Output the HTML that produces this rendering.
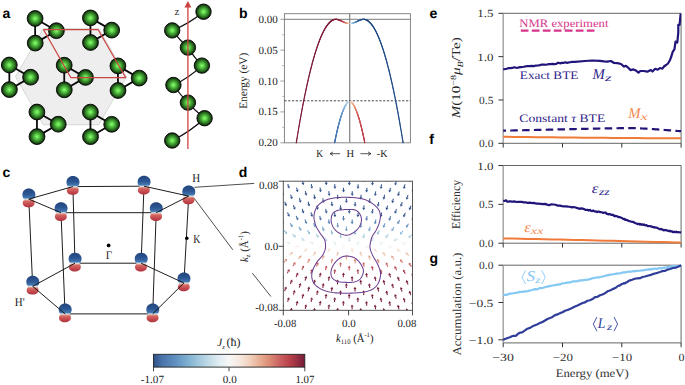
<!DOCTYPE html>
<html><head><meta charset="utf-8"><style>
html,body{margin:0;padding:0;background:#fff;width:685px;height:385px;overflow:hidden;}
svg{display:block;text-rendering:geometricPrecision;}
</style></head><body>
<svg width="685" height="385" viewBox="0 0 685 385">
<rect width="685" height="385" fill="#fff"/>
<defs>
<radialGradient id="gs" cx="0.5" cy="0.5" r="0.5" fx="0.5" fy="0.5">
 <stop offset="0" stop-color="#8cff78"/>
 <stop offset="0.18" stop-color="#6ce254"/>
 <stop offset="0.45" stop-color="#45a836"/>
 <stop offset="0.7" stop-color="#2b7021"/>
 <stop offset="0.88" stop-color="#173f10"/>
 <stop offset="1" stop-color="#0b1d07"/>
</radialGradient>
<linearGradient id="blob" gradientUnits="userSpaceOnUse" x1="0" y1="-10.5" x2="0" y2="8.3">
 <stop offset="0" stop-color="#22447c"/>
 <stop offset="0.3" stop-color="#2c5794"/>
 <stop offset="0.49" stop-color="#4677b0"/>
 <stop offset="0.54" stop-color="#9ec4de"/>
 <stop offset="0.565" stop-color="#dde8ee"/>
 <stop offset="0.595" stop-color="#e8b6a8"/>
 <stop offset="0.67" stop-color="#d46a64"/>
 <stop offset="0.85" stop-color="#c4474c"/>
 <stop offset="1" stop-color="#ac3440"/>
</linearGradient>
<linearGradient id="cbar" x1="0" y1="0" x2="1" y2="0"><stop offset="0" stop-color="#30518a"/><stop offset="0.056" stop-color="#4a74ab"/><stop offset="0.142" stop-color="#5f8fbf"/><stop offset="0.241" stop-color="#84b5d3"/><stop offset="0.307" stop-color="#a5cadf"/><stop offset="0.373" stop-color="#c5dde8"/><stop offset="0.44" stop-color="#e3eef3"/><stop offset="0.5" stop-color="#f7f7f7"/><stop offset="0.573" stop-color="#f7e8de"/><stop offset="0.638" stop-color="#f1d0bc"/><stop offset="0.704" stop-color="#e8ad92"/><stop offset="0.77" stop-color="#db8a74"/><stop offset="0.836" stop-color="#c86060"/><stop offset="0.902" stop-color="#b8404a"/><stop offset="0.968" stop-color="#8a2a40"/><stop offset="1.0" stop-color="#761b36"/></linearGradient>
</defs>
<text x="2.40" y="18.40" font-size="14" text-anchor="start" style="font-family:'Liberation Sans',sans-serif;font-weight:bold;font-style:normal" fill="#000">a</text>
<path d="M126.50,76.70 L98.75,124.76 L43.25,124.76 L15.50,76.70 L43.25,28.64 L98.75,28.64 Z" stroke="#cfcfcf" stroke-width="0.8" fill="#eeeeee" stroke-linejoin="round" stroke-linecap="butt" />
<path d="M35.10,18.50 L56.40,30.70 L35.20,43.10 Z" stroke="#0a0a0a" stroke-width="1.8" fill="none" stroke-linejoin="round" stroke-linecap="butt" />
<path d="M90.40,17.90 L111.70,30.10 L90.50,42.50 Z" stroke="#0a0a0a" stroke-width="1.8" fill="none" stroke-linejoin="round" stroke-linecap="butt" />
<path d="M9.30,65.00 L30.60,77.20 L9.40,89.60 Z" stroke="#0a0a0a" stroke-width="1.8" fill="none" stroke-linejoin="round" stroke-linecap="butt" />
<path d="M64.20,65.20 L85.50,77.40 L64.30,89.80 Z" stroke="#0a0a0a" stroke-width="1.8" fill="none" stroke-linejoin="round" stroke-linecap="butt" />
<path d="M117.90,65.90 L139.20,78.10 L118.00,90.50 Z" stroke="#0a0a0a" stroke-width="1.8" fill="none" stroke-linejoin="round" stroke-linecap="butt" />
<path d="M36.90,112.00 L58.20,124.20 L37.00,136.60 Z" stroke="#0a0a0a" stroke-width="1.8" fill="none" stroke-linejoin="round" stroke-linecap="butt" />
<path d="M90.40,112.10 L111.70,124.30 L90.50,136.70 Z" stroke="#0a0a0a" stroke-width="1.8" fill="none" stroke-linejoin="round" stroke-linecap="butt" />
<circle cx="35.10" cy="18.50" r="7.9" fill="url(#gs)" stroke="#050505" stroke-width="0.9"/>
<circle cx="56.40" cy="30.70" r="7.9" fill="url(#gs)" stroke="#050505" stroke-width="0.9"/>
<circle cx="35.20" cy="43.10" r="7.9" fill="url(#gs)" stroke="#050505" stroke-width="0.9"/>
<circle cx="90.40" cy="17.90" r="7.9" fill="url(#gs)" stroke="#050505" stroke-width="0.9"/>
<circle cx="111.70" cy="30.10" r="7.9" fill="url(#gs)" stroke="#050505" stroke-width="0.9"/>
<circle cx="90.50" cy="42.50" r="7.9" fill="url(#gs)" stroke="#050505" stroke-width="0.9"/>
<circle cx="9.30" cy="65.00" r="7.9" fill="url(#gs)" stroke="#050505" stroke-width="0.9"/>
<circle cx="30.60" cy="77.20" r="7.9" fill="url(#gs)" stroke="#050505" stroke-width="0.9"/>
<circle cx="9.40" cy="89.60" r="7.9" fill="url(#gs)" stroke="#050505" stroke-width="0.9"/>
<circle cx="64.20" cy="65.20" r="7.9" fill="url(#gs)" stroke="#050505" stroke-width="0.9"/>
<circle cx="85.50" cy="77.40" r="7.9" fill="url(#gs)" stroke="#050505" stroke-width="0.9"/>
<circle cx="64.30" cy="89.80" r="7.9" fill="url(#gs)" stroke="#050505" stroke-width="0.9"/>
<circle cx="117.90" cy="65.90" r="7.9" fill="url(#gs)" stroke="#050505" stroke-width="0.9"/>
<circle cx="139.20" cy="78.10" r="7.9" fill="url(#gs)" stroke="#050505" stroke-width="0.9"/>
<circle cx="118.00" cy="90.50" r="7.9" fill="url(#gs)" stroke="#050505" stroke-width="0.9"/>
<circle cx="36.90" cy="112.00" r="7.9" fill="url(#gs)" stroke="#050505" stroke-width="0.9"/>
<circle cx="58.20" cy="124.20" r="7.9" fill="url(#gs)" stroke="#050505" stroke-width="0.9"/>
<circle cx="37.00" cy="136.60" r="7.9" fill="url(#gs)" stroke="#050505" stroke-width="0.9"/>
<circle cx="90.40" cy="112.10" r="7.9" fill="url(#gs)" stroke="#050505" stroke-width="0.9"/>
<circle cx="111.70" cy="124.30" r="7.9" fill="url(#gs)" stroke="#050505" stroke-width="0.9"/>
<circle cx="90.50" cy="136.70" r="7.9" fill="url(#gs)" stroke="#050505" stroke-width="0.9"/>
<path d="M43.60,29.70 L98.20,29.70 L125.80,77.70 L70.90,77.70 Z" stroke="#cc4440" stroke-width="1.25" fill="none" stroke-linejoin="round" stroke-linecap="butt" />
<path d="M203.50,11.70 Q189.39,23.63 172.20,30.40" stroke="#111" stroke-width="1.3" fill="none"/>
<path d="M172.20,30.40 Q179.31,39.67 187.90,47.60" stroke="#111" stroke-width="1.3" fill="none"/>
<path d="M187.90,47.60 Q194.11,57.21 201.90,65.60" stroke="#111" stroke-width="1.3" fill="none"/>
<path d="M201.90,65.60 Q189.34,77.78 173.40,85.00" stroke="#111" stroke-width="1.3" fill="none"/>
<path d="M173.40,85.00 Q179.88,94.44 187.90,102.60" stroke="#111" stroke-width="1.3" fill="none"/>
<path d="M187.90,102.60 Q195.57,111.13 204.60,118.20" stroke="#111" stroke-width="1.3" fill="none"/>
<path d="M204.60,118.20 Q190.10,131.82 172.20,140.50" stroke="#111" stroke-width="1.3" fill="none"/>
<circle cx="203.50" cy="11.70" r="7.7" fill="url(#gs)" stroke="#050505" stroke-width="0.9"/>
<circle cx="172.20" cy="30.40" r="7.7" fill="url(#gs)" stroke="#050505" stroke-width="0.9"/>
<circle cx="187.90" cy="47.60" r="7.7" fill="url(#gs)" stroke="#050505" stroke-width="0.9"/>
<circle cx="201.90" cy="65.60" r="7.7" fill="url(#gs)" stroke="#050505" stroke-width="0.9"/>
<circle cx="173.40" cy="85.00" r="7.7" fill="url(#gs)" stroke="#050505" stroke-width="0.9"/>
<circle cx="187.90" cy="102.60" r="7.7" fill="url(#gs)" stroke="#050505" stroke-width="0.9"/>
<circle cx="204.60" cy="118.20" r="7.7" fill="url(#gs)" stroke="#050505" stroke-width="0.9"/>
<circle cx="172.20" cy="140.50" r="7.7" fill="url(#gs)" stroke="#050505" stroke-width="0.9"/>
<line x1="187.90" y1="149.00" x2="187.90" y2="6.00" stroke="#cc4440" stroke-width="1.3" />
<path d="M184.4,7.6 L187.9,1.0 L191.4,7.6 Z" fill="#cc4440"/>
<text x="174.60" y="14.60" font-size="11" text-anchor="start" style="font-family:'Liberation Serif',serif;font-weight:normal;font-style:normal" fill="#333">z</text>
<text x="239.00" y="18.30" font-size="14" text-anchor="start" style="font-family:'Liberation Sans',sans-serif;font-weight:bold;font-style:normal" fill="#000">b</text>
<rect x="284.4" y="13.7" width="126.0" height="129.10000000000002" fill="none" stroke="#7a7a7a" stroke-width="0.9"/>
<line x1="284.40" y1="19.30" x2="410.40" y2="19.30" stroke="#7a7a7a" stroke-width="1.0" />
<line x1="349.70" y1="13.70" x2="349.70" y2="142.80" stroke="#8a8a8a" stroke-width="1.3" />
<line x1="280.40" y1="19.30" x2="284.40" y2="19.30" stroke="#888" stroke-width="0.8" />
<text x="277.70" y="22.80" font-size="11" text-anchor="end" style="font-family:'Liberation Serif',serif;font-weight:normal;font-style:normal" fill="#222" textLength="19.30" lengthAdjust="spacingAndGlyphs">0.00</text>
<line x1="280.40" y1="50.17" x2="284.40" y2="50.17" stroke="#888" stroke-width="0.8" />
<text x="277.70" y="53.67" font-size="11" text-anchor="end" style="font-family:'Liberation Serif',serif;font-weight:normal;font-style:normal" fill="#222" textLength="19.30" lengthAdjust="spacingAndGlyphs">0.05</text>
<line x1="280.40" y1="81.05" x2="284.40" y2="81.05" stroke="#888" stroke-width="0.8" />
<text x="277.70" y="84.55" font-size="11" text-anchor="end" style="font-family:'Liberation Serif',serif;font-weight:normal;font-style:normal" fill="#222" textLength="19.30" lengthAdjust="spacingAndGlyphs">0.10</text>
<line x1="280.40" y1="111.92" x2="284.40" y2="111.92" stroke="#888" stroke-width="0.8" />
<text x="277.70" y="115.42" font-size="11" text-anchor="end" style="font-family:'Liberation Serif',serif;font-weight:normal;font-style:normal" fill="#222" textLength="19.30" lengthAdjust="spacingAndGlyphs">0.15</text>
<line x1="280.40" y1="142.80" x2="284.40" y2="142.80" stroke="#888" stroke-width="0.8" />
<text x="277.70" y="146.30" font-size="11" text-anchor="end" style="font-family:'Liberation Serif',serif;font-weight:normal;font-style:normal" fill="#222" textLength="19.30" lengthAdjust="spacingAndGlyphs">0.20</text>
<line x1="282.20" y1="34.74" x2="284.40" y2="34.74" stroke="#999" stroke-width="0.7" />
<line x1="282.20" y1="65.61" x2="284.40" y2="65.61" stroke="#999" stroke-width="0.7" />
<line x1="282.20" y1="96.49" x2="284.40" y2="96.49" stroke="#999" stroke-width="0.7" />
<line x1="282.20" y1="127.36" x2="284.40" y2="127.36" stroke="#999" stroke-width="0.7" />
<line x1="284.40" y1="100.81" x2="410.40" y2="100.81" stroke="#333" stroke-width="0.9" stroke-dasharray="2.2,1.6"/>
<text x="246.80" y="80.80" font-size="11.5" text-anchor="middle" style="font-family:'Liberation Serif',serif;font-weight:normal;font-style:normal" fill="#222" textLength="56.00" lengthAdjust="spacingAndGlyphs" transform="rotate(-90 246.80 80.80)">Energy (eV)</text>
<text x="316.30" y="156.90" font-size="10.2" text-anchor="start" style="font-family:'Liberation Serif',serif;font-weight:normal;font-style:normal" fill="#222" textLength="6.80" lengthAdjust="spacingAndGlyphs">K</text>
<text x="346.40" y="156.90" font-size="10.2" text-anchor="start" style="font-family:'Liberation Serif',serif;font-weight:normal;font-style:normal" fill="#222" textLength="7.60" lengthAdjust="spacingAndGlyphs">H</text>
<text x="376.80" y="156.90" font-size="10.2" text-anchor="start" style="font-family:'Liberation Serif',serif;font-weight:normal;font-style:normal" fill="#222" textLength="10.60" lengthAdjust="spacingAndGlyphs">-K</text>
<line x1="330.20" y1="153.70" x2="340.10" y2="153.70" stroke="#222" stroke-width="0.75" />
<line x1="360.40" y1="153.70" x2="370.80" y2="153.70" stroke="#222" stroke-width="0.75" />
<path d="M330.0,153.7 L333.0,151.9 M330.0,153.7 L333.0,155.5" stroke="#222" stroke-width="0.75" fill="none"/>
<path d="M371.0,153.7 L368.0,151.9 M371.0,153.7 L368.0,155.5" stroke="#222" stroke-width="0.75" fill="none"/>
<line x1="348.90" y1="23.47" x2="348.65" y2="23.45" stroke="#fbe6d8" stroke-width="1.15" stroke-linecap="round"/>
<line x1="348.65" y1="23.45" x2="348.40" y2="23.42" stroke="#fadecc" stroke-width="1.15" stroke-linecap="round"/>
<line x1="348.40" y1="23.42" x2="348.14" y2="23.39" stroke="#f8d5c0" stroke-width="1.15" stroke-linecap="round"/>
<line x1="348.14" y1="23.39" x2="347.89" y2="23.36" stroke="#f7cdb4" stroke-width="1.15" stroke-linecap="round"/>
<line x1="347.89" y1="23.36" x2="347.64" y2="23.31" stroke="#f6c4a9" stroke-width="1.15" stroke-linecap="round"/>
<line x1="347.64" y1="23.31" x2="347.39" y2="23.27" stroke="#f4bc9d" stroke-width="1.15" stroke-linecap="round"/>
<line x1="347.39" y1="23.27" x2="347.14" y2="23.21" stroke="#f3b391" stroke-width="1.15" stroke-linecap="round"/>
<line x1="347.14" y1="23.21" x2="346.88" y2="23.16" stroke="#f1ab87" stroke-width="1.15" stroke-linecap="round"/>
<line x1="346.88" y1="23.16" x2="346.63" y2="23.09" stroke="#efa482" stroke-width="1.15" stroke-linecap="round"/>
<line x1="346.63" y1="23.09" x2="346.38" y2="23.03" stroke="#ec9d7e" stroke-width="1.15" stroke-linecap="round"/>
<line x1="346.38" y1="23.03" x2="346.13" y2="22.96" stroke="#e99679" stroke-width="1.15" stroke-linecap="round"/>
<line x1="346.13" y1="22.96" x2="345.88" y2="22.88" stroke="#e78f74" stroke-width="1.15" stroke-linecap="round"/>
<line x1="345.88" y1="22.88" x2="345.62" y2="22.80" stroke="#e48770" stroke-width="1.15" stroke-linecap="round"/>
<line x1="345.62" y1="22.80" x2="345.37" y2="22.71" stroke="#e2806b" stroke-width="1.15" stroke-linecap="round"/>
<line x1="345.37" y1="22.71" x2="345.12" y2="22.62" stroke="#df7966" stroke-width="1.15" stroke-linecap="round"/>
<line x1="345.12" y1="22.62" x2="344.87" y2="22.53" stroke="#dc7262" stroke-width="1.15" stroke-linecap="round"/>
<line x1="344.87" y1="22.53" x2="344.62" y2="22.44" stroke="#da6b5d" stroke-width="1.15" stroke-linecap="round"/>
<line x1="344.62" y1="22.44" x2="344.36" y2="22.34" stroke="#d76559" stroke-width="1.15" stroke-linecap="round"/>
<line x1="344.36" y1="22.34" x2="344.11" y2="22.23" stroke="#d46158" stroke-width="1.15" stroke-linecap="round"/>
<line x1="344.11" y1="22.23" x2="343.86" y2="22.13" stroke="#d15d56" stroke-width="1.15" stroke-linecap="round"/>
<line x1="343.86" y1="22.13" x2="343.61" y2="22.02" stroke="#ce5954" stroke-width="1.15" stroke-linecap="round"/>
<line x1="343.61" y1="22.02" x2="343.35" y2="21.91" stroke="#cb5553" stroke-width="1.15" stroke-linecap="round"/>
<line x1="343.35" y1="21.91" x2="343.10" y2="21.80" stroke="#c85051" stroke-width="1.15" stroke-linecap="round"/>
<line x1="343.10" y1="21.80" x2="342.85" y2="21.69" stroke="#c54c4f" stroke-width="1.15" stroke-linecap="round"/>
<line x1="342.85" y1="21.69" x2="342.60" y2="21.57" stroke="#c2484e" stroke-width="1.15" stroke-linecap="round"/>
<line x1="342.60" y1="21.57" x2="342.35" y2="21.45" stroke="#bf444c" stroke-width="1.15" stroke-linecap="round"/>
<line x1="342.35" y1="21.45" x2="342.09" y2="21.34" stroke="#bd404a" stroke-width="1.15" stroke-linecap="round"/>
<line x1="342.09" y1="21.34" x2="341.84" y2="21.22" stroke="#ba3c49" stroke-width="1.15" stroke-linecap="round"/>
<line x1="341.84" y1="21.22" x2="341.59" y2="21.10" stroke="#b73847" stroke-width="1.15" stroke-linecap="round"/>
<line x1="341.59" y1="21.10" x2="341.34" y2="20.98" stroke="#b33546" stroke-width="1.15" stroke-linecap="round"/>
<line x1="341.34" y1="20.98" x2="341.09" y2="20.86" stroke="#b03345" stroke-width="1.15" stroke-linecap="round"/>
<line x1="341.09" y1="20.86" x2="340.83" y2="20.75" stroke="#ac3144" stroke-width="1.15" stroke-linecap="round"/>
<line x1="340.83" y1="20.75" x2="340.58" y2="20.63" stroke="#a92f43" stroke-width="1.15" stroke-linecap="round"/>
<line x1="340.58" y1="20.63" x2="340.33" y2="20.52" stroke="#a52d42" stroke-width="1.15" stroke-linecap="round"/>
<line x1="340.33" y1="20.52" x2="340.08" y2="20.41" stroke="#a12b41" stroke-width="1.15" stroke-linecap="round"/>
<line x1="340.08" y1="20.41" x2="339.83" y2="20.30" stroke="#9e2a40" stroke-width="1.15" stroke-linecap="round"/>
<line x1="339.83" y1="20.30" x2="339.57" y2="20.19" stroke="#9a283f" stroke-width="1.15" stroke-linecap="round"/>
<line x1="339.57" y1="20.19" x2="339.32" y2="20.09" stroke="#97263d" stroke-width="1.15" stroke-linecap="round"/>
<line x1="339.32" y1="20.09" x2="339.07" y2="19.99" stroke="#93243c" stroke-width="1.15" stroke-linecap="round"/>
<line x1="339.07" y1="19.99" x2="338.82" y2="19.90" stroke="#8f223b" stroke-width="1.15" stroke-linecap="round"/>
<line x1="338.82" y1="19.90" x2="338.57" y2="19.81" stroke="#8c203a" stroke-width="1.15" stroke-linecap="round"/>
<line x1="338.57" y1="19.81" x2="338.31" y2="19.73" stroke="#891f3a" stroke-width="1.15" stroke-linecap="round"/>
<line x1="338.31" y1="19.73" x2="338.06" y2="19.65" stroke="#881e39" stroke-width="1.15" stroke-linecap="round"/>
<line x1="338.06" y1="19.65" x2="337.81" y2="19.58" stroke="#871e39" stroke-width="1.15" stroke-linecap="round"/>
<line x1="337.81" y1="19.58" x2="337.56" y2="19.51" stroke="#861e39" stroke-width="1.15" stroke-linecap="round"/>
<line x1="337.56" y1="19.51" x2="337.31" y2="19.46" stroke="#851d38" stroke-width="1.15" stroke-linecap="round"/>
<line x1="337.31" y1="19.46" x2="337.05" y2="19.41" stroke="#841d38" stroke-width="1.15" stroke-linecap="round"/>
<line x1="337.05" y1="19.41" x2="336.80" y2="19.37" stroke="#831c38" stroke-width="1.15" stroke-linecap="round"/>
<line x1="336.80" y1="19.37" x2="336.55" y2="19.34" stroke="#821c37" stroke-width="1.15" stroke-linecap="round"/>
<line x1="336.55" y1="19.34" x2="336.30" y2="19.31" stroke="#811b37" stroke-width="1.15" stroke-linecap="round"/>
<line x1="336.30" y1="19.31" x2="336.05" y2="19.30" stroke="#801b37" stroke-width="1.15" stroke-linecap="round"/>
<line x1="336.05" y1="19.30" x2="335.79" y2="19.30" stroke="#7e1b36" stroke-width="1.15" stroke-linecap="round"/>
<line x1="335.79" y1="19.30" x2="335.54" y2="19.31" stroke="#7d1a36" stroke-width="1.15" stroke-linecap="round"/>
<line x1="335.54" y1="19.31" x2="335.29" y2="19.33" stroke="#7d1a36" stroke-width="1.15" stroke-linecap="round"/>
<line x1="335.29" y1="19.33" x2="335.04" y2="19.36" stroke="#7d1a36" stroke-width="1.15" stroke-linecap="round"/>
<line x1="335.04" y1="19.36" x2="334.78" y2="19.40" stroke="#7d1a36" stroke-width="1.15" stroke-linecap="round"/>
<line x1="334.78" y1="19.40" x2="334.53" y2="19.45" stroke="#7d1a36" stroke-width="1.15" stroke-linecap="round"/>
<line x1="334.53" y1="19.45" x2="334.28" y2="19.51" stroke="#7d1a36" stroke-width="1.15" stroke-linecap="round"/>
<line x1="334.28" y1="19.51" x2="334.03" y2="19.58" stroke="#7d1a36" stroke-width="1.15" stroke-linecap="round"/>
<line x1="334.03" y1="19.58" x2="333.78" y2="19.65" stroke="#7d1a36" stroke-width="1.15" stroke-linecap="round"/>
<line x1="333.78" y1="19.65" x2="333.52" y2="19.74" stroke="#7d1a36" stroke-width="1.15" stroke-linecap="round"/>
<line x1="333.52" y1="19.74" x2="333.27" y2="19.84" stroke="#7d1a36" stroke-width="1.15" stroke-linecap="round"/>
<line x1="333.27" y1="19.84" x2="333.02" y2="19.95" stroke="#7d1a36" stroke-width="1.15" stroke-linecap="round"/>
<line x1="333.02" y1="19.95" x2="332.77" y2="20.07" stroke="#7d1a36" stroke-width="1.15" stroke-linecap="round"/>
<line x1="332.77" y1="20.07" x2="332.52" y2="20.20" stroke="#7d1a36" stroke-width="1.15" stroke-linecap="round"/>
<line x1="332.52" y1="20.20" x2="332.26" y2="20.34" stroke="#7d1a36" stroke-width="1.15" stroke-linecap="round"/>
<line x1="332.26" y1="20.34" x2="332.01" y2="20.49" stroke="#7d1a36" stroke-width="1.15" stroke-linecap="round"/>
<line x1="332.01" y1="20.49" x2="331.76" y2="20.65" stroke="#7d1a36" stroke-width="1.15" stroke-linecap="round"/>
<line x1="331.76" y1="20.65" x2="331.51" y2="20.82" stroke="#7d1a36" stroke-width="1.15" stroke-linecap="round"/>
<line x1="331.51" y1="20.82" x2="331.26" y2="21.00" stroke="#7d1a36" stroke-width="1.15" stroke-linecap="round"/>
<line x1="331.26" y1="21.00" x2="331.00" y2="21.19" stroke="#7d1a36" stroke-width="1.15" stroke-linecap="round"/>
<line x1="331.00" y1="21.19" x2="330.75" y2="21.39" stroke="#7d1a36" stroke-width="1.15" stroke-linecap="round"/>
<line x1="330.75" y1="21.39" x2="330.50" y2="21.60" stroke="#7d1a36" stroke-width="1.15" stroke-linecap="round"/>
<line x1="330.50" y1="21.60" x2="330.25" y2="21.82" stroke="#7d1a36" stroke-width="1.15" stroke-linecap="round"/>
<line x1="330.25" y1="21.82" x2="330.00" y2="22.04" stroke="#7d1a36" stroke-width="1.15" stroke-linecap="round"/>
<line x1="330.00" y1="22.04" x2="329.74" y2="22.28" stroke="#7d1a36" stroke-width="1.15" stroke-linecap="round"/>
<line x1="329.74" y1="22.28" x2="329.49" y2="22.53" stroke="#7d1a36" stroke-width="1.15" stroke-linecap="round"/>
<line x1="329.49" y1="22.53" x2="329.24" y2="22.79" stroke="#7d1a36" stroke-width="1.15" stroke-linecap="round"/>
<line x1="329.24" y1="22.79" x2="328.99" y2="23.06" stroke="#7d1a36" stroke-width="1.15" stroke-linecap="round"/>
<line x1="328.99" y1="23.06" x2="328.74" y2="23.34" stroke="#7d1a36" stroke-width="1.15" stroke-linecap="round"/>
<line x1="328.74" y1="23.34" x2="328.48" y2="23.63" stroke="#7d1a36" stroke-width="1.15" stroke-linecap="round"/>
<line x1="328.48" y1="23.63" x2="328.23" y2="23.93" stroke="#7d1a36" stroke-width="1.15" stroke-linecap="round"/>
<line x1="328.23" y1="23.93" x2="327.98" y2="24.24" stroke="#7d1a36" stroke-width="1.15" stroke-linecap="round"/>
<line x1="327.98" y1="24.24" x2="327.73" y2="24.56" stroke="#7d1a36" stroke-width="1.15" stroke-linecap="round"/>
<line x1="327.73" y1="24.56" x2="327.48" y2="24.89" stroke="#7d1a36" stroke-width="1.15" stroke-linecap="round"/>
<line x1="327.48" y1="24.89" x2="327.22" y2="25.23" stroke="#7d1a36" stroke-width="1.15" stroke-linecap="round"/>
<line x1="327.22" y1="25.23" x2="326.97" y2="25.58" stroke="#7d1a36" stroke-width="1.15" stroke-linecap="round"/>
<line x1="326.97" y1="25.58" x2="326.72" y2="25.94" stroke="#7d1a36" stroke-width="1.15" stroke-linecap="round"/>
<line x1="326.72" y1="25.94" x2="326.47" y2="26.31" stroke="#7d1a36" stroke-width="1.15" stroke-linecap="round"/>
<line x1="326.47" y1="26.31" x2="326.22" y2="26.68" stroke="#7d1a36" stroke-width="1.15" stroke-linecap="round"/>
<line x1="326.22" y1="26.68" x2="325.96" y2="27.07" stroke="#7d1a36" stroke-width="1.15" stroke-linecap="round"/>
<line x1="325.96" y1="27.07" x2="325.71" y2="27.47" stroke="#7d1a36" stroke-width="1.15" stroke-linecap="round"/>
<line x1="325.71" y1="27.47" x2="325.46" y2="27.88" stroke="#7d1a36" stroke-width="1.15" stroke-linecap="round"/>
<line x1="325.46" y1="27.88" x2="325.21" y2="28.30" stroke="#7d1a36" stroke-width="1.15" stroke-linecap="round"/>
<line x1="325.21" y1="28.30" x2="324.95" y2="28.73" stroke="#7d1a36" stroke-width="1.15" stroke-linecap="round"/>
<line x1="324.95" y1="28.73" x2="324.70" y2="29.17" stroke="#7d1a36" stroke-width="1.15" stroke-linecap="round"/>
<line x1="324.70" y1="29.17" x2="324.45" y2="29.62" stroke="#7d1a36" stroke-width="1.15" stroke-linecap="round"/>
<line x1="324.45" y1="29.62" x2="324.20" y2="30.08" stroke="#7d1a36" stroke-width="1.15" stroke-linecap="round"/>
<line x1="324.20" y1="30.08" x2="323.95" y2="30.55" stroke="#7d1a36" stroke-width="1.15" stroke-linecap="round"/>
<line x1="323.95" y1="30.55" x2="323.69" y2="31.03" stroke="#7d1a36" stroke-width="1.15" stroke-linecap="round"/>
<line x1="323.69" y1="31.03" x2="323.44" y2="31.52" stroke="#7d1a36" stroke-width="1.15" stroke-linecap="round"/>
<line x1="323.44" y1="31.52" x2="323.19" y2="32.02" stroke="#7d1a36" stroke-width="1.15" stroke-linecap="round"/>
<line x1="323.19" y1="32.02" x2="322.94" y2="32.53" stroke="#7d1a36" stroke-width="1.15" stroke-linecap="round"/>
<line x1="322.94" y1="32.53" x2="322.69" y2="33.05" stroke="#7d1a36" stroke-width="1.15" stroke-linecap="round"/>
<line x1="322.69" y1="33.05" x2="322.43" y2="33.58" stroke="#7d1a36" stroke-width="1.15" stroke-linecap="round"/>
<line x1="322.43" y1="33.58" x2="322.18" y2="34.12" stroke="#7d1a36" stroke-width="1.15" stroke-linecap="round"/>
<line x1="322.18" y1="34.12" x2="321.93" y2="34.66" stroke="#7d1a36" stroke-width="1.15" stroke-linecap="round"/>
<line x1="321.93" y1="34.66" x2="321.68" y2="35.22" stroke="#7d1a36" stroke-width="1.15" stroke-linecap="round"/>
<line x1="321.68" y1="35.22" x2="321.43" y2="35.79" stroke="#7d1a36" stroke-width="1.15" stroke-linecap="round"/>
<line x1="321.43" y1="35.79" x2="321.17" y2="36.37" stroke="#7d1a36" stroke-width="1.15" stroke-linecap="round"/>
<line x1="321.17" y1="36.37" x2="320.92" y2="36.96" stroke="#7d1a36" stroke-width="1.15" stroke-linecap="round"/>
<line x1="320.92" y1="36.96" x2="320.67" y2="37.56" stroke="#7d1a36" stroke-width="1.15" stroke-linecap="round"/>
<line x1="320.67" y1="37.56" x2="320.42" y2="38.17" stroke="#7d1a36" stroke-width="1.15" stroke-linecap="round"/>
<line x1="320.42" y1="38.17" x2="320.17" y2="38.79" stroke="#7d1a36" stroke-width="1.15" stroke-linecap="round"/>
<line x1="320.17" y1="38.79" x2="319.91" y2="39.42" stroke="#7d1a36" stroke-width="1.15" stroke-linecap="round"/>
<line x1="319.91" y1="39.42" x2="319.66" y2="40.06" stroke="#7d1a36" stroke-width="1.15" stroke-linecap="round"/>
<line x1="319.66" y1="40.06" x2="319.41" y2="40.71" stroke="#7d1a36" stroke-width="1.15" stroke-linecap="round"/>
<line x1="319.41" y1="40.71" x2="319.16" y2="41.37" stroke="#7d1a36" stroke-width="1.15" stroke-linecap="round"/>
<line x1="319.16" y1="41.37" x2="318.91" y2="42.04" stroke="#7d1a36" stroke-width="1.15" stroke-linecap="round"/>
<line x1="318.91" y1="42.04" x2="318.65" y2="42.72" stroke="#7d1a36" stroke-width="1.15" stroke-linecap="round"/>
<line x1="318.65" y1="42.72" x2="318.40" y2="43.41" stroke="#7d1a36" stroke-width="1.15" stroke-linecap="round"/>
<line x1="318.40" y1="43.41" x2="318.15" y2="44.11" stroke="#7d1a36" stroke-width="1.15" stroke-linecap="round"/>
<line x1="318.15" y1="44.11" x2="317.90" y2="44.82" stroke="#7d1a36" stroke-width="1.15" stroke-linecap="round"/>
<line x1="317.90" y1="44.82" x2="317.65" y2="45.54" stroke="#7d1a36" stroke-width="1.15" stroke-linecap="round"/>
<line x1="317.65" y1="45.54" x2="317.39" y2="46.27" stroke="#7d1a36" stroke-width="1.15" stroke-linecap="round"/>
<line x1="317.39" y1="46.27" x2="317.14" y2="47.01" stroke="#7d1a36" stroke-width="1.15" stroke-linecap="round"/>
<line x1="317.14" y1="47.01" x2="316.89" y2="47.75" stroke="#7d1a36" stroke-width="1.15" stroke-linecap="round"/>
<line x1="316.89" y1="47.75" x2="316.64" y2="48.51" stroke="#7d1a36" stroke-width="1.15" stroke-linecap="round"/>
<line x1="316.64" y1="48.51" x2="316.38" y2="49.28" stroke="#7d1a36" stroke-width="1.15" stroke-linecap="round"/>
<line x1="316.38" y1="49.28" x2="316.13" y2="50.06" stroke="#7d1a36" stroke-width="1.15" stroke-linecap="round"/>
<line x1="316.13" y1="50.06" x2="315.88" y2="50.85" stroke="#7d1a36" stroke-width="1.15" stroke-linecap="round"/>
<line x1="315.88" y1="50.85" x2="315.63" y2="51.65" stroke="#7d1a36" stroke-width="1.15" stroke-linecap="round"/>
<line x1="315.63" y1="51.65" x2="315.38" y2="52.46" stroke="#7d1a36" stroke-width="1.15" stroke-linecap="round"/>
<line x1="315.38" y1="52.46" x2="315.12" y2="53.28" stroke="#7d1a36" stroke-width="1.15" stroke-linecap="round"/>
<line x1="315.12" y1="53.28" x2="314.87" y2="54.11" stroke="#7d1a36" stroke-width="1.15" stroke-linecap="round"/>
<line x1="314.87" y1="54.11" x2="314.62" y2="54.95" stroke="#7d1a36" stroke-width="1.15" stroke-linecap="round"/>
<line x1="314.62" y1="54.95" x2="314.37" y2="55.80" stroke="#7d1a36" stroke-width="1.15" stroke-linecap="round"/>
<line x1="314.37" y1="55.80" x2="314.12" y2="56.66" stroke="#7d1a36" stroke-width="1.15" stroke-linecap="round"/>
<line x1="314.12" y1="56.66" x2="313.86" y2="57.53" stroke="#7d1a36" stroke-width="1.15" stroke-linecap="round"/>
<line x1="313.86" y1="57.53" x2="313.61" y2="58.41" stroke="#7d1a36" stroke-width="1.15" stroke-linecap="round"/>
<line x1="313.61" y1="58.41" x2="313.36" y2="59.30" stroke="#7d1a36" stroke-width="1.15" stroke-linecap="round"/>
<line x1="313.36" y1="59.30" x2="313.11" y2="60.20" stroke="#7d1a36" stroke-width="1.15" stroke-linecap="round"/>
<line x1="313.11" y1="60.20" x2="312.86" y2="61.11" stroke="#7d1a36" stroke-width="1.15" stroke-linecap="round"/>
<line x1="312.86" y1="61.11" x2="312.60" y2="62.03" stroke="#7d1a36" stroke-width="1.15" stroke-linecap="round"/>
<line x1="312.60" y1="62.03" x2="312.35" y2="62.96" stroke="#7d1a36" stroke-width="1.15" stroke-linecap="round"/>
<line x1="312.35" y1="62.96" x2="312.10" y2="63.90" stroke="#7d1a36" stroke-width="1.15" stroke-linecap="round"/>
<line x1="312.10" y1="63.90" x2="311.85" y2="64.85" stroke="#7d1a36" stroke-width="1.15" stroke-linecap="round"/>
<line x1="311.85" y1="64.85" x2="311.60" y2="65.81" stroke="#7d1a36" stroke-width="1.15" stroke-linecap="round"/>
<line x1="311.60" y1="65.81" x2="311.34" y2="66.78" stroke="#7d1a36" stroke-width="1.15" stroke-linecap="round"/>
<line x1="311.34" y1="66.78" x2="311.09" y2="67.75" stroke="#7d1a36" stroke-width="1.15" stroke-linecap="round"/>
<line x1="311.09" y1="67.75" x2="310.84" y2="68.74" stroke="#7d1a36" stroke-width="1.15" stroke-linecap="round"/>
<line x1="310.84" y1="68.74" x2="310.59" y2="69.74" stroke="#7d1a36" stroke-width="1.15" stroke-linecap="round"/>
<line x1="310.59" y1="69.74" x2="310.34" y2="70.75" stroke="#7d1a36" stroke-width="1.15" stroke-linecap="round"/>
<line x1="310.34" y1="70.75" x2="310.08" y2="71.77" stroke="#7d1a36" stroke-width="1.15" stroke-linecap="round"/>
<line x1="310.08" y1="71.77" x2="309.83" y2="72.80" stroke="#7d1a36" stroke-width="1.15" stroke-linecap="round"/>
<line x1="309.83" y1="72.80" x2="309.58" y2="73.84" stroke="#7d1a36" stroke-width="1.15" stroke-linecap="round"/>
<line x1="309.58" y1="73.84" x2="309.33" y2="74.89" stroke="#7d1a36" stroke-width="1.15" stroke-linecap="round"/>
<line x1="309.33" y1="74.89" x2="309.08" y2="75.95" stroke="#7d1a36" stroke-width="1.15" stroke-linecap="round"/>
<line x1="309.08" y1="75.95" x2="308.82" y2="77.02" stroke="#7d1a36" stroke-width="1.15" stroke-linecap="round"/>
<line x1="308.82" y1="77.02" x2="308.57" y2="78.10" stroke="#7d1a36" stroke-width="1.15" stroke-linecap="round"/>
<line x1="308.57" y1="78.10" x2="308.32" y2="79.19" stroke="#7d1a36" stroke-width="1.15" stroke-linecap="round"/>
<line x1="308.32" y1="79.19" x2="308.07" y2="80.29" stroke="#7d1a36" stroke-width="1.15" stroke-linecap="round"/>
<line x1="308.07" y1="80.29" x2="307.82" y2="81.40" stroke="#7d1a36" stroke-width="1.15" stroke-linecap="round"/>
<line x1="307.82" y1="81.40" x2="307.56" y2="82.52" stroke="#7d1a36" stroke-width="1.15" stroke-linecap="round"/>
<line x1="307.56" y1="82.52" x2="307.31" y2="83.65" stroke="#7d1a36" stroke-width="1.15" stroke-linecap="round"/>
<line x1="307.31" y1="83.65" x2="307.06" y2="84.79" stroke="#7d1a36" stroke-width="1.15" stroke-linecap="round"/>
<line x1="307.06" y1="84.79" x2="306.81" y2="85.94" stroke="#7d1a36" stroke-width="1.15" stroke-linecap="round"/>
<line x1="306.81" y1="85.94" x2="306.55" y2="87.10" stroke="#7d1a36" stroke-width="1.15" stroke-linecap="round"/>
<line x1="306.55" y1="87.10" x2="306.30" y2="88.27" stroke="#7d1a36" stroke-width="1.15" stroke-linecap="round"/>
<line x1="306.30" y1="88.27" x2="306.05" y2="89.45" stroke="#7d1a36" stroke-width="1.15" stroke-linecap="round"/>
<line x1="306.05" y1="89.45" x2="305.80" y2="90.64" stroke="#7d1a36" stroke-width="1.15" stroke-linecap="round"/>
<line x1="305.80" y1="90.64" x2="305.55" y2="91.84" stroke="#7d1a36" stroke-width="1.15" stroke-linecap="round"/>
<line x1="305.55" y1="91.84" x2="305.29" y2="93.05" stroke="#7d1a36" stroke-width="1.15" stroke-linecap="round"/>
<line x1="305.29" y1="93.05" x2="305.04" y2="94.27" stroke="#7d1a36" stroke-width="1.15" stroke-linecap="round"/>
<line x1="305.04" y1="94.27" x2="304.79" y2="95.50" stroke="#7d1a36" stroke-width="1.15" stroke-linecap="round"/>
<line x1="304.79" y1="95.50" x2="304.54" y2="96.74" stroke="#7d1a36" stroke-width="1.15" stroke-linecap="round"/>
<line x1="304.54" y1="96.74" x2="304.29" y2="97.99" stroke="#7d1a36" stroke-width="1.15" stroke-linecap="round"/>
<line x1="304.29" y1="97.99" x2="304.03" y2="99.25" stroke="#7d1a36" stroke-width="1.15" stroke-linecap="round"/>
<line x1="304.03" y1="99.25" x2="303.78" y2="100.52" stroke="#7d1a36" stroke-width="1.15" stroke-linecap="round"/>
<line x1="303.78" y1="100.52" x2="303.53" y2="101.80" stroke="#7d1a36" stroke-width="1.15" stroke-linecap="round"/>
<line x1="303.53" y1="101.80" x2="303.28" y2="103.08" stroke="#7d1a36" stroke-width="1.15" stroke-linecap="round"/>
<line x1="303.28" y1="103.08" x2="303.03" y2="104.38" stroke="#7d1a36" stroke-width="1.15" stroke-linecap="round"/>
<line x1="303.03" y1="104.38" x2="302.77" y2="105.69" stroke="#7d1a36" stroke-width="1.15" stroke-linecap="round"/>
<line x1="302.77" y1="105.69" x2="302.52" y2="107.01" stroke="#7d1a36" stroke-width="1.15" stroke-linecap="round"/>
<line x1="302.52" y1="107.01" x2="302.27" y2="108.34" stroke="#7d1a36" stroke-width="1.15" stroke-linecap="round"/>
<line x1="302.27" y1="108.34" x2="302.02" y2="109.68" stroke="#7d1a36" stroke-width="1.15" stroke-linecap="round"/>
<line x1="302.02" y1="109.68" x2="301.77" y2="111.03" stroke="#7d1a36" stroke-width="1.15" stroke-linecap="round"/>
<line x1="301.77" y1="111.03" x2="301.51" y2="112.39" stroke="#7d1a36" stroke-width="1.15" stroke-linecap="round"/>
<line x1="301.51" y1="112.39" x2="301.26" y2="113.76" stroke="#7d1a36" stroke-width="1.15" stroke-linecap="round"/>
<line x1="301.26" y1="113.76" x2="301.01" y2="115.14" stroke="#7d1a36" stroke-width="1.15" stroke-linecap="round"/>
<line x1="301.01" y1="115.14" x2="300.76" y2="116.53" stroke="#7d1a36" stroke-width="1.15" stroke-linecap="round"/>
<line x1="300.76" y1="116.53" x2="300.51" y2="117.93" stroke="#7d1a36" stroke-width="1.15" stroke-linecap="round"/>
<line x1="300.51" y1="117.93" x2="300.25" y2="119.34" stroke="#7d1a36" stroke-width="1.15" stroke-linecap="round"/>
<line x1="300.25" y1="119.34" x2="300.00" y2="120.76" stroke="#7d1a36" stroke-width="1.15" stroke-linecap="round"/>
<line x1="300.00" y1="120.76" x2="299.75" y2="122.19" stroke="#7d1a36" stroke-width="1.15" stroke-linecap="round"/>
<line x1="299.75" y1="122.19" x2="299.50" y2="123.63" stroke="#7d1a36" stroke-width="1.15" stroke-linecap="round"/>
<line x1="299.50" y1="123.63" x2="299.25" y2="125.08" stroke="#7d1a36" stroke-width="1.15" stroke-linecap="round"/>
<line x1="299.25" y1="125.08" x2="298.99" y2="126.54" stroke="#7d1a36" stroke-width="1.15" stroke-linecap="round"/>
<line x1="298.99" y1="126.54" x2="298.74" y2="128.01" stroke="#7d1a36" stroke-width="1.15" stroke-linecap="round"/>
<line x1="298.74" y1="128.01" x2="298.49" y2="129.49" stroke="#7d1a36" stroke-width="1.15" stroke-linecap="round"/>
<line x1="298.49" y1="129.49" x2="298.24" y2="130.98" stroke="#7d1a36" stroke-width="1.15" stroke-linecap="round"/>
<line x1="298.24" y1="130.98" x2="297.98" y2="132.48" stroke="#7d1a36" stroke-width="1.15" stroke-linecap="round"/>
<line x1="297.98" y1="132.48" x2="297.73" y2="133.99" stroke="#7d1a36" stroke-width="1.15" stroke-linecap="round"/>
<line x1="297.73" y1="133.99" x2="297.48" y2="135.51" stroke="#7d1a36" stroke-width="1.15" stroke-linecap="round"/>
<line x1="297.48" y1="135.51" x2="297.23" y2="137.04" stroke="#7d1a36" stroke-width="1.15" stroke-linecap="round"/>
<line x1="297.23" y1="137.04" x2="296.98" y2="138.58" stroke="#7d1a36" stroke-width="1.15" stroke-linecap="round"/>
<line x1="296.98" y1="138.58" x2="296.72" y2="140.13" stroke="#7d1a36" stroke-width="1.15" stroke-linecap="round"/>
<line x1="296.72" y1="140.13" x2="296.47" y2="141.69" stroke="#7d1a36" stroke-width="1.15" stroke-linecap="round"/>
<line x1="296.47" y1="141.69" x2="296.29" y2="142.80" stroke="#7d1a36" stroke-width="1.15" stroke-linecap="round"/>
<line x1="350.50" y1="23.47" x2="350.75" y2="23.45" stroke="#dceef6" stroke-width="1.15" stroke-linecap="round"/>
<line x1="350.75" y1="23.45" x2="351.00" y2="23.42" stroke="#d4e9f3" stroke-width="1.15" stroke-linecap="round"/>
<line x1="351.00" y1="23.42" x2="351.26" y2="23.39" stroke="#cce4f0" stroke-width="1.15" stroke-linecap="round"/>
<line x1="351.26" y1="23.39" x2="351.51" y2="23.36" stroke="#c4dfee" stroke-width="1.15" stroke-linecap="round"/>
<line x1="351.51" y1="23.36" x2="351.76" y2="23.31" stroke="#bcdaeb" stroke-width="1.15" stroke-linecap="round"/>
<line x1="351.76" y1="23.31" x2="352.01" y2="23.27" stroke="#b4d6e8" stroke-width="1.15" stroke-linecap="round"/>
<line x1="352.01" y1="23.27" x2="352.26" y2="23.21" stroke="#acd1e5" stroke-width="1.15" stroke-linecap="round"/>
<line x1="352.26" y1="23.21" x2="352.52" y2="23.16" stroke="#a4cce2" stroke-width="1.15" stroke-linecap="round"/>
<line x1="352.52" y1="23.16" x2="352.77" y2="23.09" stroke="#9dc6e0" stroke-width="1.15" stroke-linecap="round"/>
<line x1="352.77" y1="23.09" x2="353.02" y2="23.03" stroke="#96c0dd" stroke-width="1.15" stroke-linecap="round"/>
<line x1="353.02" y1="23.03" x2="353.27" y2="22.96" stroke="#8fbbda" stroke-width="1.15" stroke-linecap="round"/>
<line x1="353.27" y1="22.96" x2="353.52" y2="22.88" stroke="#88b5d7" stroke-width="1.15" stroke-linecap="round"/>
<line x1="353.52" y1="22.88" x2="353.78" y2="22.80" stroke="#80afd5" stroke-width="1.15" stroke-linecap="round"/>
<line x1="353.78" y1="22.80" x2="354.03" y2="22.71" stroke="#79aad2" stroke-width="1.15" stroke-linecap="round"/>
<line x1="354.03" y1="22.71" x2="354.28" y2="22.62" stroke="#72a4cf" stroke-width="1.15" stroke-linecap="round"/>
<line x1="354.28" y1="22.62" x2="354.53" y2="22.53" stroke="#6b9ecd" stroke-width="1.15" stroke-linecap="round"/>
<line x1="354.53" y1="22.53" x2="354.78" y2="22.44" stroke="#6499ca" stroke-width="1.15" stroke-linecap="round"/>
<line x1="354.78" y1="22.44" x2="355.04" y2="22.34" stroke="#5e94c7" stroke-width="1.15" stroke-linecap="round"/>
<line x1="355.04" y1="22.34" x2="355.29" y2="22.23" stroke="#5a90c3" stroke-width="1.15" stroke-linecap="round"/>
<line x1="355.29" y1="22.23" x2="355.54" y2="22.13" stroke="#578cc0" stroke-width="1.15" stroke-linecap="round"/>
<line x1="355.54" y1="22.13" x2="355.79" y2="22.02" stroke="#5388bd" stroke-width="1.15" stroke-linecap="round"/>
<line x1="355.79" y1="22.02" x2="356.05" y2="21.91" stroke="#5084b9" stroke-width="1.15" stroke-linecap="round"/>
<line x1="356.05" y1="21.91" x2="356.30" y2="21.80" stroke="#4c80b6" stroke-width="1.15" stroke-linecap="round"/>
<line x1="356.30" y1="21.80" x2="356.55" y2="21.69" stroke="#497db2" stroke-width="1.15" stroke-linecap="round"/>
<line x1="356.55" y1="21.69" x2="356.80" y2="21.57" stroke="#4579af" stroke-width="1.15" stroke-linecap="round"/>
<line x1="356.80" y1="21.57" x2="357.05" y2="21.45" stroke="#4275ab" stroke-width="1.15" stroke-linecap="round"/>
<line x1="357.05" y1="21.45" x2="357.31" y2="21.34" stroke="#3e71a8" stroke-width="1.15" stroke-linecap="round"/>
<line x1="357.31" y1="21.34" x2="357.56" y2="21.22" stroke="#3b6da4" stroke-width="1.15" stroke-linecap="round"/>
<line x1="357.56" y1="21.22" x2="357.81" y2="21.10" stroke="#3769a1" stroke-width="1.15" stroke-linecap="round"/>
<line x1="357.81" y1="21.10" x2="358.06" y2="20.98" stroke="#34669e" stroke-width="1.15" stroke-linecap="round"/>
<line x1="358.06" y1="20.98" x2="358.31" y2="20.86" stroke="#33649c" stroke-width="1.15" stroke-linecap="round"/>
<line x1="358.31" y1="20.86" x2="358.57" y2="20.75" stroke="#31629b" stroke-width="1.15" stroke-linecap="round"/>
<line x1="358.57" y1="20.75" x2="358.82" y2="20.63" stroke="#306099" stroke-width="1.15" stroke-linecap="round"/>
<line x1="358.82" y1="20.63" x2="359.07" y2="20.52" stroke="#2e5e97" stroke-width="1.15" stroke-linecap="round"/>
<line x1="359.07" y1="20.52" x2="359.32" y2="20.41" stroke="#2d5c95" stroke-width="1.15" stroke-linecap="round"/>
<line x1="359.32" y1="20.41" x2="359.57" y2="20.30" stroke="#2b5b94" stroke-width="1.15" stroke-linecap="round"/>
<line x1="359.57" y1="20.30" x2="359.83" y2="20.19" stroke="#2a5992" stroke-width="1.15" stroke-linecap="round"/>
<line x1="359.83" y1="20.19" x2="360.08" y2="20.09" stroke="#285790" stroke-width="1.15" stroke-linecap="round"/>
<line x1="360.08" y1="20.09" x2="360.33" y2="19.99" stroke="#27558e" stroke-width="1.15" stroke-linecap="round"/>
<line x1="360.33" y1="19.99" x2="360.58" y2="19.90" stroke="#25538d" stroke-width="1.15" stroke-linecap="round"/>
<line x1="360.58" y1="19.90" x2="360.83" y2="19.81" stroke="#24518b" stroke-width="1.15" stroke-linecap="round"/>
<line x1="360.83" y1="19.81" x2="361.09" y2="19.73" stroke="#23508a" stroke-width="1.15" stroke-linecap="round"/>
<line x1="361.09" y1="19.73" x2="361.34" y2="19.65" stroke="#224f89" stroke-width="1.15" stroke-linecap="round"/>
<line x1="361.34" y1="19.65" x2="361.59" y2="19.58" stroke="#224f89" stroke-width="1.15" stroke-linecap="round"/>
<line x1="361.59" y1="19.58" x2="361.84" y2="19.51" stroke="#224e89" stroke-width="1.15" stroke-linecap="round"/>
<line x1="361.84" y1="19.51" x2="362.09" y2="19.46" stroke="#214e88" stroke-width="1.15" stroke-linecap="round"/>
<line x1="362.09" y1="19.46" x2="362.35" y2="19.41" stroke="#214d88" stroke-width="1.15" stroke-linecap="round"/>
<line x1="362.35" y1="19.41" x2="362.60" y2="19.37" stroke="#214d88" stroke-width="1.15" stroke-linecap="round"/>
<line x1="362.60" y1="19.37" x2="362.85" y2="19.34" stroke="#204c87" stroke-width="1.15" stroke-linecap="round"/>
<line x1="362.85" y1="19.34" x2="363.10" y2="19.31" stroke="#204c87" stroke-width="1.15" stroke-linecap="round"/>
<line x1="363.10" y1="19.31" x2="363.35" y2="19.30" stroke="#204b87" stroke-width="1.15" stroke-linecap="round"/>
<line x1="363.35" y1="19.30" x2="363.61" y2="19.30" stroke="#1f4b86" stroke-width="1.15" stroke-linecap="round"/>
<line x1="363.61" y1="19.30" x2="363.86" y2="19.31" stroke="#1f4a86" stroke-width="1.15" stroke-linecap="round"/>
<line x1="363.86" y1="19.31" x2="364.11" y2="19.33" stroke="#1f4a86" stroke-width="1.15" stroke-linecap="round"/>
<line x1="364.11" y1="19.33" x2="364.36" y2="19.36" stroke="#1f4a86" stroke-width="1.15" stroke-linecap="round"/>
<line x1="364.36" y1="19.36" x2="364.62" y2="19.40" stroke="#1f4a86" stroke-width="1.15" stroke-linecap="round"/>
<line x1="364.62" y1="19.40" x2="364.87" y2="19.45" stroke="#1f4a86" stroke-width="1.15" stroke-linecap="round"/>
<line x1="364.87" y1="19.45" x2="365.12" y2="19.51" stroke="#1f4a86" stroke-width="1.15" stroke-linecap="round"/>
<line x1="365.12" y1="19.51" x2="365.37" y2="19.58" stroke="#1f4a86" stroke-width="1.15" stroke-linecap="round"/>
<line x1="365.37" y1="19.58" x2="365.62" y2="19.65" stroke="#1f4a86" stroke-width="1.15" stroke-linecap="round"/>
<line x1="365.62" y1="19.65" x2="365.88" y2="19.74" stroke="#1f4a86" stroke-width="1.15" stroke-linecap="round"/>
<line x1="365.88" y1="19.74" x2="366.13" y2="19.84" stroke="#1f4a86" stroke-width="1.15" stroke-linecap="round"/>
<line x1="366.13" y1="19.84" x2="366.38" y2="19.95" stroke="#1f4a86" stroke-width="1.15" stroke-linecap="round"/>
<line x1="366.38" y1="19.95" x2="366.63" y2="20.07" stroke="#1f4a86" stroke-width="1.15" stroke-linecap="round"/>
<line x1="366.63" y1="20.07" x2="366.88" y2="20.20" stroke="#1f4a86" stroke-width="1.15" stroke-linecap="round"/>
<line x1="366.88" y1="20.20" x2="367.14" y2="20.34" stroke="#1f4a86" stroke-width="1.15" stroke-linecap="round"/>
<line x1="367.14" y1="20.34" x2="367.39" y2="20.49" stroke="#1f4a86" stroke-width="1.15" stroke-linecap="round"/>
<line x1="367.39" y1="20.49" x2="367.64" y2="20.65" stroke="#1f4a86" stroke-width="1.15" stroke-linecap="round"/>
<line x1="367.64" y1="20.65" x2="367.89" y2="20.82" stroke="#1f4a86" stroke-width="1.15" stroke-linecap="round"/>
<line x1="367.89" y1="20.82" x2="368.14" y2="21.00" stroke="#1f4a86" stroke-width="1.15" stroke-linecap="round"/>
<line x1="368.14" y1="21.00" x2="368.40" y2="21.19" stroke="#1f4a86" stroke-width="1.15" stroke-linecap="round"/>
<line x1="368.40" y1="21.19" x2="368.65" y2="21.39" stroke="#1f4a86" stroke-width="1.15" stroke-linecap="round"/>
<line x1="368.65" y1="21.39" x2="368.90" y2="21.60" stroke="#1f4a86" stroke-width="1.15" stroke-linecap="round"/>
<line x1="368.90" y1="21.60" x2="369.15" y2="21.82" stroke="#1f4a86" stroke-width="1.15" stroke-linecap="round"/>
<line x1="369.15" y1="21.82" x2="369.40" y2="22.04" stroke="#1f4a86" stroke-width="1.15" stroke-linecap="round"/>
<line x1="369.40" y1="22.04" x2="369.66" y2="22.28" stroke="#1f4a86" stroke-width="1.15" stroke-linecap="round"/>
<line x1="369.66" y1="22.28" x2="369.91" y2="22.53" stroke="#1f4a86" stroke-width="1.15" stroke-linecap="round"/>
<line x1="369.91" y1="22.53" x2="370.16" y2="22.79" stroke="#1f4a86" stroke-width="1.15" stroke-linecap="round"/>
<line x1="370.16" y1="22.79" x2="370.41" y2="23.06" stroke="#1f4a86" stroke-width="1.15" stroke-linecap="round"/>
<line x1="370.41" y1="23.06" x2="370.66" y2="23.34" stroke="#1f4a86" stroke-width="1.15" stroke-linecap="round"/>
<line x1="370.66" y1="23.34" x2="370.92" y2="23.63" stroke="#1f4a86" stroke-width="1.15" stroke-linecap="round"/>
<line x1="370.92" y1="23.63" x2="371.17" y2="23.93" stroke="#1f4a86" stroke-width="1.15" stroke-linecap="round"/>
<line x1="371.17" y1="23.93" x2="371.42" y2="24.24" stroke="#1f4a86" stroke-width="1.15" stroke-linecap="round"/>
<line x1="371.42" y1="24.24" x2="371.67" y2="24.56" stroke="#1f4a86" stroke-width="1.15" stroke-linecap="round"/>
<line x1="371.67" y1="24.56" x2="371.92" y2="24.89" stroke="#1f4a86" stroke-width="1.15" stroke-linecap="round"/>
<line x1="371.92" y1="24.89" x2="372.18" y2="25.23" stroke="#1f4a86" stroke-width="1.15" stroke-linecap="round"/>
<line x1="372.18" y1="25.23" x2="372.43" y2="25.58" stroke="#1f4a86" stroke-width="1.15" stroke-linecap="round"/>
<line x1="372.43" y1="25.58" x2="372.68" y2="25.94" stroke="#1f4a86" stroke-width="1.15" stroke-linecap="round"/>
<line x1="372.68" y1="25.94" x2="372.93" y2="26.31" stroke="#1f4a86" stroke-width="1.15" stroke-linecap="round"/>
<line x1="372.93" y1="26.31" x2="373.18" y2="26.68" stroke="#1f4a86" stroke-width="1.15" stroke-linecap="round"/>
<line x1="373.18" y1="26.68" x2="373.44" y2="27.07" stroke="#1f4a86" stroke-width="1.15" stroke-linecap="round"/>
<line x1="373.44" y1="27.07" x2="373.69" y2="27.47" stroke="#1f4a86" stroke-width="1.15" stroke-linecap="round"/>
<line x1="373.69" y1="27.47" x2="373.94" y2="27.88" stroke="#1f4a86" stroke-width="1.15" stroke-linecap="round"/>
<line x1="373.94" y1="27.88" x2="374.19" y2="28.30" stroke="#1f4a86" stroke-width="1.15" stroke-linecap="round"/>
<line x1="374.19" y1="28.30" x2="374.45" y2="28.73" stroke="#1f4a86" stroke-width="1.15" stroke-linecap="round"/>
<line x1="374.45" y1="28.73" x2="374.70" y2="29.17" stroke="#1f4a86" stroke-width="1.15" stroke-linecap="round"/>
<line x1="374.70" y1="29.17" x2="374.95" y2="29.62" stroke="#1f4a86" stroke-width="1.15" stroke-linecap="round"/>
<line x1="374.95" y1="29.62" x2="375.20" y2="30.08" stroke="#1f4a86" stroke-width="1.15" stroke-linecap="round"/>
<line x1="375.20" y1="30.08" x2="375.45" y2="30.55" stroke="#1f4a86" stroke-width="1.15" stroke-linecap="round"/>
<line x1="375.45" y1="30.55" x2="375.71" y2="31.03" stroke="#1f4a86" stroke-width="1.15" stroke-linecap="round"/>
<line x1="375.71" y1="31.03" x2="375.96" y2="31.52" stroke="#1f4a86" stroke-width="1.15" stroke-linecap="round"/>
<line x1="375.96" y1="31.52" x2="376.21" y2="32.02" stroke="#1f4a86" stroke-width="1.15" stroke-linecap="round"/>
<line x1="376.21" y1="32.02" x2="376.46" y2="32.53" stroke="#1f4a86" stroke-width="1.15" stroke-linecap="round"/>
<line x1="376.46" y1="32.53" x2="376.71" y2="33.05" stroke="#1f4a86" stroke-width="1.15" stroke-linecap="round"/>
<line x1="376.71" y1="33.05" x2="376.97" y2="33.58" stroke="#1f4a86" stroke-width="1.15" stroke-linecap="round"/>
<line x1="376.97" y1="33.58" x2="377.22" y2="34.12" stroke="#1f4a86" stroke-width="1.15" stroke-linecap="round"/>
<line x1="377.22" y1="34.12" x2="377.47" y2="34.66" stroke="#1f4a86" stroke-width="1.15" stroke-linecap="round"/>
<line x1="377.47" y1="34.66" x2="377.72" y2="35.22" stroke="#1f4a86" stroke-width="1.15" stroke-linecap="round"/>
<line x1="377.72" y1="35.22" x2="377.97" y2="35.79" stroke="#1f4a86" stroke-width="1.15" stroke-linecap="round"/>
<line x1="377.97" y1="35.79" x2="378.23" y2="36.37" stroke="#1f4a86" stroke-width="1.15" stroke-linecap="round"/>
<line x1="378.23" y1="36.37" x2="378.48" y2="36.96" stroke="#1f4a86" stroke-width="1.15" stroke-linecap="round"/>
<line x1="378.48" y1="36.96" x2="378.73" y2="37.56" stroke="#1f4a86" stroke-width="1.15" stroke-linecap="round"/>
<line x1="378.73" y1="37.56" x2="378.98" y2="38.17" stroke="#1f4a86" stroke-width="1.15" stroke-linecap="round"/>
<line x1="378.98" y1="38.17" x2="379.23" y2="38.79" stroke="#1f4a86" stroke-width="1.15" stroke-linecap="round"/>
<line x1="379.23" y1="38.79" x2="379.49" y2="39.42" stroke="#1f4a86" stroke-width="1.15" stroke-linecap="round"/>
<line x1="379.49" y1="39.42" x2="379.74" y2="40.06" stroke="#1f4a86" stroke-width="1.15" stroke-linecap="round"/>
<line x1="379.74" y1="40.06" x2="379.99" y2="40.71" stroke="#1f4a86" stroke-width="1.15" stroke-linecap="round"/>
<line x1="379.99" y1="40.71" x2="380.24" y2="41.37" stroke="#1f4a86" stroke-width="1.15" stroke-linecap="round"/>
<line x1="380.24" y1="41.37" x2="380.49" y2="42.04" stroke="#1f4a86" stroke-width="1.15" stroke-linecap="round"/>
<line x1="380.49" y1="42.04" x2="380.75" y2="42.72" stroke="#1f4a86" stroke-width="1.15" stroke-linecap="round"/>
<line x1="380.75" y1="42.72" x2="381.00" y2="43.41" stroke="#1f4a86" stroke-width="1.15" stroke-linecap="round"/>
<line x1="381.00" y1="43.41" x2="381.25" y2="44.11" stroke="#1f4a86" stroke-width="1.15" stroke-linecap="round"/>
<line x1="381.25" y1="44.11" x2="381.50" y2="44.82" stroke="#1f4a86" stroke-width="1.15" stroke-linecap="round"/>
<line x1="381.50" y1="44.82" x2="381.75" y2="45.54" stroke="#1f4a86" stroke-width="1.15" stroke-linecap="round"/>
<line x1="381.75" y1="45.54" x2="382.01" y2="46.27" stroke="#1f4a86" stroke-width="1.15" stroke-linecap="round"/>
<line x1="382.01" y1="46.27" x2="382.26" y2="47.01" stroke="#1f4a86" stroke-width="1.15" stroke-linecap="round"/>
<line x1="382.26" y1="47.01" x2="382.51" y2="47.75" stroke="#1f4a86" stroke-width="1.15" stroke-linecap="round"/>
<line x1="382.51" y1="47.75" x2="382.76" y2="48.51" stroke="#1f4a86" stroke-width="1.15" stroke-linecap="round"/>
<line x1="382.76" y1="48.51" x2="383.02" y2="49.28" stroke="#1f4a86" stroke-width="1.15" stroke-linecap="round"/>
<line x1="383.02" y1="49.28" x2="383.27" y2="50.06" stroke="#1f4a86" stroke-width="1.15" stroke-linecap="round"/>
<line x1="383.27" y1="50.06" x2="383.52" y2="50.85" stroke="#1f4a86" stroke-width="1.15" stroke-linecap="round"/>
<line x1="383.52" y1="50.85" x2="383.77" y2="51.65" stroke="#1f4a86" stroke-width="1.15" stroke-linecap="round"/>
<line x1="383.77" y1="51.65" x2="384.02" y2="52.46" stroke="#1f4a86" stroke-width="1.15" stroke-linecap="round"/>
<line x1="384.02" y1="52.46" x2="384.28" y2="53.28" stroke="#1f4a86" stroke-width="1.15" stroke-linecap="round"/>
<line x1="384.28" y1="53.28" x2="384.53" y2="54.11" stroke="#1f4a86" stroke-width="1.15" stroke-linecap="round"/>
<line x1="384.53" y1="54.11" x2="384.78" y2="54.95" stroke="#1f4a86" stroke-width="1.15" stroke-linecap="round"/>
<line x1="384.78" y1="54.95" x2="385.03" y2="55.80" stroke="#1f4a86" stroke-width="1.15" stroke-linecap="round"/>
<line x1="385.03" y1="55.80" x2="385.28" y2="56.66" stroke="#1f4a86" stroke-width="1.15" stroke-linecap="round"/>
<line x1="385.28" y1="56.66" x2="385.54" y2="57.53" stroke="#1f4a86" stroke-width="1.15" stroke-linecap="round"/>
<line x1="385.54" y1="57.53" x2="385.79" y2="58.41" stroke="#1f4a86" stroke-width="1.15" stroke-linecap="round"/>
<line x1="385.79" y1="58.41" x2="386.04" y2="59.30" stroke="#1f4a86" stroke-width="1.15" stroke-linecap="round"/>
<line x1="386.04" y1="59.30" x2="386.29" y2="60.20" stroke="#1f4a86" stroke-width="1.15" stroke-linecap="round"/>
<line x1="386.29" y1="60.20" x2="386.54" y2="61.11" stroke="#1f4a86" stroke-width="1.15" stroke-linecap="round"/>
<line x1="386.54" y1="61.11" x2="386.80" y2="62.03" stroke="#1f4a86" stroke-width="1.15" stroke-linecap="round"/>
<line x1="386.80" y1="62.03" x2="387.05" y2="62.96" stroke="#1f4a86" stroke-width="1.15" stroke-linecap="round"/>
<line x1="387.05" y1="62.96" x2="387.30" y2="63.90" stroke="#1f4a86" stroke-width="1.15" stroke-linecap="round"/>
<line x1="387.30" y1="63.90" x2="387.55" y2="64.85" stroke="#1f4a86" stroke-width="1.15" stroke-linecap="round"/>
<line x1="387.55" y1="64.85" x2="387.80" y2="65.81" stroke="#1f4a86" stroke-width="1.15" stroke-linecap="round"/>
<line x1="387.80" y1="65.81" x2="388.06" y2="66.78" stroke="#1f4a86" stroke-width="1.15" stroke-linecap="round"/>
<line x1="388.06" y1="66.78" x2="388.31" y2="67.75" stroke="#1f4a86" stroke-width="1.15" stroke-linecap="round"/>
<line x1="388.31" y1="67.75" x2="388.56" y2="68.74" stroke="#1f4a86" stroke-width="1.15" stroke-linecap="round"/>
<line x1="388.56" y1="68.74" x2="388.81" y2="69.74" stroke="#1f4a86" stroke-width="1.15" stroke-linecap="round"/>
<line x1="388.81" y1="69.74" x2="389.06" y2="70.75" stroke="#1f4a86" stroke-width="1.15" stroke-linecap="round"/>
<line x1="389.06" y1="70.75" x2="389.32" y2="71.77" stroke="#1f4a86" stroke-width="1.15" stroke-linecap="round"/>
<line x1="389.32" y1="71.77" x2="389.57" y2="72.80" stroke="#1f4a86" stroke-width="1.15" stroke-linecap="round"/>
<line x1="389.57" y1="72.80" x2="389.82" y2="73.84" stroke="#1f4a86" stroke-width="1.15" stroke-linecap="round"/>
<line x1="389.82" y1="73.84" x2="390.07" y2="74.89" stroke="#1f4a86" stroke-width="1.15" stroke-linecap="round"/>
<line x1="390.07" y1="74.89" x2="390.32" y2="75.95" stroke="#1f4a86" stroke-width="1.15" stroke-linecap="round"/>
<line x1="390.32" y1="75.95" x2="390.58" y2="77.02" stroke="#1f4a86" stroke-width="1.15" stroke-linecap="round"/>
<line x1="390.58" y1="77.02" x2="390.83" y2="78.10" stroke="#1f4a86" stroke-width="1.15" stroke-linecap="round"/>
<line x1="390.83" y1="78.10" x2="391.08" y2="79.19" stroke="#1f4a86" stroke-width="1.15" stroke-linecap="round"/>
<line x1="391.08" y1="79.19" x2="391.33" y2="80.29" stroke="#1f4a86" stroke-width="1.15" stroke-linecap="round"/>
<line x1="391.33" y1="80.29" x2="391.58" y2="81.40" stroke="#1f4a86" stroke-width="1.15" stroke-linecap="round"/>
<line x1="391.58" y1="81.40" x2="391.84" y2="82.52" stroke="#1f4a86" stroke-width="1.15" stroke-linecap="round"/>
<line x1="391.84" y1="82.52" x2="392.09" y2="83.65" stroke="#1f4a86" stroke-width="1.15" stroke-linecap="round"/>
<line x1="392.09" y1="83.65" x2="392.34" y2="84.79" stroke="#1f4a86" stroke-width="1.15" stroke-linecap="round"/>
<line x1="392.34" y1="84.79" x2="392.59" y2="85.94" stroke="#1f4a86" stroke-width="1.15" stroke-linecap="round"/>
<line x1="392.59" y1="85.94" x2="392.85" y2="87.10" stroke="#1f4a86" stroke-width="1.15" stroke-linecap="round"/>
<line x1="392.85" y1="87.10" x2="393.10" y2="88.27" stroke="#1f4a86" stroke-width="1.15" stroke-linecap="round"/>
<line x1="393.10" y1="88.27" x2="393.35" y2="89.45" stroke="#1f4a86" stroke-width="1.15" stroke-linecap="round"/>
<line x1="393.35" y1="89.45" x2="393.60" y2="90.64" stroke="#1f4a86" stroke-width="1.15" stroke-linecap="round"/>
<line x1="393.60" y1="90.64" x2="393.85" y2="91.84" stroke="#1f4a86" stroke-width="1.15" stroke-linecap="round"/>
<line x1="393.85" y1="91.84" x2="394.11" y2="93.05" stroke="#1f4a86" stroke-width="1.15" stroke-linecap="round"/>
<line x1="394.11" y1="93.05" x2="394.36" y2="94.27" stroke="#1f4a86" stroke-width="1.15" stroke-linecap="round"/>
<line x1="394.36" y1="94.27" x2="394.61" y2="95.50" stroke="#1f4a86" stroke-width="1.15" stroke-linecap="round"/>
<line x1="394.61" y1="95.50" x2="394.86" y2="96.74" stroke="#1f4a86" stroke-width="1.15" stroke-linecap="round"/>
<line x1="394.86" y1="96.74" x2="395.11" y2="97.99" stroke="#1f4a86" stroke-width="1.15" stroke-linecap="round"/>
<line x1="395.11" y1="97.99" x2="395.37" y2="99.25" stroke="#1f4a86" stroke-width="1.15" stroke-linecap="round"/>
<line x1="395.37" y1="99.25" x2="395.62" y2="100.52" stroke="#1f4a86" stroke-width="1.15" stroke-linecap="round"/>
<line x1="395.62" y1="100.52" x2="395.87" y2="101.80" stroke="#1f4a86" stroke-width="1.15" stroke-linecap="round"/>
<line x1="395.87" y1="101.80" x2="396.12" y2="103.08" stroke="#1f4a86" stroke-width="1.15" stroke-linecap="round"/>
<line x1="396.12" y1="103.08" x2="396.37" y2="104.38" stroke="#1f4a86" stroke-width="1.15" stroke-linecap="round"/>
<line x1="396.37" y1="104.38" x2="396.63" y2="105.69" stroke="#1f4a86" stroke-width="1.15" stroke-linecap="round"/>
<line x1="396.63" y1="105.69" x2="396.88" y2="107.01" stroke="#1f4a86" stroke-width="1.15" stroke-linecap="round"/>
<line x1="396.88" y1="107.01" x2="397.13" y2="108.34" stroke="#1f4a86" stroke-width="1.15" stroke-linecap="round"/>
<line x1="397.13" y1="108.34" x2="397.38" y2="109.68" stroke="#1f4a86" stroke-width="1.15" stroke-linecap="round"/>
<line x1="397.38" y1="109.68" x2="397.63" y2="111.03" stroke="#1f4a86" stroke-width="1.15" stroke-linecap="round"/>
<line x1="397.63" y1="111.03" x2="397.89" y2="112.39" stroke="#1f4a86" stroke-width="1.15" stroke-linecap="round"/>
<line x1="397.89" y1="112.39" x2="398.14" y2="113.76" stroke="#1f4a86" stroke-width="1.15" stroke-linecap="round"/>
<line x1="398.14" y1="113.76" x2="398.39" y2="115.14" stroke="#1f4a86" stroke-width="1.15" stroke-linecap="round"/>
<line x1="398.39" y1="115.14" x2="398.64" y2="116.53" stroke="#1f4a86" stroke-width="1.15" stroke-linecap="round"/>
<line x1="398.64" y1="116.53" x2="398.89" y2="117.93" stroke="#1f4a86" stroke-width="1.15" stroke-linecap="round"/>
<line x1="398.89" y1="117.93" x2="399.15" y2="119.34" stroke="#1f4a86" stroke-width="1.15" stroke-linecap="round"/>
<line x1="399.15" y1="119.34" x2="399.40" y2="120.76" stroke="#1f4a86" stroke-width="1.15" stroke-linecap="round"/>
<line x1="399.40" y1="120.76" x2="399.65" y2="122.19" stroke="#1f4a86" stroke-width="1.15" stroke-linecap="round"/>
<line x1="399.65" y1="122.19" x2="399.90" y2="123.63" stroke="#1f4a86" stroke-width="1.15" stroke-linecap="round"/>
<line x1="399.90" y1="123.63" x2="400.15" y2="125.08" stroke="#1f4a86" stroke-width="1.15" stroke-linecap="round"/>
<line x1="400.15" y1="125.08" x2="400.41" y2="126.54" stroke="#1f4a86" stroke-width="1.15" stroke-linecap="round"/>
<line x1="400.41" y1="126.54" x2="400.66" y2="128.01" stroke="#1f4a86" stroke-width="1.15" stroke-linecap="round"/>
<line x1="400.66" y1="128.01" x2="400.91" y2="129.49" stroke="#1f4a86" stroke-width="1.15" stroke-linecap="round"/>
<line x1="400.91" y1="129.49" x2="401.16" y2="130.98" stroke="#1f4a86" stroke-width="1.15" stroke-linecap="round"/>
<line x1="401.16" y1="130.98" x2="401.42" y2="132.48" stroke="#1f4a86" stroke-width="1.15" stroke-linecap="round"/>
<line x1="401.42" y1="132.48" x2="401.67" y2="133.99" stroke="#1f4a86" stroke-width="1.15" stroke-linecap="round"/>
<line x1="401.67" y1="133.99" x2="401.92" y2="135.51" stroke="#1f4a86" stroke-width="1.15" stroke-linecap="round"/>
<line x1="401.92" y1="135.51" x2="402.17" y2="137.04" stroke="#1f4a86" stroke-width="1.15" stroke-linecap="round"/>
<line x1="402.17" y1="137.04" x2="402.42" y2="138.58" stroke="#1f4a86" stroke-width="1.15" stroke-linecap="round"/>
<line x1="402.42" y1="138.58" x2="402.68" y2="140.13" stroke="#1f4a86" stroke-width="1.15" stroke-linecap="round"/>
<line x1="402.68" y1="140.13" x2="402.93" y2="141.69" stroke="#1f4a86" stroke-width="1.15" stroke-linecap="round"/>
<line x1="402.93" y1="141.69" x2="403.11" y2="142.80" stroke="#1f4a86" stroke-width="1.15" stroke-linecap="round"/>
<line x1="348.70" y1="101.44" x2="348.63" y2="101.49" stroke="#d4e8f4" stroke-width="1.15" stroke-linecap="round"/>
<line x1="348.63" y1="101.49" x2="348.56" y2="101.55" stroke="#d3e7f4" stroke-width="1.15" stroke-linecap="round"/>
<line x1="348.56" y1="101.55" x2="348.49" y2="101.61" stroke="#d1e6f3" stroke-width="1.15" stroke-linecap="round"/>
<line x1="348.49" y1="101.61" x2="348.43" y2="101.66" stroke="#d0e6f3" stroke-width="1.15" stroke-linecap="round"/>
<line x1="348.43" y1="101.66" x2="348.36" y2="101.72" stroke="#cfe5f2" stroke-width="1.15" stroke-linecap="round"/>
<line x1="348.36" y1="101.72" x2="348.29" y2="101.79" stroke="#cee4f2" stroke-width="1.15" stroke-linecap="round"/>
<line x1="348.29" y1="101.79" x2="348.22" y2="101.85" stroke="#cce3f2" stroke-width="1.15" stroke-linecap="round"/>
<line x1="348.22" y1="101.85" x2="348.15" y2="101.91" stroke="#cbe3f1" stroke-width="1.15" stroke-linecap="round"/>
<line x1="348.15" y1="101.91" x2="348.08" y2="101.98" stroke="#cae2f1" stroke-width="1.15" stroke-linecap="round"/>
<line x1="348.08" y1="101.98" x2="348.02" y2="102.05" stroke="#c8e1f0" stroke-width="1.15" stroke-linecap="round"/>
<line x1="348.02" y1="102.05" x2="347.95" y2="102.11" stroke="#c7e0f0" stroke-width="1.15" stroke-linecap="round"/>
<line x1="347.95" y1="102.11" x2="347.88" y2="102.18" stroke="#c6dfef" stroke-width="1.15" stroke-linecap="round"/>
<line x1="347.88" y1="102.18" x2="347.81" y2="102.26" stroke="#c5dfef" stroke-width="1.15" stroke-linecap="round"/>
<line x1="347.81" y1="102.26" x2="347.74" y2="102.33" stroke="#c3deef" stroke-width="1.15" stroke-linecap="round"/>
<line x1="347.74" y1="102.33" x2="347.67" y2="102.40" stroke="#c2ddee" stroke-width="1.15" stroke-linecap="round"/>
<line x1="347.67" y1="102.40" x2="347.60" y2="102.48" stroke="#c1dcee" stroke-width="1.15" stroke-linecap="round"/>
<line x1="347.60" y1="102.48" x2="347.54" y2="102.56" stroke="#c0dced" stroke-width="1.15" stroke-linecap="round"/>
<line x1="347.54" y1="102.56" x2="347.47" y2="102.63" stroke="#bedbed" stroke-width="1.15" stroke-linecap="round"/>
<line x1="347.47" y1="102.63" x2="347.40" y2="102.71" stroke="#bddaed" stroke-width="1.15" stroke-linecap="round"/>
<line x1="347.40" y1="102.71" x2="347.33" y2="102.80" stroke="#bcd9ec" stroke-width="1.15" stroke-linecap="round"/>
<line x1="347.33" y1="102.80" x2="347.26" y2="102.88" stroke="#bad8ec" stroke-width="1.15" stroke-linecap="round"/>
<line x1="347.26" y1="102.88" x2="347.19" y2="102.96" stroke="#b9d8eb" stroke-width="1.15" stroke-linecap="round"/>
<line x1="347.19" y1="102.96" x2="347.12" y2="103.05" stroke="#b8d7eb" stroke-width="1.15" stroke-linecap="round"/>
<line x1="347.12" y1="103.05" x2="347.06" y2="103.14" stroke="#b7d6eb" stroke-width="1.15" stroke-linecap="round"/>
<line x1="347.06" y1="103.14" x2="346.99" y2="103.22" stroke="#b5d5ea" stroke-width="1.15" stroke-linecap="round"/>
<line x1="346.99" y1="103.22" x2="346.92" y2="103.31" stroke="#b4d5ea" stroke-width="1.15" stroke-linecap="round"/>
<line x1="346.92" y1="103.31" x2="346.85" y2="103.41" stroke="#b3d4e9" stroke-width="1.15" stroke-linecap="round"/>
<line x1="346.85" y1="103.41" x2="346.78" y2="103.50" stroke="#b1d3e9" stroke-width="1.15" stroke-linecap="round"/>
<line x1="346.78" y1="103.50" x2="346.71" y2="103.59" stroke="#b0d2e8" stroke-width="1.15" stroke-linecap="round"/>
<line x1="346.71" y1="103.59" x2="346.65" y2="103.69" stroke="#afd1e8" stroke-width="1.15" stroke-linecap="round"/>
<line x1="346.65" y1="103.69" x2="346.58" y2="103.79" stroke="#aed1e8" stroke-width="1.15" stroke-linecap="round"/>
<line x1="346.58" y1="103.79" x2="346.51" y2="103.88" stroke="#acd0e7" stroke-width="1.15" stroke-linecap="round"/>
<line x1="346.51" y1="103.88" x2="346.44" y2="103.98" stroke="#abcfe7" stroke-width="1.15" stroke-linecap="round"/>
<line x1="346.44" y1="103.98" x2="346.37" y2="104.09" stroke="#aacee6" stroke-width="1.15" stroke-linecap="round"/>
<line x1="346.37" y1="104.09" x2="346.30" y2="104.19" stroke="#a9cee6" stroke-width="1.15" stroke-linecap="round"/>
<line x1="346.30" y1="104.19" x2="346.23" y2="104.29" stroke="#a7cde6" stroke-width="1.15" stroke-linecap="round"/>
<line x1="346.23" y1="104.29" x2="346.17" y2="104.40" stroke="#a6cce5" stroke-width="1.15" stroke-linecap="round"/>
<line x1="346.17" y1="104.40" x2="346.10" y2="104.51" stroke="#a5cbe5" stroke-width="1.15" stroke-linecap="round"/>
<line x1="346.10" y1="104.51" x2="346.03" y2="104.62" stroke="#a3cbe4" stroke-width="1.15" stroke-linecap="round"/>
<line x1="346.03" y1="104.62" x2="345.96" y2="104.73" stroke="#a2cae4" stroke-width="1.15" stroke-linecap="round"/>
<line x1="345.96" y1="104.73" x2="345.89" y2="104.84" stroke="#a1c9e4" stroke-width="1.15" stroke-linecap="round"/>
<line x1="345.89" y1="104.84" x2="345.82" y2="104.95" stroke="#a0c8e3" stroke-width="1.15" stroke-linecap="round"/>
<line x1="345.82" y1="104.95" x2="345.75" y2="105.06" stroke="#9ec7e3" stroke-width="1.15" stroke-linecap="round"/>
<line x1="345.75" y1="105.06" x2="345.69" y2="105.18" stroke="#9dc7e2" stroke-width="1.15" stroke-linecap="round"/>
<line x1="345.69" y1="105.18" x2="345.62" y2="105.30" stroke="#9cc6e2" stroke-width="1.15" stroke-linecap="round"/>
<line x1="345.62" y1="105.30" x2="345.55" y2="105.42" stroke="#9bc5e2" stroke-width="1.15" stroke-linecap="round"/>
<line x1="345.55" y1="105.42" x2="345.48" y2="105.54" stroke="#9ac4e1" stroke-width="1.15" stroke-linecap="round"/>
<line x1="345.48" y1="105.54" x2="345.41" y2="105.66" stroke="#99c3e1" stroke-width="1.15" stroke-linecap="round"/>
<line x1="345.41" y1="105.66" x2="345.34" y2="105.78" stroke="#98c3e0" stroke-width="1.15" stroke-linecap="round"/>
<line x1="345.34" y1="105.78" x2="345.28" y2="105.91" stroke="#97c2e0" stroke-width="1.15" stroke-linecap="round"/>
<line x1="345.28" y1="105.91" x2="345.21" y2="106.03" stroke="#96c1e0" stroke-width="1.15" stroke-linecap="round"/>
<line x1="345.21" y1="106.03" x2="345.14" y2="106.16" stroke="#96c0df" stroke-width="1.15" stroke-linecap="round"/>
<line x1="345.14" y1="106.16" x2="345.07" y2="106.29" stroke="#95bfdf" stroke-width="1.15" stroke-linecap="round"/>
<line x1="345.07" y1="106.29" x2="345.00" y2="106.42" stroke="#94bfde" stroke-width="1.15" stroke-linecap="round"/>
<line x1="345.00" y1="106.42" x2="344.93" y2="106.55" stroke="#93bede" stroke-width="1.15" stroke-linecap="round"/>
<line x1="344.93" y1="106.55" x2="344.86" y2="106.68" stroke="#92bdde" stroke-width="1.15" stroke-linecap="round"/>
<line x1="344.86" y1="106.68" x2="344.80" y2="106.82" stroke="#91bcdd" stroke-width="1.15" stroke-linecap="round"/>
<line x1="344.80" y1="106.82" x2="344.73" y2="106.95" stroke="#90bcdd" stroke-width="1.15" stroke-linecap="round"/>
<line x1="344.73" y1="106.95" x2="344.66" y2="107.09" stroke="#8fbbdd" stroke-width="1.15" stroke-linecap="round"/>
<line x1="344.66" y1="107.09" x2="344.59" y2="107.23" stroke="#8ebadc" stroke-width="1.15" stroke-linecap="round"/>
<line x1="344.59" y1="107.23" x2="344.52" y2="107.37" stroke="#8eb9dc" stroke-width="1.15" stroke-linecap="round"/>
<line x1="344.52" y1="107.37" x2="344.45" y2="107.51" stroke="#8db8db" stroke-width="1.15" stroke-linecap="round"/>
<line x1="344.45" y1="107.51" x2="344.38" y2="107.65" stroke="#8cb8db" stroke-width="1.15" stroke-linecap="round"/>
<line x1="344.38" y1="107.65" x2="344.32" y2="107.80" stroke="#8bb7db" stroke-width="1.15" stroke-linecap="round"/>
<line x1="344.32" y1="107.80" x2="344.25" y2="107.94" stroke="#8ab6da" stroke-width="1.15" stroke-linecap="round"/>
<line x1="344.25" y1="107.94" x2="344.18" y2="108.09" stroke="#89b5da" stroke-width="1.15" stroke-linecap="round"/>
<line x1="344.18" y1="108.09" x2="344.11" y2="108.24" stroke="#88b4d9" stroke-width="1.15" stroke-linecap="round"/>
<line x1="344.11" y1="108.24" x2="344.04" y2="108.39" stroke="#87b4d9" stroke-width="1.15" stroke-linecap="round"/>
<line x1="344.04" y1="108.39" x2="343.97" y2="108.54" stroke="#86b3d9" stroke-width="1.15" stroke-linecap="round"/>
<line x1="343.97" y1="108.54" x2="343.91" y2="108.70" stroke="#86b2d8" stroke-width="1.15" stroke-linecap="round"/>
<line x1="343.91" y1="108.70" x2="343.84" y2="108.85" stroke="#85b1d8" stroke-width="1.15" stroke-linecap="round"/>
<line x1="343.84" y1="108.85" x2="343.77" y2="109.01" stroke="#84b0d8" stroke-width="1.15" stroke-linecap="round"/>
<line x1="343.77" y1="109.01" x2="343.70" y2="109.16" stroke="#83b0d7" stroke-width="1.15" stroke-linecap="round"/>
<line x1="343.70" y1="109.16" x2="343.63" y2="109.32" stroke="#82afd7" stroke-width="1.15" stroke-linecap="round"/>
<line x1="343.63" y1="109.32" x2="343.56" y2="109.48" stroke="#81aed6" stroke-width="1.15" stroke-linecap="round"/>
<line x1="343.56" y1="109.48" x2="343.49" y2="109.64" stroke="#80add6" stroke-width="1.15" stroke-linecap="round"/>
<line x1="343.49" y1="109.64" x2="343.43" y2="109.81" stroke="#7facd6" stroke-width="1.15" stroke-linecap="round"/>
<line x1="343.43" y1="109.81" x2="343.36" y2="109.97" stroke="#7eacd5" stroke-width="1.15" stroke-linecap="round"/>
<line x1="343.36" y1="109.97" x2="343.29" y2="110.14" stroke="#7eabd5" stroke-width="1.15" stroke-linecap="round"/>
<line x1="343.29" y1="110.14" x2="343.22" y2="110.31" stroke="#7daad4" stroke-width="1.15" stroke-linecap="round"/>
<line x1="343.22" y1="110.31" x2="343.15" y2="110.47" stroke="#7ca9d4" stroke-width="1.15" stroke-linecap="round"/>
<line x1="343.15" y1="110.47" x2="343.08" y2="110.64" stroke="#7ba8d4" stroke-width="1.15" stroke-linecap="round"/>
<line x1="343.08" y1="110.64" x2="343.02" y2="110.82" stroke="#7aa8d3" stroke-width="1.15" stroke-linecap="round"/>
<line x1="343.02" y1="110.82" x2="342.95" y2="110.99" stroke="#79a7d3" stroke-width="1.15" stroke-linecap="round"/>
<line x1="342.95" y1="110.99" x2="342.88" y2="111.16" stroke="#78a6d3" stroke-width="1.15" stroke-linecap="round"/>
<line x1="342.88" y1="111.16" x2="342.81" y2="111.34" stroke="#77a5d2" stroke-width="1.15" stroke-linecap="round"/>
<line x1="342.81" y1="111.34" x2="342.74" y2="111.52" stroke="#76a4d2" stroke-width="1.15" stroke-linecap="round"/>
<line x1="342.74" y1="111.52" x2="342.67" y2="111.70" stroke="#76a4d1" stroke-width="1.15" stroke-linecap="round"/>
<line x1="342.67" y1="111.70" x2="342.60" y2="111.88" stroke="#75a3d1" stroke-width="1.15" stroke-linecap="round"/>
<line x1="342.60" y1="111.88" x2="342.54" y2="112.06" stroke="#74a2d1" stroke-width="1.15" stroke-linecap="round"/>
<line x1="342.54" y1="112.06" x2="342.47" y2="112.24" stroke="#73a1d0" stroke-width="1.15" stroke-linecap="round"/>
<line x1="342.47" y1="112.24" x2="342.40" y2="112.43" stroke="#72a0d0" stroke-width="1.15" stroke-linecap="round"/>
<line x1="342.40" y1="112.43" x2="342.33" y2="112.61" stroke="#71a0d0" stroke-width="1.15" stroke-linecap="round"/>
<line x1="342.33" y1="112.61" x2="342.26" y2="112.80" stroke="#709fcf" stroke-width="1.15" stroke-linecap="round"/>
<line x1="342.26" y1="112.80" x2="342.19" y2="112.99" stroke="#6f9ecf" stroke-width="1.15" stroke-linecap="round"/>
<line x1="342.19" y1="112.99" x2="342.12" y2="113.18" stroke="#6e9dce" stroke-width="1.15" stroke-linecap="round"/>
<line x1="342.12" y1="113.18" x2="342.06" y2="113.37" stroke="#6e9dce" stroke-width="1.15" stroke-linecap="round"/>
<line x1="342.06" y1="113.37" x2="341.99" y2="113.56" stroke="#6d9cce" stroke-width="1.15" stroke-linecap="round"/>
<line x1="341.99" y1="113.56" x2="341.92" y2="113.76" stroke="#6c9bcd" stroke-width="1.15" stroke-linecap="round"/>
<line x1="341.92" y1="113.76" x2="341.85" y2="113.95" stroke="#6b9acd" stroke-width="1.15" stroke-linecap="round"/>
<line x1="341.85" y1="113.95" x2="341.78" y2="114.15" stroke="#6a99cc" stroke-width="1.15" stroke-linecap="round"/>
<line x1="341.78" y1="114.15" x2="341.71" y2="114.35" stroke="#6999cc" stroke-width="1.15" stroke-linecap="round"/>
<line x1="341.71" y1="114.35" x2="341.65" y2="114.55" stroke="#6898cc" stroke-width="1.15" stroke-linecap="round"/>
<line x1="341.65" y1="114.55" x2="341.58" y2="114.75" stroke="#6797cb" stroke-width="1.15" stroke-linecap="round"/>
<line x1="341.58" y1="114.75" x2="341.51" y2="114.96" stroke="#6696cb" stroke-width="1.15" stroke-linecap="round"/>
<line x1="341.51" y1="114.96" x2="341.44" y2="115.16" stroke="#6695cb" stroke-width="1.15" stroke-linecap="round"/>
<line x1="341.44" y1="115.16" x2="341.37" y2="115.37" stroke="#6595ca" stroke-width="1.15" stroke-linecap="round"/>
<line x1="341.37" y1="115.37" x2="341.30" y2="115.57" stroke="#6494ca" stroke-width="1.15" stroke-linecap="round"/>
<line x1="341.30" y1="115.57" x2="341.23" y2="115.78" stroke="#6393c9" stroke-width="1.15" stroke-linecap="round"/>
<line x1="341.23" y1="115.78" x2="341.17" y2="115.99" stroke="#6292c9" stroke-width="1.15" stroke-linecap="round"/>
<line x1="341.17" y1="115.99" x2="341.10" y2="116.21" stroke="#6191c9" stroke-width="1.15" stroke-linecap="round"/>
<line x1="341.10" y1="116.21" x2="341.03" y2="116.42" stroke="#6091c8" stroke-width="1.15" stroke-linecap="round"/>
<line x1="341.03" y1="116.42" x2="340.96" y2="116.63" stroke="#5f90c8" stroke-width="1.15" stroke-linecap="round"/>
<line x1="340.96" y1="116.63" x2="340.89" y2="116.85" stroke="#5e8fc7" stroke-width="1.15" stroke-linecap="round"/>
<line x1="340.89" y1="116.85" x2="340.82" y2="117.07" stroke="#5d8ec7" stroke-width="1.15" stroke-linecap="round"/>
<line x1="340.82" y1="117.07" x2="340.75" y2="117.29" stroke="#5d8dc7" stroke-width="1.15" stroke-linecap="round"/>
<line x1="340.75" y1="117.29" x2="340.69" y2="117.51" stroke="#5c8dc6" stroke-width="1.15" stroke-linecap="round"/>
<line x1="340.69" y1="117.51" x2="340.62" y2="117.73" stroke="#5b8cc6" stroke-width="1.15" stroke-linecap="round"/>
<line x1="340.62" y1="117.73" x2="340.55" y2="117.95" stroke="#5b8cc6" stroke-width="1.15" stroke-linecap="round"/>
<line x1="340.55" y1="117.95" x2="340.48" y2="118.18" stroke="#5a8bc5" stroke-width="1.15" stroke-linecap="round"/>
<line x1="340.48" y1="118.18" x2="340.41" y2="118.40" stroke="#5a8bc5" stroke-width="1.15" stroke-linecap="round"/>
<line x1="340.41" y1="118.40" x2="340.34" y2="118.63" stroke="#5a8bc5" stroke-width="1.15" stroke-linecap="round"/>
<line x1="340.34" y1="118.63" x2="340.28" y2="118.86" stroke="#598ac5" stroke-width="1.15" stroke-linecap="round"/>
<line x1="340.28" y1="118.86" x2="340.21" y2="119.09" stroke="#598ac4" stroke-width="1.15" stroke-linecap="round"/>
<line x1="340.21" y1="119.09" x2="340.14" y2="119.32" stroke="#5989c4" stroke-width="1.15" stroke-linecap="round"/>
<line x1="340.14" y1="119.32" x2="340.07" y2="119.56" stroke="#5889c4" stroke-width="1.15" stroke-linecap="round"/>
<line x1="340.07" y1="119.56" x2="340.00" y2="119.79" stroke="#5889c4" stroke-width="1.15" stroke-linecap="round"/>
<line x1="340.00" y1="119.79" x2="339.93" y2="120.03" stroke="#5888c3" stroke-width="1.15" stroke-linecap="round"/>
<line x1="339.93" y1="120.03" x2="339.86" y2="120.26" stroke="#5788c3" stroke-width="1.15" stroke-linecap="round"/>
<line x1="339.86" y1="120.26" x2="339.80" y2="120.50" stroke="#5788c3" stroke-width="1.15" stroke-linecap="round"/>
<line x1="339.80" y1="120.50" x2="339.73" y2="120.74" stroke="#5787c3" stroke-width="1.15" stroke-linecap="round"/>
<line x1="339.73" y1="120.74" x2="339.66" y2="120.99" stroke="#5687c2" stroke-width="1.15" stroke-linecap="round"/>
<line x1="339.66" y1="120.99" x2="339.59" y2="121.23" stroke="#5687c2" stroke-width="1.15" stroke-linecap="round"/>
<line x1="339.59" y1="121.23" x2="339.52" y2="121.47" stroke="#5686c2" stroke-width="1.15" stroke-linecap="round"/>
<line x1="339.52" y1="121.47" x2="339.45" y2="121.72" stroke="#5686c2" stroke-width="1.15" stroke-linecap="round"/>
<line x1="339.45" y1="121.72" x2="339.38" y2="121.97" stroke="#5586c1" stroke-width="1.15" stroke-linecap="round"/>
<line x1="339.38" y1="121.97" x2="339.32" y2="122.22" stroke="#5585c1" stroke-width="1.15" stroke-linecap="round"/>
<line x1="339.32" y1="122.22" x2="339.25" y2="122.47" stroke="#5585c1" stroke-width="1.15" stroke-linecap="round"/>
<line x1="339.25" y1="122.47" x2="339.18" y2="122.72" stroke="#5484c1" stroke-width="1.15" stroke-linecap="round"/>
<line x1="339.18" y1="122.72" x2="339.11" y2="122.97" stroke="#5484c0" stroke-width="1.15" stroke-linecap="round"/>
<line x1="339.11" y1="122.97" x2="339.04" y2="123.23" stroke="#5484c0" stroke-width="1.15" stroke-linecap="round"/>
<line x1="339.04" y1="123.23" x2="338.97" y2="123.48" stroke="#5383c0" stroke-width="1.15" stroke-linecap="round"/>
<line x1="338.97" y1="123.48" x2="338.91" y2="123.74" stroke="#5383c0" stroke-width="1.15" stroke-linecap="round"/>
<line x1="338.91" y1="123.74" x2="338.84" y2="124.00" stroke="#5383bf" stroke-width="1.15" stroke-linecap="round"/>
<line x1="338.84" y1="124.00" x2="338.77" y2="124.26" stroke="#5282bf" stroke-width="1.15" stroke-linecap="round"/>
<line x1="338.77" y1="124.26" x2="338.70" y2="124.52" stroke="#5282bf" stroke-width="1.15" stroke-linecap="round"/>
<line x1="338.70" y1="124.52" x2="338.63" y2="124.79" stroke="#5282bf" stroke-width="1.15" stroke-linecap="round"/>
<line x1="338.63" y1="124.79" x2="338.56" y2="125.05" stroke="#5181be" stroke-width="1.15" stroke-linecap="round"/>
<line x1="338.56" y1="125.05" x2="338.49" y2="125.32" stroke="#5181be" stroke-width="1.15" stroke-linecap="round"/>
<line x1="338.49" y1="125.32" x2="338.43" y2="125.58" stroke="#5181be" stroke-width="1.15" stroke-linecap="round"/>
<line x1="338.43" y1="125.58" x2="338.36" y2="125.85" stroke="#5080be" stroke-width="1.15" stroke-linecap="round"/>
<line x1="338.36" y1="125.85" x2="338.29" y2="126.12" stroke="#5080bd" stroke-width="1.15" stroke-linecap="round"/>
<line x1="338.29" y1="126.12" x2="338.22" y2="126.40" stroke="#5080bd" stroke-width="1.15" stroke-linecap="round"/>
<line x1="338.22" y1="126.40" x2="338.15" y2="126.67" stroke="#4f7fbd" stroke-width="1.15" stroke-linecap="round"/>
<line x1="338.15" y1="126.67" x2="338.08" y2="126.95" stroke="#4f7fbd" stroke-width="1.15" stroke-linecap="round"/>
<line x1="338.08" y1="126.95" x2="338.02" y2="127.22" stroke="#4f7ebc" stroke-width="1.15" stroke-linecap="round"/>
<line x1="338.02" y1="127.22" x2="337.95" y2="127.50" stroke="#4e7ebc" stroke-width="1.15" stroke-linecap="round"/>
<line x1="337.95" y1="127.50" x2="337.88" y2="127.78" stroke="#4e7ebc" stroke-width="1.15" stroke-linecap="round"/>
<line x1="337.88" y1="127.78" x2="337.81" y2="128.06" stroke="#4e7dbc" stroke-width="1.15" stroke-linecap="round"/>
<line x1="337.81" y1="128.06" x2="337.74" y2="128.34" stroke="#4e7dbb" stroke-width="1.15" stroke-linecap="round"/>
<line x1="337.74" y1="128.34" x2="337.67" y2="128.62" stroke="#4d7dbb" stroke-width="1.15" stroke-linecap="round"/>
<line x1="337.67" y1="128.62" x2="337.60" y2="128.91" stroke="#4d7cbb" stroke-width="1.15" stroke-linecap="round"/>
<line x1="337.60" y1="128.91" x2="337.54" y2="129.20" stroke="#4d7cbb" stroke-width="1.15" stroke-linecap="round"/>
<line x1="337.54" y1="129.20" x2="337.47" y2="129.48" stroke="#4c7cba" stroke-width="1.15" stroke-linecap="round"/>
<line x1="337.47" y1="129.48" x2="337.40" y2="129.77" stroke="#4c7bba" stroke-width="1.15" stroke-linecap="round"/>
<line x1="337.40" y1="129.77" x2="337.33" y2="130.06" stroke="#4c7bba" stroke-width="1.15" stroke-linecap="round"/>
<line x1="337.33" y1="130.06" x2="337.26" y2="130.36" stroke="#4b7bba" stroke-width="1.15" stroke-linecap="round"/>
<line x1="337.26" y1="130.36" x2="337.19" y2="130.65" stroke="#4b7ab9" stroke-width="1.15" stroke-linecap="round"/>
<line x1="337.19" y1="130.65" x2="337.12" y2="130.94" stroke="#4b7ab9" stroke-width="1.15" stroke-linecap="round"/>
<line x1="337.12" y1="130.94" x2="337.06" y2="131.24" stroke="#4a7ab9" stroke-width="1.15" stroke-linecap="round"/>
<line x1="337.06" y1="131.24" x2="336.99" y2="131.54" stroke="#4a79b9" stroke-width="1.15" stroke-linecap="round"/>
<line x1="336.99" y1="131.54" x2="336.92" y2="131.84" stroke="#4a79b8" stroke-width="1.15" stroke-linecap="round"/>
<line x1="336.92" y1="131.84" x2="336.85" y2="132.14" stroke="#4978b8" stroke-width="1.15" stroke-linecap="round"/>
<line x1="336.85" y1="132.14" x2="336.78" y2="132.44" stroke="#4978b8" stroke-width="1.15" stroke-linecap="round"/>
<line x1="336.78" y1="132.44" x2="336.71" y2="132.74" stroke="#4978b8" stroke-width="1.15" stroke-linecap="round"/>
<line x1="336.71" y1="132.74" x2="336.65" y2="133.05" stroke="#4877b7" stroke-width="1.15" stroke-linecap="round"/>
<line x1="336.65" y1="133.05" x2="336.58" y2="133.35" stroke="#4877b7" stroke-width="1.15" stroke-linecap="round"/>
<line x1="336.58" y1="133.35" x2="336.51" y2="133.66" stroke="#4877b7" stroke-width="1.15" stroke-linecap="round"/>
<line x1="336.51" y1="133.66" x2="336.44" y2="133.97" stroke="#4776b7" stroke-width="1.15" stroke-linecap="round"/>
<line x1="336.44" y1="133.97" x2="336.37" y2="134.28" stroke="#4776b6" stroke-width="1.15" stroke-linecap="round"/>
<line x1="336.37" y1="134.28" x2="336.30" y2="134.59" stroke="#4776b6" stroke-width="1.15" stroke-linecap="round"/>
<line x1="336.30" y1="134.59" x2="336.23" y2="134.91" stroke="#4675b6" stroke-width="1.15" stroke-linecap="round"/>
<line x1="336.23" y1="134.91" x2="336.17" y2="135.22" stroke="#4675b6" stroke-width="1.15" stroke-linecap="round"/>
<line x1="336.17" y1="135.22" x2="336.10" y2="135.54" stroke="#4675b5" stroke-width="1.15" stroke-linecap="round"/>
<line x1="336.10" y1="135.54" x2="336.03" y2="135.86" stroke="#4674b5" stroke-width="1.15" stroke-linecap="round"/>
<line x1="336.03" y1="135.86" x2="335.96" y2="136.18" stroke="#4574b5" stroke-width="1.15" stroke-linecap="round"/>
<line x1="335.96" y1="136.18" x2="335.89" y2="136.50" stroke="#4574b5" stroke-width="1.15" stroke-linecap="round"/>
<line x1="335.89" y1="136.50" x2="335.82" y2="136.82" stroke="#4573b4" stroke-width="1.15" stroke-linecap="round"/>
<line x1="335.82" y1="136.82" x2="335.75" y2="137.14" stroke="#4473b4" stroke-width="1.15" stroke-linecap="round"/>
<line x1="335.75" y1="137.14" x2="335.69" y2="137.47" stroke="#4472b4" stroke-width="1.15" stroke-linecap="round"/>
<line x1="335.69" y1="137.47" x2="335.62" y2="137.79" stroke="#4472b4" stroke-width="1.15" stroke-linecap="round"/>
<line x1="335.62" y1="137.79" x2="335.55" y2="138.12" stroke="#4372b3" stroke-width="1.15" stroke-linecap="round"/>
<line x1="335.55" y1="138.12" x2="335.48" y2="138.45" stroke="#4371b3" stroke-width="1.15" stroke-linecap="round"/>
<line x1="335.48" y1="138.45" x2="335.41" y2="138.78" stroke="#4371b3" stroke-width="1.15" stroke-linecap="round"/>
<line x1="335.41" y1="138.78" x2="335.34" y2="139.11" stroke="#4271b3" stroke-width="1.15" stroke-linecap="round"/>
<line x1="335.34" y1="139.11" x2="335.28" y2="139.45" stroke="#4270b2" stroke-width="1.15" stroke-linecap="round"/>
<line x1="335.28" y1="139.45" x2="335.21" y2="139.78" stroke="#4270b2" stroke-width="1.15" stroke-linecap="round"/>
<line x1="335.21" y1="139.78" x2="335.14" y2="140.12" stroke="#4170b2" stroke-width="1.15" stroke-linecap="round"/>
<line x1="335.14" y1="140.12" x2="335.07" y2="140.46" stroke="#416fb2" stroke-width="1.15" stroke-linecap="round"/>
<line x1="335.07" y1="140.46" x2="335.00" y2="140.80" stroke="#416fb1" stroke-width="1.15" stroke-linecap="round"/>
<line x1="335.00" y1="140.80" x2="334.93" y2="141.14" stroke="#406fb1" stroke-width="1.15" stroke-linecap="round"/>
<line x1="334.93" y1="141.14" x2="334.86" y2="141.48" stroke="#406eb1" stroke-width="1.15" stroke-linecap="round"/>
<line x1="334.86" y1="141.48" x2="334.80" y2="141.82" stroke="#406eb1" stroke-width="1.15" stroke-linecap="round"/>
<line x1="334.80" y1="141.82" x2="334.73" y2="142.17" stroke="#3f6db0" stroke-width="1.15" stroke-linecap="round"/>
<line x1="334.73" y1="142.17" x2="334.66" y2="142.52" stroke="#3f6db0" stroke-width="1.15" stroke-linecap="round"/>
<line x1="334.66" y1="142.52" x2="334.60" y2="142.80" stroke="#3f6db0" stroke-width="1.15" stroke-linecap="round"/>
<line x1="350.70" y1="101.44" x2="350.77" y2="101.49" stroke="#f8d8c0" stroke-width="1.15" stroke-linecap="round"/>
<line x1="350.77" y1="101.49" x2="350.84" y2="101.55" stroke="#f8d7bf" stroke-width="1.15" stroke-linecap="round"/>
<line x1="350.84" y1="101.55" x2="350.91" y2="101.61" stroke="#f8d6bd" stroke-width="1.15" stroke-linecap="round"/>
<line x1="350.91" y1="101.61" x2="350.97" y2="101.66" stroke="#f7d4bc" stroke-width="1.15" stroke-linecap="round"/>
<line x1="350.97" y1="101.66" x2="351.04" y2="101.72" stroke="#f7d3ba" stroke-width="1.15" stroke-linecap="round"/>
<line x1="351.04" y1="101.72" x2="351.11" y2="101.79" stroke="#f7d2b9" stroke-width="1.15" stroke-linecap="round"/>
<line x1="351.11" y1="101.79" x2="351.18" y2="101.85" stroke="#f7d1b8" stroke-width="1.15" stroke-linecap="round"/>
<line x1="351.18" y1="101.85" x2="351.25" y2="101.91" stroke="#f6cfb6" stroke-width="1.15" stroke-linecap="round"/>
<line x1="351.25" y1="101.91" x2="351.32" y2="101.98" stroke="#f6ceb5" stroke-width="1.15" stroke-linecap="round"/>
<line x1="351.32" y1="101.98" x2="351.38" y2="102.05" stroke="#f6cdb3" stroke-width="1.15" stroke-linecap="round"/>
<line x1="351.38" y1="102.05" x2="351.45" y2="102.11" stroke="#f6ccb2" stroke-width="1.15" stroke-linecap="round"/>
<line x1="351.45" y1="102.11" x2="351.52" y2="102.18" stroke="#f5cab0" stroke-width="1.15" stroke-linecap="round"/>
<line x1="351.52" y1="102.18" x2="351.59" y2="102.26" stroke="#f5c9af" stroke-width="1.15" stroke-linecap="round"/>
<line x1="351.59" y1="102.26" x2="351.66" y2="102.33" stroke="#f5c8ae" stroke-width="1.15" stroke-linecap="round"/>
<line x1="351.66" y1="102.33" x2="351.73" y2="102.40" stroke="#f5c7ac" stroke-width="1.15" stroke-linecap="round"/>
<line x1="351.73" y1="102.40" x2="351.80" y2="102.48" stroke="#f5c6ab" stroke-width="1.15" stroke-linecap="round"/>
<line x1="351.80" y1="102.48" x2="351.86" y2="102.56" stroke="#f4c4a9" stroke-width="1.15" stroke-linecap="round"/>
<line x1="351.86" y1="102.56" x2="351.93" y2="102.63" stroke="#f4c3a8" stroke-width="1.15" stroke-linecap="round"/>
<line x1="351.93" y1="102.63" x2="352.00" y2="102.71" stroke="#f4c2a7" stroke-width="1.15" stroke-linecap="round"/>
<line x1="352.00" y1="102.71" x2="352.07" y2="102.80" stroke="#f4c1a5" stroke-width="1.15" stroke-linecap="round"/>
<line x1="352.07" y1="102.80" x2="352.14" y2="102.88" stroke="#f3bfa4" stroke-width="1.15" stroke-linecap="round"/>
<line x1="352.14" y1="102.88" x2="352.21" y2="102.96" stroke="#f3bea2" stroke-width="1.15" stroke-linecap="round"/>
<line x1="352.21" y1="102.96" x2="352.28" y2="103.05" stroke="#f3bda1" stroke-width="1.15" stroke-linecap="round"/>
<line x1="352.28" y1="103.05" x2="352.34" y2="103.14" stroke="#f3bc9f" stroke-width="1.15" stroke-linecap="round"/>
<line x1="352.34" y1="103.14" x2="352.41" y2="103.22" stroke="#f3ba9e" stroke-width="1.15" stroke-linecap="round"/>
<line x1="352.41" y1="103.22" x2="352.48" y2="103.31" stroke="#f2b99d" stroke-width="1.15" stroke-linecap="round"/>
<line x1="352.48" y1="103.31" x2="352.55" y2="103.41" stroke="#f2b89b" stroke-width="1.15" stroke-linecap="round"/>
<line x1="352.55" y1="103.41" x2="352.62" y2="103.50" stroke="#f2b79a" stroke-width="1.15" stroke-linecap="round"/>
<line x1="352.62" y1="103.50" x2="352.69" y2="103.59" stroke="#f2b598" stroke-width="1.15" stroke-linecap="round"/>
<line x1="352.69" y1="103.59" x2="352.75" y2="103.69" stroke="#f1b497" stroke-width="1.15" stroke-linecap="round"/>
<line x1="352.75" y1="103.69" x2="352.82" y2="103.79" stroke="#f1b396" stroke-width="1.15" stroke-linecap="round"/>
<line x1="352.82" y1="103.79" x2="352.89" y2="103.88" stroke="#f1b294" stroke-width="1.15" stroke-linecap="round"/>
<line x1="352.89" y1="103.88" x2="352.96" y2="103.98" stroke="#f1b193" stroke-width="1.15" stroke-linecap="round"/>
<line x1="352.96" y1="103.98" x2="353.03" y2="104.09" stroke="#f0af91" stroke-width="1.15" stroke-linecap="round"/>
<line x1="353.03" y1="104.09" x2="353.10" y2="104.19" stroke="#f0ae90" stroke-width="1.15" stroke-linecap="round"/>
<line x1="353.10" y1="104.19" x2="353.17" y2="104.29" stroke="#f0ad8e" stroke-width="1.15" stroke-linecap="round"/>
<line x1="353.17" y1="104.29" x2="353.23" y2="104.40" stroke="#f0ac8d" stroke-width="1.15" stroke-linecap="round"/>
<line x1="353.23" y1="104.40" x2="353.30" y2="104.51" stroke="#f0aa8c" stroke-width="1.15" stroke-linecap="round"/>
<line x1="353.30" y1="104.51" x2="353.37" y2="104.62" stroke="#efa98a" stroke-width="1.15" stroke-linecap="round"/>
<line x1="353.37" y1="104.62" x2="353.44" y2="104.73" stroke="#efa889" stroke-width="1.15" stroke-linecap="round"/>
<line x1="353.44" y1="104.73" x2="353.51" y2="104.84" stroke="#efa787" stroke-width="1.15" stroke-linecap="round"/>
<line x1="353.51" y1="104.84" x2="353.58" y2="104.95" stroke="#efa586" stroke-width="1.15" stroke-linecap="round"/>
<line x1="353.58" y1="104.95" x2="353.65" y2="105.06" stroke="#eea485" stroke-width="1.15" stroke-linecap="round"/>
<line x1="353.65" y1="105.06" x2="353.71" y2="105.18" stroke="#eea383" stroke-width="1.15" stroke-linecap="round"/>
<line x1="353.71" y1="105.18" x2="353.78" y2="105.30" stroke="#eea282" stroke-width="1.15" stroke-linecap="round"/>
<line x1="353.78" y1="105.30" x2="353.85" y2="105.42" stroke="#eea181" stroke-width="1.15" stroke-linecap="round"/>
<line x1="353.85" y1="105.42" x2="353.92" y2="105.54" stroke="#eda081" stroke-width="1.15" stroke-linecap="round"/>
<line x1="353.92" y1="105.54" x2="353.99" y2="105.66" stroke="#ed9f80" stroke-width="1.15" stroke-linecap="round"/>
<line x1="353.99" y1="105.66" x2="354.06" y2="105.78" stroke="#ec9e80" stroke-width="1.15" stroke-linecap="round"/>
<line x1="354.06" y1="105.78" x2="354.12" y2="105.91" stroke="#ec9d7f" stroke-width="1.15" stroke-linecap="round"/>
<line x1="354.12" y1="105.91" x2="354.19" y2="106.03" stroke="#eb9c7f" stroke-width="1.15" stroke-linecap="round"/>
<line x1="354.19" y1="106.03" x2="354.26" y2="106.16" stroke="#eb9b7e" stroke-width="1.15" stroke-linecap="round"/>
<line x1="354.26" y1="106.16" x2="354.33" y2="106.29" stroke="#eb9a7e" stroke-width="1.15" stroke-linecap="round"/>
<line x1="354.33" y1="106.29" x2="354.40" y2="106.42" stroke="#ea997d" stroke-width="1.15" stroke-linecap="round"/>
<line x1="354.40" y1="106.42" x2="354.47" y2="106.55" stroke="#ea987c" stroke-width="1.15" stroke-linecap="round"/>
<line x1="354.47" y1="106.55" x2="354.54" y2="106.68" stroke="#e9967c" stroke-width="1.15" stroke-linecap="round"/>
<line x1="354.54" y1="106.68" x2="354.60" y2="106.82" stroke="#e9957b" stroke-width="1.15" stroke-linecap="round"/>
<line x1="354.60" y1="106.82" x2="354.67" y2="106.95" stroke="#e9947b" stroke-width="1.15" stroke-linecap="round"/>
<line x1="354.67" y1="106.95" x2="354.74" y2="107.09" stroke="#e8937a" stroke-width="1.15" stroke-linecap="round"/>
<line x1="354.74" y1="107.09" x2="354.81" y2="107.23" stroke="#e8927a" stroke-width="1.15" stroke-linecap="round"/>
<line x1="354.81" y1="107.23" x2="354.88" y2="107.37" stroke="#e79179" stroke-width="1.15" stroke-linecap="round"/>
<line x1="354.88" y1="107.37" x2="354.95" y2="107.51" stroke="#e79079" stroke-width="1.15" stroke-linecap="round"/>
<line x1="354.95" y1="107.51" x2="355.02" y2="107.65" stroke="#e78f78" stroke-width="1.15" stroke-linecap="round"/>
<line x1="355.02" y1="107.65" x2="355.08" y2="107.80" stroke="#e68e77" stroke-width="1.15" stroke-linecap="round"/>
<line x1="355.08" y1="107.80" x2="355.15" y2="107.94" stroke="#e68d77" stroke-width="1.15" stroke-linecap="round"/>
<line x1="355.15" y1="107.94" x2="355.22" y2="108.09" stroke="#e58c76" stroke-width="1.15" stroke-linecap="round"/>
<line x1="355.22" y1="108.09" x2="355.29" y2="108.24" stroke="#e58b76" stroke-width="1.15" stroke-linecap="round"/>
<line x1="355.29" y1="108.24" x2="355.36" y2="108.39" stroke="#e48a75" stroke-width="1.15" stroke-linecap="round"/>
<line x1="355.36" y1="108.39" x2="355.43" y2="108.54" stroke="#e48975" stroke-width="1.15" stroke-linecap="round"/>
<line x1="355.43" y1="108.54" x2="355.49" y2="108.70" stroke="#e48874" stroke-width="1.15" stroke-linecap="round"/>
<line x1="355.49" y1="108.70" x2="355.56" y2="108.85" stroke="#e38774" stroke-width="1.15" stroke-linecap="round"/>
<line x1="355.56" y1="108.85" x2="355.63" y2="109.01" stroke="#e38673" stroke-width="1.15" stroke-linecap="round"/>
<line x1="355.63" y1="109.01" x2="355.70" y2="109.16" stroke="#e28573" stroke-width="1.15" stroke-linecap="round"/>
<line x1="355.70" y1="109.16" x2="355.77" y2="109.32" stroke="#e28472" stroke-width="1.15" stroke-linecap="round"/>
<line x1="355.77" y1="109.32" x2="355.84" y2="109.48" stroke="#e28371" stroke-width="1.15" stroke-linecap="round"/>
<line x1="355.84" y1="109.48" x2="355.91" y2="109.64" stroke="#e18271" stroke-width="1.15" stroke-linecap="round"/>
<line x1="355.91" y1="109.64" x2="355.97" y2="109.81" stroke="#e18170" stroke-width="1.15" stroke-linecap="round"/>
<line x1="355.97" y1="109.81" x2="356.04" y2="109.97" stroke="#e08070" stroke-width="1.15" stroke-linecap="round"/>
<line x1="356.04" y1="109.97" x2="356.11" y2="110.14" stroke="#e07f6f" stroke-width="1.15" stroke-linecap="round"/>
<line x1="356.11" y1="110.14" x2="356.18" y2="110.31" stroke="#e07e6f" stroke-width="1.15" stroke-linecap="round"/>
<line x1="356.18" y1="110.31" x2="356.25" y2="110.47" stroke="#df7d6e" stroke-width="1.15" stroke-linecap="round"/>
<line x1="356.25" y1="110.47" x2="356.32" y2="110.64" stroke="#df7c6e" stroke-width="1.15" stroke-linecap="round"/>
<line x1="356.32" y1="110.64" x2="356.38" y2="110.82" stroke="#de7b6d" stroke-width="1.15" stroke-linecap="round"/>
<line x1="356.38" y1="110.82" x2="356.45" y2="110.99" stroke="#de7a6d" stroke-width="1.15" stroke-linecap="round"/>
<line x1="356.45" y1="110.99" x2="356.52" y2="111.16" stroke="#dd796c" stroke-width="1.15" stroke-linecap="round"/>
<line x1="356.52" y1="111.16" x2="356.59" y2="111.34" stroke="#dd786b" stroke-width="1.15" stroke-linecap="round"/>
<line x1="356.59" y1="111.34" x2="356.66" y2="111.52" stroke="#dd776b" stroke-width="1.15" stroke-linecap="round"/>
<line x1="356.66" y1="111.52" x2="356.73" y2="111.70" stroke="#dc766a" stroke-width="1.15" stroke-linecap="round"/>
<line x1="356.73" y1="111.70" x2="356.80" y2="111.88" stroke="#dc756a" stroke-width="1.15" stroke-linecap="round"/>
<line x1="356.80" y1="111.88" x2="356.86" y2="112.06" stroke="#db7469" stroke-width="1.15" stroke-linecap="round"/>
<line x1="356.86" y1="112.06" x2="356.93" y2="112.24" stroke="#db7369" stroke-width="1.15" stroke-linecap="round"/>
<line x1="356.93" y1="112.24" x2="357.00" y2="112.43" stroke="#db7268" stroke-width="1.15" stroke-linecap="round"/>
<line x1="357.00" y1="112.43" x2="357.07" y2="112.61" stroke="#da7068" stroke-width="1.15" stroke-linecap="round"/>
<line x1="357.07" y1="112.61" x2="357.14" y2="112.80" stroke="#da6f67" stroke-width="1.15" stroke-linecap="round"/>
<line x1="357.14" y1="112.80" x2="357.21" y2="112.99" stroke="#d96e66" stroke-width="1.15" stroke-linecap="round"/>
<line x1="357.21" y1="112.99" x2="357.28" y2="113.18" stroke="#d96d66" stroke-width="1.15" stroke-linecap="round"/>
<line x1="357.28" y1="113.18" x2="357.34" y2="113.37" stroke="#d96c65" stroke-width="1.15" stroke-linecap="round"/>
<line x1="357.34" y1="113.37" x2="357.41" y2="113.56" stroke="#d86b65" stroke-width="1.15" stroke-linecap="round"/>
<line x1="357.41" y1="113.56" x2="357.48" y2="113.76" stroke="#d86a64" stroke-width="1.15" stroke-linecap="round"/>
<line x1="357.48" y1="113.76" x2="357.55" y2="113.95" stroke="#d76964" stroke-width="1.15" stroke-linecap="round"/>
<line x1="357.55" y1="113.95" x2="357.62" y2="114.15" stroke="#d76863" stroke-width="1.15" stroke-linecap="round"/>
<line x1="357.62" y1="114.15" x2="357.69" y2="114.35" stroke="#d66763" stroke-width="1.15" stroke-linecap="round"/>
<line x1="357.69" y1="114.35" x2="357.75" y2="114.55" stroke="#d66662" stroke-width="1.15" stroke-linecap="round"/>
<line x1="357.75" y1="114.55" x2="357.82" y2="114.75" stroke="#d66562" stroke-width="1.15" stroke-linecap="round"/>
<line x1="357.82" y1="114.75" x2="357.89" y2="114.96" stroke="#d56461" stroke-width="1.15" stroke-linecap="round"/>
<line x1="357.89" y1="114.96" x2="357.96" y2="115.16" stroke="#d56360" stroke-width="1.15" stroke-linecap="round"/>
<line x1="357.96" y1="115.16" x2="358.03" y2="115.37" stroke="#d46260" stroke-width="1.15" stroke-linecap="round"/>
<line x1="358.03" y1="115.37" x2="358.10" y2="115.57" stroke="#d4615f" stroke-width="1.15" stroke-linecap="round"/>
<line x1="358.10" y1="115.57" x2="358.17" y2="115.78" stroke="#d4605f" stroke-width="1.15" stroke-linecap="round"/>
<line x1="358.17" y1="115.78" x2="358.23" y2="115.99" stroke="#d35f5e" stroke-width="1.15" stroke-linecap="round"/>
<line x1="358.23" y1="115.99" x2="358.30" y2="116.21" stroke="#d35e5e" stroke-width="1.15" stroke-linecap="round"/>
<line x1="358.30" y1="116.21" x2="358.37" y2="116.42" stroke="#d25d5d" stroke-width="1.15" stroke-linecap="round"/>
<line x1="358.37" y1="116.42" x2="358.44" y2="116.63" stroke="#d25c5d" stroke-width="1.15" stroke-linecap="round"/>
<line x1="358.44" y1="116.63" x2="358.51" y2="116.85" stroke="#d25b5c" stroke-width="1.15" stroke-linecap="round"/>
<line x1="358.51" y1="116.85" x2="358.58" y2="117.07" stroke="#d15a5c" stroke-width="1.15" stroke-linecap="round"/>
<line x1="358.58" y1="117.07" x2="358.65" y2="117.29" stroke="#d1595b" stroke-width="1.15" stroke-linecap="round"/>
<line x1="358.65" y1="117.29" x2="358.71" y2="117.51" stroke="#d0585a" stroke-width="1.15" stroke-linecap="round"/>
<line x1="358.71" y1="117.51" x2="358.78" y2="117.73" stroke="#d0575a" stroke-width="1.15" stroke-linecap="round"/>
<line x1="358.78" y1="117.73" x2="358.85" y2="117.95" stroke="#d0575a" stroke-width="1.15" stroke-linecap="round"/>
<line x1="358.85" y1="117.95" x2="358.92" y2="118.18" stroke="#cf565a" stroke-width="1.15" stroke-linecap="round"/>
<line x1="358.92" y1="118.18" x2="358.99" y2="118.40" stroke="#cf5659" stroke-width="1.15" stroke-linecap="round"/>
<line x1="358.99" y1="118.40" x2="359.06" y2="118.63" stroke="#cf5659" stroke-width="1.15" stroke-linecap="round"/>
<line x1="359.06" y1="118.63" x2="359.12" y2="118.86" stroke="#cf5559" stroke-width="1.15" stroke-linecap="round"/>
<line x1="359.12" y1="118.86" x2="359.19" y2="119.09" stroke="#ce5559" stroke-width="1.15" stroke-linecap="round"/>
<line x1="359.19" y1="119.09" x2="359.26" y2="119.32" stroke="#ce5559" stroke-width="1.15" stroke-linecap="round"/>
<line x1="359.26" y1="119.32" x2="359.33" y2="119.56" stroke="#ce5459" stroke-width="1.15" stroke-linecap="round"/>
<line x1="359.33" y1="119.56" x2="359.40" y2="119.79" stroke="#ce5458" stroke-width="1.15" stroke-linecap="round"/>
<line x1="359.40" y1="119.79" x2="359.47" y2="120.03" stroke="#cd5458" stroke-width="1.15" stroke-linecap="round"/>
<line x1="359.47" y1="120.03" x2="359.54" y2="120.26" stroke="#cd5358" stroke-width="1.15" stroke-linecap="round"/>
<line x1="359.54" y1="120.26" x2="359.60" y2="120.50" stroke="#cd5358" stroke-width="1.15" stroke-linecap="round"/>
<line x1="359.60" y1="120.50" x2="359.67" y2="120.74" stroke="#cd5358" stroke-width="1.15" stroke-linecap="round"/>
<line x1="359.67" y1="120.74" x2="359.74" y2="120.99" stroke="#cc5257" stroke-width="1.15" stroke-linecap="round"/>
<line x1="359.74" y1="120.99" x2="359.81" y2="121.23" stroke="#cc5257" stroke-width="1.15" stroke-linecap="round"/>
<line x1="359.81" y1="121.23" x2="359.88" y2="121.47" stroke="#cc5257" stroke-width="1.15" stroke-linecap="round"/>
<line x1="359.88" y1="121.47" x2="359.95" y2="121.72" stroke="#cb5157" stroke-width="1.15" stroke-linecap="round"/>
<line x1="359.95" y1="121.72" x2="360.02" y2="121.97" stroke="#cb5157" stroke-width="1.15" stroke-linecap="round"/>
<line x1="360.02" y1="121.97" x2="360.08" y2="122.22" stroke="#cb5156" stroke-width="1.15" stroke-linecap="round"/>
<line x1="360.08" y1="122.22" x2="360.15" y2="122.47" stroke="#cb5056" stroke-width="1.15" stroke-linecap="round"/>
<line x1="360.15" y1="122.47" x2="360.22" y2="122.72" stroke="#ca5056" stroke-width="1.15" stroke-linecap="round"/>
<line x1="360.22" y1="122.72" x2="360.29" y2="122.97" stroke="#ca5056" stroke-width="1.15" stroke-linecap="round"/>
<line x1="360.29" y1="122.97" x2="360.36" y2="123.23" stroke="#ca4f56" stroke-width="1.15" stroke-linecap="round"/>
<line x1="360.36" y1="123.23" x2="360.43" y2="123.48" stroke="#ca4f56" stroke-width="1.15" stroke-linecap="round"/>
<line x1="360.43" y1="123.48" x2="360.49" y2="123.74" stroke="#c94f55" stroke-width="1.15" stroke-linecap="round"/>
<line x1="360.49" y1="123.74" x2="360.56" y2="124.00" stroke="#c94e55" stroke-width="1.15" stroke-linecap="round"/>
<line x1="360.56" y1="124.00" x2="360.63" y2="124.26" stroke="#c94e55" stroke-width="1.15" stroke-linecap="round"/>
<line x1="360.63" y1="124.26" x2="360.70" y2="124.52" stroke="#c94e55" stroke-width="1.15" stroke-linecap="round"/>
<line x1="360.70" y1="124.52" x2="360.77" y2="124.79" stroke="#c84d55" stroke-width="1.15" stroke-linecap="round"/>
<line x1="360.77" y1="124.79" x2="360.84" y2="125.05" stroke="#c84d54" stroke-width="1.15" stroke-linecap="round"/>
<line x1="360.84" y1="125.05" x2="360.91" y2="125.32" stroke="#c84d54" stroke-width="1.15" stroke-linecap="round"/>
<line x1="360.91" y1="125.32" x2="360.97" y2="125.58" stroke="#c84c54" stroke-width="1.15" stroke-linecap="round"/>
<line x1="360.97" y1="125.58" x2="361.04" y2="125.85" stroke="#c74c54" stroke-width="1.15" stroke-linecap="round"/>
<line x1="361.04" y1="125.85" x2="361.11" y2="126.12" stroke="#c74c54" stroke-width="1.15" stroke-linecap="round"/>
<line x1="361.11" y1="126.12" x2="361.18" y2="126.40" stroke="#c74b54" stroke-width="1.15" stroke-linecap="round"/>
<line x1="361.18" y1="126.40" x2="361.25" y2="126.67" stroke="#c64b53" stroke-width="1.15" stroke-linecap="round"/>
<line x1="361.25" y1="126.67" x2="361.32" y2="126.95" stroke="#c64b53" stroke-width="1.15" stroke-linecap="round"/>
<line x1="361.32" y1="126.95" x2="361.38" y2="127.22" stroke="#c64a53" stroke-width="1.15" stroke-linecap="round"/>
<line x1="361.38" y1="127.22" x2="361.45" y2="127.50" stroke="#c64a53" stroke-width="1.15" stroke-linecap="round"/>
<line x1="361.45" y1="127.50" x2="361.52" y2="127.78" stroke="#c54a53" stroke-width="1.15" stroke-linecap="round"/>
<line x1="361.52" y1="127.78" x2="361.59" y2="128.06" stroke="#c54952" stroke-width="1.15" stroke-linecap="round"/>
<line x1="361.59" y1="128.06" x2="361.66" y2="128.34" stroke="#c54952" stroke-width="1.15" stroke-linecap="round"/>
<line x1="361.66" y1="128.34" x2="361.73" y2="128.62" stroke="#c54952" stroke-width="1.15" stroke-linecap="round"/>
<line x1="361.73" y1="128.62" x2="361.80" y2="128.91" stroke="#c44852" stroke-width="1.15" stroke-linecap="round"/>
<line x1="361.80" y1="128.91" x2="361.86" y2="129.20" stroke="#c44852" stroke-width="1.15" stroke-linecap="round"/>
<line x1="361.86" y1="129.20" x2="361.93" y2="129.48" stroke="#c44852" stroke-width="1.15" stroke-linecap="round"/>
<line x1="361.93" y1="129.48" x2="362.00" y2="129.77" stroke="#c44751" stroke-width="1.15" stroke-linecap="round"/>
<line x1="362.00" y1="129.77" x2="362.07" y2="130.06" stroke="#c34751" stroke-width="1.15" stroke-linecap="round"/>
<line x1="362.07" y1="130.06" x2="362.14" y2="130.36" stroke="#c34751" stroke-width="1.15" stroke-linecap="round"/>
<line x1="362.14" y1="130.36" x2="362.21" y2="130.65" stroke="#c34651" stroke-width="1.15" stroke-linecap="round"/>
<line x1="362.21" y1="130.65" x2="362.28" y2="130.94" stroke="#c34651" stroke-width="1.15" stroke-linecap="round"/>
<line x1="362.28" y1="130.94" x2="362.34" y2="131.24" stroke="#c24650" stroke-width="1.15" stroke-linecap="round"/>
<line x1="362.34" y1="131.24" x2="362.41" y2="131.54" stroke="#c24550" stroke-width="1.15" stroke-linecap="round"/>
<line x1="362.41" y1="131.54" x2="362.48" y2="131.84" stroke="#c24550" stroke-width="1.15" stroke-linecap="round"/>
<line x1="362.48" y1="131.84" x2="362.55" y2="132.14" stroke="#c24550" stroke-width="1.15" stroke-linecap="round"/>
<line x1="362.55" y1="132.14" x2="362.62" y2="132.44" stroke="#c14450" stroke-width="1.15" stroke-linecap="round"/>
<line x1="362.62" y1="132.44" x2="362.69" y2="132.74" stroke="#c14450" stroke-width="1.15" stroke-linecap="round"/>
<line x1="362.69" y1="132.74" x2="362.75" y2="133.05" stroke="#c1444f" stroke-width="1.15" stroke-linecap="round"/>
<line x1="362.75" y1="133.05" x2="362.82" y2="133.35" stroke="#c0434f" stroke-width="1.15" stroke-linecap="round"/>
<line x1="362.82" y1="133.35" x2="362.89" y2="133.66" stroke="#c0434f" stroke-width="1.15" stroke-linecap="round"/>
<line x1="362.89" y1="133.66" x2="362.96" y2="133.97" stroke="#c0434f" stroke-width="1.15" stroke-linecap="round"/>
<line x1="362.96" y1="133.97" x2="363.03" y2="134.28" stroke="#c0424f" stroke-width="1.15" stroke-linecap="round"/>
<line x1="363.03" y1="134.28" x2="363.10" y2="134.59" stroke="#bf424e" stroke-width="1.15" stroke-linecap="round"/>
<line x1="363.10" y1="134.59" x2="363.17" y2="134.91" stroke="#bf424e" stroke-width="1.15" stroke-linecap="round"/>
<line x1="363.17" y1="134.91" x2="363.23" y2="135.22" stroke="#bf414e" stroke-width="1.15" stroke-linecap="round"/>
<line x1="363.23" y1="135.22" x2="363.30" y2="135.54" stroke="#bf414e" stroke-width="1.15" stroke-linecap="round"/>
<line x1="363.30" y1="135.54" x2="363.37" y2="135.86" stroke="#be414e" stroke-width="1.15" stroke-linecap="round"/>
<line x1="363.37" y1="135.86" x2="363.44" y2="136.18" stroke="#be404e" stroke-width="1.15" stroke-linecap="round"/>
<line x1="363.44" y1="136.18" x2="363.51" y2="136.50" stroke="#be404d" stroke-width="1.15" stroke-linecap="round"/>
<line x1="363.51" y1="136.50" x2="363.58" y2="136.82" stroke="#be404d" stroke-width="1.15" stroke-linecap="round"/>
<line x1="363.58" y1="136.82" x2="363.65" y2="137.14" stroke="#bd3f4d" stroke-width="1.15" stroke-linecap="round"/>
<line x1="363.65" y1="137.14" x2="363.71" y2="137.47" stroke="#bd3f4d" stroke-width="1.15" stroke-linecap="round"/>
<line x1="363.71" y1="137.47" x2="363.78" y2="137.79" stroke="#bd3f4d" stroke-width="1.15" stroke-linecap="round"/>
<line x1="363.78" y1="137.79" x2="363.85" y2="138.12" stroke="#bd3e4c" stroke-width="1.15" stroke-linecap="round"/>
<line x1="363.85" y1="138.12" x2="363.92" y2="138.45" stroke="#bc3e4c" stroke-width="1.15" stroke-linecap="round"/>
<line x1="363.92" y1="138.45" x2="363.99" y2="138.78" stroke="#bc3e4c" stroke-width="1.15" stroke-linecap="round"/>
<line x1="363.99" y1="138.78" x2="364.06" y2="139.11" stroke="#bc3d4c" stroke-width="1.15" stroke-linecap="round"/>
<line x1="364.06" y1="139.11" x2="364.12" y2="139.45" stroke="#bb3d4c" stroke-width="1.15" stroke-linecap="round"/>
<line x1="364.12" y1="139.45" x2="364.19" y2="139.78" stroke="#bb3d4c" stroke-width="1.15" stroke-linecap="round"/>
<line x1="364.19" y1="139.78" x2="364.26" y2="140.12" stroke="#bb3c4b" stroke-width="1.15" stroke-linecap="round"/>
<line x1="364.26" y1="140.12" x2="364.33" y2="140.46" stroke="#bb3c4b" stroke-width="1.15" stroke-linecap="round"/>
<line x1="364.33" y1="140.46" x2="364.40" y2="140.80" stroke="#ba3c4b" stroke-width="1.15" stroke-linecap="round"/>
<line x1="364.40" y1="140.80" x2="364.47" y2="141.14" stroke="#ba3b4b" stroke-width="1.15" stroke-linecap="round"/>
<line x1="364.47" y1="141.14" x2="364.54" y2="141.48" stroke="#ba3b4b" stroke-width="1.15" stroke-linecap="round"/>
<line x1="364.54" y1="141.48" x2="364.60" y2="141.82" stroke="#ba3b4a" stroke-width="1.15" stroke-linecap="round"/>
<line x1="364.60" y1="141.82" x2="364.67" y2="142.17" stroke="#b93a4a" stroke-width="1.15" stroke-linecap="round"/>
<line x1="364.67" y1="142.17" x2="364.74" y2="142.52" stroke="#b93a4a" stroke-width="1.15" stroke-linecap="round"/>
<line x1="364.74" y1="142.52" x2="364.80" y2="142.80" stroke="#b93a4a" stroke-width="1.15" stroke-linecap="round"/>
<text x="2.40" y="177.20" font-size="14" text-anchor="start" style="font-family:'Liberation Sans',sans-serif;font-weight:bold;font-style:normal" fill="#000">c</text>
<line x1="194.50" y1="187.30" x2="254.20" y2="183.40" stroke="#222" stroke-width="0.8" />
<line x1="193.60" y1="197.50" x2="232.80" y2="249.80" stroke="#222" stroke-width="0.8" />
<line x1="252.30" y1="273.10" x2="270.90" y2="296.50" stroke="#222" stroke-width="0.8" />
<line x1="28.80" y1="199.10" x2="32.70" y2="286.30" stroke="#111" stroke-width="0.95" />
<line x1="72.90" y1="186.60" x2="144.00" y2="186.20" stroke="#111" stroke-width="0.95" />
<line x1="75.00" y1="263.20" x2="141.10" y2="263.20" stroke="#111" stroke-width="0.95" />
<line x1="72.90" y1="186.60" x2="75.00" y2="263.20" stroke="#111" stroke-width="0.95" />
<line x1="144.00" y1="186.20" x2="141.10" y2="263.20" stroke="#111" stroke-width="0.95" />
<line x1="188.70" y1="196.10" x2="183.90" y2="283.00" stroke="#111" stroke-width="0.95" />
<line x1="156.20" y1="212.70" x2="61.00" y2="212.70" stroke="#111" stroke-width="0.95" />
<line x1="152.70" y1="313.90" x2="65.10" y2="313.90" stroke="#111" stroke-width="0.95" />
<line x1="156.20" y1="212.70" x2="152.70" y2="313.90" stroke="#111" stroke-width="0.95" />
<line x1="61.00" y1="212.70" x2="65.10" y2="313.90" stroke="#111" stroke-width="0.95" />
<g transform="translate(28.80,199.10) scale(1.0)"><path d="M-6.4,-4.2 C-6.4,-8.2 -3.6,-10.5 0,-10.5 C3.6,-10.5 6.6,-8.2 6.6,-4.4 C6.6,-1.6 5.2,-0.4 4.6,0.4 C5.6,1.5 5.8,2.7 5.8,4.0 C5.8,6.6 3.3,8.3 -0.3,8.3 C-3.7,8.3 -6.1,6.6 -6.1,4.0 C-6.1,2.7 -5.4,1.4 -4.5,0.4 C-5.4,-0.6 -6.4,-1.8 -6.4,-4.2 Z" fill="url(#blob)"/></g>
<g transform="translate(72.90,186.60) scale(1.0)"><path d="M-6.4,-4.2 C-6.4,-8.2 -3.6,-10.5 0,-10.5 C3.6,-10.5 6.6,-8.2 6.6,-4.4 C6.6,-1.6 5.2,-0.4 4.6,0.4 C5.6,1.5 5.8,2.7 5.8,4.0 C5.8,6.6 3.3,8.3 -0.3,8.3 C-3.7,8.3 -6.1,6.6 -6.1,4.0 C-6.1,2.7 -5.4,1.4 -4.5,0.4 C-5.4,-0.6 -6.4,-1.8 -6.4,-4.2 Z" fill="url(#blob)"/></g>
<g transform="translate(144.00,186.20) scale(1.0)"><path d="M-6.4,-4.2 C-6.4,-8.2 -3.6,-10.5 0,-10.5 C3.6,-10.5 6.6,-8.2 6.6,-4.4 C6.6,-1.6 5.2,-0.4 4.6,0.4 C5.6,1.5 5.8,2.7 5.8,4.0 C5.8,6.6 3.3,8.3 -0.3,8.3 C-3.7,8.3 -6.1,6.6 -6.1,4.0 C-6.1,2.7 -5.4,1.4 -4.5,0.4 C-5.4,-0.6 -6.4,-1.8 -6.4,-4.2 Z" fill="url(#blob)"/></g>
<g transform="translate(188.70,196.10) scale(1.0)"><path d="M-6.4,-4.2 C-6.4,-8.2 -3.6,-10.5 0,-10.5 C3.6,-10.5 6.6,-8.2 6.6,-4.4 C6.6,-1.6 5.2,-0.4 4.6,0.4 C5.6,1.5 5.8,2.7 5.8,4.0 C5.8,6.6 3.3,8.3 -0.3,8.3 C-3.7,8.3 -6.1,6.6 -6.1,4.0 C-6.1,2.7 -5.4,1.4 -4.5,0.4 C-5.4,-0.6 -6.4,-1.8 -6.4,-4.2 Z" fill="url(#blob)"/></g>
<g transform="translate(156.20,212.70) scale(1.0)"><path d="M-6.4,-4.2 C-6.4,-8.2 -3.6,-10.5 0,-10.5 C3.6,-10.5 6.6,-8.2 6.6,-4.4 C6.6,-1.6 5.2,-0.4 4.6,0.4 C5.6,1.5 5.8,2.7 5.8,4.0 C5.8,6.6 3.3,8.3 -0.3,8.3 C-3.7,8.3 -6.1,6.6 -6.1,4.0 C-6.1,2.7 -5.4,1.4 -4.5,0.4 C-5.4,-0.6 -6.4,-1.8 -6.4,-4.2 Z" fill="url(#blob)"/></g>
<g transform="translate(61.00,212.70) scale(1.0)"><path d="M-6.4,-4.2 C-6.4,-8.2 -3.6,-10.5 0,-10.5 C3.6,-10.5 6.6,-8.2 6.6,-4.4 C6.6,-1.6 5.2,-0.4 4.6,0.4 C5.6,1.5 5.8,2.7 5.8,4.0 C5.8,6.6 3.3,8.3 -0.3,8.3 C-3.7,8.3 -6.1,6.6 -6.1,4.0 C-6.1,2.7 -5.4,1.4 -4.5,0.4 C-5.4,-0.6 -6.4,-1.8 -6.4,-4.2 Z" fill="url(#blob)"/></g>
<g transform="translate(32.70,286.30) scale(1.0)"><path d="M-6.4,-4.2 C-6.4,-8.2 -3.6,-10.5 0,-10.5 C3.6,-10.5 6.6,-8.2 6.6,-4.4 C6.6,-1.6 5.2,-0.4 4.6,0.4 C5.6,1.5 5.8,2.7 5.8,4.0 C5.8,6.6 3.3,8.3 -0.3,8.3 C-3.7,8.3 -6.1,6.6 -6.1,4.0 C-6.1,2.7 -5.4,1.4 -4.5,0.4 C-5.4,-0.6 -6.4,-1.8 -6.4,-4.2 Z" fill="url(#blob)"/></g>
<g transform="translate(75.00,263.20) scale(1.0)"><path d="M-6.4,-4.2 C-6.4,-8.2 -3.6,-10.5 0,-10.5 C3.6,-10.5 6.6,-8.2 6.6,-4.4 C6.6,-1.6 5.2,-0.4 4.6,0.4 C5.6,1.5 5.8,2.7 5.8,4.0 C5.8,6.6 3.3,8.3 -0.3,8.3 C-3.7,8.3 -6.1,6.6 -6.1,4.0 C-6.1,2.7 -5.4,1.4 -4.5,0.4 C-5.4,-0.6 -6.4,-1.8 -6.4,-4.2 Z" fill="url(#blob)"/></g>
<g transform="translate(141.10,263.20) scale(1.0)"><path d="M-6.4,-4.2 C-6.4,-8.2 -3.6,-10.5 0,-10.5 C3.6,-10.5 6.6,-8.2 6.6,-4.4 C6.6,-1.6 5.2,-0.4 4.6,0.4 C5.6,1.5 5.8,2.7 5.8,4.0 C5.8,6.6 3.3,8.3 -0.3,8.3 C-3.7,8.3 -6.1,6.6 -6.1,4.0 C-6.1,2.7 -5.4,1.4 -4.5,0.4 C-5.4,-0.6 -6.4,-1.8 -6.4,-4.2 Z" fill="url(#blob)"/></g>
<g transform="translate(183.90,283.00) scale(1.0)"><path d="M-6.4,-4.2 C-6.4,-8.2 -3.6,-10.5 0,-10.5 C3.6,-10.5 6.6,-8.2 6.6,-4.4 C6.6,-1.6 5.2,-0.4 4.6,0.4 C5.6,1.5 5.8,2.7 5.8,4.0 C5.8,6.6 3.3,8.3 -0.3,8.3 C-3.7,8.3 -6.1,6.6 -6.1,4.0 C-6.1,2.7 -5.4,1.4 -4.5,0.4 C-5.4,-0.6 -6.4,-1.8 -6.4,-4.2 Z" fill="url(#blob)"/></g>
<g transform="translate(152.70,313.90) scale(1.0)"><path d="M-6.4,-4.2 C-6.4,-8.2 -3.6,-10.5 0,-10.5 C3.6,-10.5 6.6,-8.2 6.6,-4.4 C6.6,-1.6 5.2,-0.4 4.6,0.4 C5.6,1.5 5.8,2.7 5.8,4.0 C5.8,6.6 3.3,8.3 -0.3,8.3 C-3.7,8.3 -6.1,6.6 -6.1,4.0 C-6.1,2.7 -5.4,1.4 -4.5,0.4 C-5.4,-0.6 -6.4,-1.8 -6.4,-4.2 Z" fill="url(#blob)"/></g>
<g transform="translate(65.10,313.90) scale(1.0)"><path d="M-6.4,-4.2 C-6.4,-8.2 -3.6,-10.5 0,-10.5 C3.6,-10.5 6.6,-8.2 6.6,-4.4 C6.6,-1.6 5.2,-0.4 4.6,0.4 C5.6,1.5 5.8,2.7 5.8,4.0 C5.8,6.6 3.3,8.3 -0.3,8.3 C-3.7,8.3 -6.1,6.6 -6.1,4.0 C-6.1,2.7 -5.4,1.4 -4.5,0.4 C-5.4,-0.6 -6.4,-1.8 -6.4,-4.2 Z" fill="url(#blob)"/></g>
<line x1="28.80" y1="199.10" x2="72.90" y2="186.60" stroke="#111" stroke-width="0.95" />
<line x1="32.70" y1="286.30" x2="75.00" y2="263.20" stroke="#111" stroke-width="0.95" />
<line x1="144.00" y1="186.20" x2="188.70" y2="196.10" stroke="#111" stroke-width="0.95" />
<line x1="141.10" y1="263.20" x2="183.90" y2="283.00" stroke="#111" stroke-width="0.95" />
<line x1="188.70" y1="196.10" x2="156.20" y2="212.70" stroke="#111" stroke-width="0.95" />
<line x1="183.90" y1="283.00" x2="152.70" y2="313.90" stroke="#111" stroke-width="0.95" />
<line x1="61.00" y1="212.70" x2="28.80" y2="199.10" stroke="#111" stroke-width="0.95" />
<line x1="65.10" y1="313.90" x2="32.70" y2="286.30" stroke="#111" stroke-width="0.95" />
<circle cx="108.6" cy="245.4" r="1.9" fill="#000"/>
<circle cx="186.8" cy="238.2" r="1.8" fill="#000"/>
<text x="105.80" y="258.70" font-size="11.5" text-anchor="start" style="font-family:'Liberation Serif',serif;font-weight:normal;font-style:normal" fill="#222" textLength="6.40" lengthAdjust="spacingAndGlyphs">&#915;</text>
<text x="192.20" y="181.60" font-size="11.8" text-anchor="start" style="font-family:'Liberation Serif',serif;font-weight:normal;font-style:normal" fill="#222" textLength="7.90" lengthAdjust="spacingAndGlyphs">H</text>
<text x="193.20" y="242.80" font-size="11.8" text-anchor="start" style="font-family:'Liberation Serif',serif;font-weight:normal;font-style:normal" fill="#222" textLength="7.20" lengthAdjust="spacingAndGlyphs">K</text>
<text x="14.80" y="306.00" font-size="11.8" text-anchor="start" style="font-family:'Liberation Serif',serif;font-weight:normal;font-style:normal" fill="#222" textLength="9.90" lengthAdjust="spacingAndGlyphs">H'</text>
<text x="238.80" y="176.60" font-size="14" text-anchor="start" style="font-family:'Liberation Sans',sans-serif;font-weight:bold;font-style:normal" fill="#000">d</text>
<clipPath id="dclip"><rect x="283.3" y="181.2" width="129.2" height="129.10000000000002"/></clipPath>
<g clip-path="url(#dclip)">
<line x1="281.82" y1="308.78" x2="282.54" y2="306.50" stroke="#761b36" stroke-width="1.05"/><path d="M283.27,304.21 L283.97,306.95 L281.11,306.04 Z" fill="#761b36"/>
<line x1="281.52" y1="280.36" x2="282.58" y2="278.21" stroke="#761b36" stroke-width="1.05"/><path d="M283.64,276.05 L283.93,278.87 L281.23,277.55 Z" fill="#761b36"/>
<line x1="284.60" y1="291.07" x2="285.46" y2="288.83" stroke="#761b36" stroke-width="1.05"/><path d="M286.33,286.59 L286.86,289.37 L284.06,288.29 Z" fill="#761b36"/>
<line x1="287.63" y1="301.74" x2="288.35" y2="299.45" stroke="#761b36" stroke-width="1.05"/><path d="M289.07,297.16 L289.78,299.90 L286.92,299.00 Z" fill="#761b36"/>
<line x1="290.62" y1="312.39" x2="291.23" y2="310.07" stroke="#761b36" stroke-width="1.05"/><path d="M291.84,307.75 L292.68,310.45 L289.78,309.69 Z" fill="#761b36"/>
<line x1="280.46" y1="250.97" x2="282.62" y2="249.92" stroke="#f5e1d4" stroke-width="1.05"/><path d="M284.78,248.87 L283.27,251.27 L281.97,248.57 Z" fill="#f5e1d4"/>
<line x1="283.99" y1="262.40" x2="285.50" y2="260.54" stroke="#db8974" stroke-width="1.05"/><path d="M287.02,258.68 L286.67,261.49 L284.34,259.59 Z" fill="#db8974"/>
<line x1="287.26" y1="273.28" x2="288.38" y2="271.16" stroke="#a43746" stroke-width="1.05"/><path d="M289.51,269.04 L289.71,271.86 L287.06,270.46 Z" fill="#a43746"/>
<line x1="290.38" y1="284.01" x2="291.27" y2="281.78" stroke="#761b36" stroke-width="1.05"/><path d="M292.15,279.55 L292.66,282.33 L289.87,281.23 Z" fill="#761b36"/>
<line x1="293.43" y1="294.69" x2="294.15" y2="292.40" stroke="#761b36" stroke-width="1.05"/><path d="M294.87,290.11 L295.58,292.85 L292.72,291.95 Z" fill="#761b36"/>
<line x1="296.43" y1="305.35" x2="297.03" y2="303.02" stroke="#761b36" stroke-width="1.05"/><path d="M297.63,300.70 L298.48,303.39 L295.58,302.65 Z" fill="#761b36"/>
<line x1="281.42" y1="219.58" x2="282.66" y2="221.63" stroke="#527eb3" stroke-width="1.05"/><path d="M283.90,223.69 L281.37,222.41 L283.94,220.86 Z" fill="#527eb3"/>
<line x1="283.97" y1="230.44" x2="285.54" y2="232.25" stroke="#88b7d4" stroke-width="1.05"/><path d="M287.11,234.07 L284.41,233.24 L286.67,231.27 Z" fill="#88b7d4"/>
<line x1="286.20" y1="241.96" x2="288.42" y2="242.87" stroke="#e0ecf2" stroke-width="1.05"/><path d="M290.64,243.78 L287.85,244.26 L288.99,241.49 Z" fill="#e0ecf2"/>
<line x1="289.49" y1="255.06" x2="291.31" y2="253.49" stroke="#eec6b0" stroke-width="1.05"/><path d="M293.12,251.93 L292.29,254.63 L290.33,252.36 Z" fill="#eec6b0"/>
<line x1="292.95" y1="266.17" x2="294.19" y2="264.11" stroke="#cb6663" stroke-width="1.05"/><path d="M295.42,262.06 L295.47,264.89 L292.90,263.34 Z" fill="#cb6663"/>
<line x1="296.15" y1="276.95" x2="297.07" y2="274.73" stroke="#82243c" stroke-width="1.05"/><path d="M297.99,272.52 L298.46,275.31 L295.68,274.16 Z" fill="#82243c"/>
<line x1="299.24" y1="287.64" x2="299.95" y2="285.35" stroke="#761b36" stroke-width="1.05"/><path d="M300.67,283.06 L301.38,285.80 L298.52,284.91 Z" fill="#761b36"/>
<line x1="302.25" y1="298.30" x2="302.84" y2="295.97" stroke="#761b36" stroke-width="1.05"/><path d="M303.42,293.65 L304.29,296.34 L301.38,295.61 Z" fill="#761b36"/>
<line x1="305.24" y1="308.95" x2="305.72" y2="306.59" stroke="#761b36" stroke-width="1.05"/><path d="M306.20,304.24 L307.19,306.89 L304.25,306.29 Z" fill="#761b36"/>
<line x1="281.90" y1="191.08" x2="282.70" y2="193.35" stroke="#30518a" stroke-width="1.05"/><path d="M283.49,195.61 L281.28,193.84 L284.11,192.85 Z" fill="#30518a"/>
<line x1="284.70" y1="201.73" x2="285.58" y2="203.97" stroke="#30518a" stroke-width="1.05"/><path d="M286.46,206.20 L284.18,204.51 L286.98,203.42 Z" fill="#30518a"/>
<line x1="287.46" y1="212.41" x2="288.46" y2="214.59" stroke="#30518a" stroke-width="1.05"/><path d="M289.46,216.77 L287.10,215.21 L289.82,213.96 Z" fill="#30518a"/>
<line x1="290.13" y1="223.14" x2="291.34" y2="225.21" stroke="#5f8fbf" stroke-width="1.05"/><path d="M292.56,227.28 L290.05,225.96 L292.64,224.45 Z" fill="#5f8fbf"/>
<line x1="292.60" y1="234.06" x2="294.23" y2="235.83" stroke="#a5cadf" stroke-width="1.05"/><path d="M295.86,237.59 L293.13,236.85 L295.33,234.81 Z" fill="#a5cadf"/>
<line x1="294.75" y1="246.87" x2="297.11" y2="246.45" stroke="#f7f3f0" stroke-width="1.05"/><path d="M299.47,246.03 L297.37,247.92 L296.85,244.97 Z" fill="#f7f3f0"/>
<line x1="298.55" y1="258.98" x2="299.99" y2="257.07" stroke="#e6a78c" stroke-width="1.05"/><path d="M301.43,255.15 L301.19,257.97 L298.79,256.16 Z" fill="#e6a78c"/>
<line x1="301.90" y1="269.88" x2="302.87" y2="267.69" stroke="#bd4b51" stroke-width="1.05"/><path d="M303.85,265.49 L304.24,268.30 L301.50,267.08 Z" fill="#bd4b51"/>
<line x1="305.03" y1="280.60" x2="305.76" y2="278.31" stroke="#761b36" stroke-width="1.05"/><path d="M306.48,276.02 L307.19,278.76 L304.33,277.86 Z" fill="#761b36"/>
<line x1="308.08" y1="291.26" x2="308.64" y2="288.93" stroke="#761b36" stroke-width="1.05"/><path d="M309.20,286.59 L310.10,289.28 L307.18,288.57 Z" fill="#761b36"/>
<line x1="311.07" y1="301.90" x2="311.52" y2="299.55" stroke="#761b36" stroke-width="1.05"/><path d="M311.97,297.19 L312.99,299.83 L310.05,299.26 Z" fill="#761b36"/>
<line x1="314.03" y1="312.54" x2="314.40" y2="310.17" stroke="#761b36" stroke-width="1.05"/><path d="M314.77,307.80 L315.89,310.40 L312.92,309.94 Z" fill="#761b36"/>
<line x1="287.83" y1="184.00" x2="288.50" y2="186.30" stroke="#30518a" stroke-width="1.05"/><path d="M289.17,188.60 L287.06,186.72 L289.94,185.88 Z" fill="#30518a"/>
<line x1="290.65" y1="194.63" x2="291.38" y2="196.92" stroke="#30518a" stroke-width="1.05"/><path d="M292.11,199.21 L289.95,197.38 L292.81,196.46 Z" fill="#30518a"/>
<line x1="293.45" y1="205.28" x2="294.26" y2="207.54" stroke="#30518a" stroke-width="1.05"/><path d="M295.08,209.80 L292.85,208.05 L295.68,207.03 Z" fill="#30518a"/>
<line x1="296.20" y1="215.95" x2="297.15" y2="218.16" stroke="#4269a1" stroke-width="1.05"/><path d="M298.09,220.37 L295.77,218.75 L298.53,217.57 Z" fill="#4269a1"/>
<line x1="298.85" y1="226.69" x2="300.03" y2="228.78" stroke="#73a3ca" stroke-width="1.05"/><path d="M301.21,230.87 L298.72,229.52 L301.34,228.04 Z" fill="#73a3ca"/>
<line x1="301.17" y1="237.75" x2="302.91" y2="239.40" stroke="#c2dbe7" stroke-width="1.05"/><path d="M304.66,241.05 L301.88,240.49 L303.94,238.31 Z" fill="#c2dbe7"/>
<line x1="303.89" y1="251.48" x2="305.80" y2="250.02" stroke="#f5e0d3" stroke-width="1.05"/><path d="M307.70,248.56 L306.71,251.21 L304.88,248.83 Z" fill="#f5e0d3"/>
<line x1="307.59" y1="262.78" x2="308.68" y2="260.64" stroke="#da8873" stroke-width="1.05"/><path d="M309.77,258.50 L310.01,261.32 L307.34,259.96 Z" fill="#da8873"/>
<line x1="310.82" y1="273.54" x2="311.56" y2="271.26" stroke="#a33646" stroke-width="1.05"/><path d="M312.30,268.98 L312.99,271.72 L310.13,270.80 Z" fill="#a33646"/>
<line x1="313.90" y1="284.22" x2="314.44" y2="281.88" stroke="#761b36" stroke-width="1.05"/><path d="M314.99,279.54 L315.90,282.22 L312.98,281.54 Z" fill="#761b36"/>
<line x1="316.90" y1="294.86" x2="317.32" y2="292.50" stroke="#761b36" stroke-width="1.05"/><path d="M317.75,290.14 L318.80,292.76 L315.85,292.24 Z" fill="#761b36"/>
<line x1="319.88" y1="305.50" x2="320.21" y2="303.12" stroke="#761b36" stroke-width="1.05"/><path d="M320.54,300.74 L321.69,303.33 L318.72,302.91 Z" fill="#761b36"/>
<line x1="293.74" y1="176.92" x2="294.30" y2="179.25" stroke="#30518a" stroke-width="1.05"/><path d="M294.87,181.58 L292.85,179.61 L295.76,178.90 Z" fill="#30518a"/>
<line x1="296.58" y1="187.55" x2="297.19" y2="189.87" stroke="#30518a" stroke-width="1.05"/><path d="M297.79,192.20 L295.73,190.25 L298.64,189.49 Z" fill="#30518a"/>
<line x1="299.41" y1="198.18" x2="300.07" y2="200.49" stroke="#30518a" stroke-width="1.05"/><path d="M300.73,202.80 L298.63,200.90 L301.51,200.08 Z" fill="#30518a"/>
<line x1="302.21" y1="208.83" x2="302.95" y2="211.11" stroke="#30518a" stroke-width="1.05"/><path d="M303.69,213.40 L301.52,211.57 L304.38,210.65 Z" fill="#30518a"/>
<line x1="304.96" y1="219.50" x2="305.83" y2="221.73" stroke="#527fb3" stroke-width="1.05"/><path d="M306.71,223.97 L304.44,222.28 L307.23,221.19 Z" fill="#527fb3"/>
<line x1="307.56" y1="230.25" x2="308.72" y2="232.35" stroke="#89b8d5" stroke-width="1.05"/><path d="M309.87,234.46 L307.40,233.07 L310.03,231.63 Z" fill="#89b8d5"/>
<line x1="309.59" y1="241.66" x2="311.60" y2="242.97" stroke="#e1edf2" stroke-width="1.05"/><path d="M313.61,244.29 L310.78,244.23 L312.42,241.72 Z" fill="#e1edf2"/>
<line x1="313.13" y1="255.58" x2="314.48" y2="253.59" stroke="#eec5af" stroke-width="1.05"/><path d="M315.83,251.61 L315.72,254.44 L313.24,252.75 Z" fill="#eec5af"/>
<line x1="316.59" y1="266.48" x2="317.36" y2="264.21" stroke="#ca6562" stroke-width="1.05"/><path d="M318.14,261.94 L318.78,264.70 L315.94,263.73 Z" fill="#ca6562"/>
<line x1="319.72" y1="277.17" x2="320.25" y2="274.83" stroke="#81233c" stroke-width="1.05"/><path d="M320.77,272.49 L321.71,275.16 L318.78,274.50 Z" fill="#81233c"/>
<line x1="322.75" y1="287.82" x2="323.13" y2="285.45" stroke="#761b36" stroke-width="1.05"/><path d="M323.51,283.08 L324.61,285.69 L321.65,285.21 Z" fill="#761b36"/>
<line x1="325.72" y1="298.46" x2="326.01" y2="296.07" stroke="#761b36" stroke-width="1.05"/><path d="M326.30,293.69 L327.50,296.25 L324.52,295.89 Z" fill="#761b36"/>
<line x1="328.67" y1="309.08" x2="328.89" y2="306.69" stroke="#761b36" stroke-width="1.05"/><path d="M329.11,304.30 L330.39,306.83 L327.40,306.56 Z" fill="#761b36"/>
<line x1="302.49" y1="180.48" x2="302.99" y2="182.83" stroke="#30518a" stroke-width="1.05"/><path d="M303.49,185.17 L301.52,183.14 L304.46,182.51 Z" fill="#30518a"/>
<line x1="305.34" y1="191.11" x2="305.87" y2="193.45" stroke="#30518a" stroke-width="1.05"/><path d="M306.40,195.79 L304.41,193.78 L307.34,193.12 Z" fill="#30518a"/>
<line x1="308.18" y1="201.74" x2="308.75" y2="204.07" stroke="#30518a" stroke-width="1.05"/><path d="M309.33,206.40 L307.30,204.43 L310.21,203.71 Z" fill="#30518a"/>
<line x1="310.99" y1="212.38" x2="311.64" y2="214.69" stroke="#30518a" stroke-width="1.05"/><path d="M312.29,217.00 L310.19,215.09 L313.08,214.28 Z" fill="#30518a"/>
<line x1="313.73" y1="223.04" x2="314.52" y2="225.31" stroke="#5f8fbf" stroke-width="1.05"/><path d="M315.31,227.57 L313.10,225.80 L315.94,224.81 Z" fill="#5f8fbf"/>
<line x1="316.28" y1="233.80" x2="317.40" y2="235.93" stroke="#a6cadf" stroke-width="1.05"/><path d="M318.52,238.05 L316.08,236.63 L318.73,235.22 Z" fill="#a6cadf"/>
<line x1="318.03" y1="247.36" x2="320.28" y2="246.55" stroke="#f7f2ef" stroke-width="1.05"/><path d="M322.54,245.73 L320.79,247.96 L319.78,245.13 Z" fill="#f7f2ef"/>
<line x1="322.30" y1="259.40" x2="323.17" y2="257.17" stroke="#e5a68c" stroke-width="1.05"/><path d="M324.03,254.93 L324.57,257.71 L321.77,256.63 Z" fill="#e5a68c"/>
<line x1="325.54" y1="270.13" x2="326.05" y2="267.79" stroke="#bd4a51" stroke-width="1.05"/><path d="M326.55,265.44 L327.52,268.10 L324.58,267.47 Z" fill="#bd4a51"/>
<line x1="328.59" y1="280.78" x2="328.93" y2="278.41" stroke="#761b36" stroke-width="1.05"/><path d="M329.27,276.03 L330.42,278.62 L327.45,278.20 Z" fill="#761b36"/>
<line x1="331.58" y1="291.41" x2="331.81" y2="289.03" stroke="#761b36" stroke-width="1.05"/><path d="M332.05,286.64 L333.31,289.17 L330.32,288.88 Z" fill="#761b36"/>
<line x1="334.53" y1="302.04" x2="334.70" y2="299.65" stroke="#761b36" stroke-width="1.05"/><path d="M334.86,297.25 L336.19,299.75 L333.20,299.54 Z" fill="#761b36"/>
<line x1="337.46" y1="312.66" x2="337.58" y2="310.27" stroke="#761b36" stroke-width="1.05"/><path d="M337.69,307.87 L339.08,310.34 L336.08,310.19 Z" fill="#761b36"/>
<line x1="311.25" y1="184.04" x2="311.68" y2="186.40" stroke="#30518a" stroke-width="1.05"/><path d="M312.10,188.76 L310.20,186.66 L313.15,186.14 Z" fill="#30518a"/>
<line x1="314.11" y1="194.66" x2="314.56" y2="197.02" stroke="#30518a" stroke-width="1.05"/><path d="M315.00,199.38 L313.08,197.30 L316.03,196.74 Z" fill="#30518a"/>
<line x1="316.96" y1="205.29" x2="317.44" y2="207.64" stroke="#30518a" stroke-width="1.05"/><path d="M317.92,209.99 L315.97,207.94 L318.91,207.34 Z" fill="#30518a"/>
<line x1="319.78" y1="215.92" x2="320.32" y2="218.26" stroke="#436aa2" stroke-width="1.05"/><path d="M320.87,220.60 L318.86,218.60 L321.78,217.92 Z" fill="#436aa2"/>
<line x1="322.53" y1="226.58" x2="323.21" y2="228.88" stroke="#73a4ca" stroke-width="1.05"/><path d="M323.88,231.18 L321.77,229.30 L324.64,228.46 Z" fill="#73a4ca"/>
<line x1="324.98" y1="237.37" x2="326.09" y2="239.50" stroke="#c3dce8" stroke-width="1.05"/><path d="M327.19,241.63 L324.76,240.19 L327.42,238.81 Z" fill="#c3dce8"/>
<line x1="327.77" y1="252.20" x2="328.97" y2="250.12" stroke="#f5dfd2" stroke-width="1.05"/><path d="M330.17,248.04 L330.27,250.87 L327.67,249.37 Z" fill="#f5dfd2"/>
<line x1="331.37" y1="263.09" x2="331.85" y2="260.74" stroke="#da8773" stroke-width="1.05"/><path d="M332.34,258.39 L333.32,261.04 L330.38,260.43 Z" fill="#da8773"/>
<line x1="334.46" y1="273.74" x2="334.74" y2="271.36" stroke="#a23645" stroke-width="1.05"/><path d="M335.01,268.98 L336.23,271.53 L333.25,271.19 Z" fill="#a23645"/>
<line x1="337.45" y1="284.37" x2="337.62" y2="281.98" stroke="#761b36" stroke-width="1.05"/><path d="M337.79,279.59 L339.11,282.09 L336.12,281.87 Z" fill="#761b36"/>
<line x1="340.40" y1="295.00" x2="340.50" y2="292.60" stroke="#761b36" stroke-width="1.05"/><path d="M340.60,290.20 L342.00,292.66 L339.00,292.53 Z" fill="#761b36"/>
<line x1="343.33" y1="305.62" x2="343.38" y2="303.22" stroke="#761b36" stroke-width="1.05"/><path d="M343.44,300.82 L344.88,303.25 L341.88,303.18 Z" fill="#761b36"/>
<line x1="317.15" y1="176.97" x2="317.48" y2="179.35" stroke="#30518a" stroke-width="1.05"/><path d="M317.81,181.73 L315.99,179.56 L318.96,179.15 Z" fill="#30518a"/>
<line x1="320.02" y1="187.60" x2="320.36" y2="189.97" stroke="#30518a" stroke-width="1.05"/><path d="M320.70,192.35 L318.88,190.18 L321.85,189.76 Z" fill="#30518a"/>
<line x1="322.89" y1="198.22" x2="323.24" y2="200.59" stroke="#30518a" stroke-width="1.05"/><path d="M323.59,202.97 L321.76,200.81 L324.73,200.37 Z" fill="#30518a"/>
<line x1="325.76" y1="208.84" x2="326.13" y2="211.21" stroke="#30518a" stroke-width="1.05"/><path d="M326.50,213.58 L324.64,211.44 L327.61,210.98 Z" fill="#30518a"/>
<line x1="328.59" y1="219.47" x2="329.01" y2="221.83" stroke="#537fb3" stroke-width="1.05"/><path d="M329.42,224.20 L327.53,222.09 L330.49,221.57 Z" fill="#537fb3"/>
<line x1="331.37" y1="230.11" x2="331.89" y2="232.45" stroke="#89b8d5" stroke-width="1.05"/><path d="M332.42,234.79 L330.43,232.78 L333.36,232.12 Z" fill="#89b8d5"/>
<line x1="333.59" y1="240.98" x2="334.77" y2="243.07" stroke="#e1edf2" stroke-width="1.05"/><path d="M335.96,245.16 L333.47,243.81 L336.08,242.33 Z" fill="#e1edf2"/>
<line x1="337.17" y1="256.04" x2="337.66" y2="253.69" stroke="#eec4ae" stroke-width="1.05"/><path d="M338.14,251.34 L339.13,253.99 L336.19,253.39 Z" fill="#eec4ae"/>
<line x1="340.34" y1="266.70" x2="340.54" y2="264.31" stroke="#ca6462" stroke-width="1.05"/><path d="M340.73,261.92 L342.03,264.43 L339.04,264.19 Z" fill="#ca6462"/>
<line x1="343.33" y1="277.33" x2="343.42" y2="274.93" stroke="#80233b" stroke-width="1.05"/><path d="M343.51,272.53 L344.92,274.99 L341.92,274.88 Z" fill="#80233b"/>
<line x1="346.28" y1="287.95" x2="346.30" y2="285.55" stroke="#761b36" stroke-width="1.05"/><path d="M346.33,283.15 L347.80,285.57 L344.80,285.54 Z" fill="#761b36"/>
<line x1="349.20" y1="298.57" x2="349.19" y2="296.17" stroke="#761b36" stroke-width="1.05"/><path d="M349.17,293.77 L350.69,296.16 L347.69,296.18 Z" fill="#761b36"/>
<line x1="352.12" y1="309.19" x2="352.07" y2="306.79" stroke="#761b36" stroke-width="1.05"/><path d="M352.02,304.39 L353.57,306.76 L350.57,306.82 Z" fill="#761b36"/>
<line x1="325.92" y1="180.54" x2="326.17" y2="182.93" stroke="#30518a" stroke-width="1.05"/><path d="M326.41,185.31 L324.67,183.08 L327.66,182.77 Z" fill="#30518a"/>
<line x1="328.80" y1="191.16" x2="329.05" y2="193.55" stroke="#30518a" stroke-width="1.05"/><path d="M329.29,195.93 L327.56,193.70 L330.54,193.39 Z" fill="#30518a"/>
<line x1="331.69" y1="201.78" x2="331.93" y2="204.17" stroke="#30518a" stroke-width="1.05"/><path d="M332.17,206.55 L330.44,204.32 L333.42,204.01 Z" fill="#30518a"/>
<line x1="334.57" y1="212.40" x2="334.81" y2="214.79" stroke="#30518a" stroke-width="1.05"/><path d="M335.06,217.17 L333.32,214.94 L336.30,214.63 Z" fill="#30518a"/>
<line x1="337.44" y1="223.02" x2="337.69" y2="225.41" stroke="#6090bf" stroke-width="1.05"/><path d="M337.95,227.79 L336.20,225.56 L339.19,225.25 Z" fill="#6090bf"/>
<line x1="340.27" y1="233.64" x2="340.58" y2="236.03" stroke="#a6cbdf" stroke-width="1.05"/><path d="M340.88,238.41 L339.09,236.22 L342.07,235.83 Z" fill="#a6cbdf"/>
<line x1="342.55" y1="248.86" x2="343.46" y2="246.65" stroke="#f7f2ee" stroke-width="1.05"/><path d="M344.37,244.43 L344.85,247.22 L342.07,246.07 Z" fill="#f7f2ee"/>
<line x1="346.28" y1="259.66" x2="346.34" y2="257.26" stroke="#e5a58b" stroke-width="1.05"/><path d="M346.40,254.87 L347.84,257.30 L344.84,257.23 Z" fill="#e5a58b"/>
<line x1="349.26" y1="270.28" x2="349.23" y2="267.88" stroke="#bd4951" stroke-width="1.05"/><path d="M349.19,265.49 L350.72,267.87 L347.73,267.90 Z" fill="#bd4951"/>
<line x1="352.18" y1="280.90" x2="352.11" y2="278.50" stroke="#761b36" stroke-width="1.05"/><path d="M352.03,276.11 L353.61,278.46 L350.61,278.55 Z" fill="#761b36"/>
<line x1="355.09" y1="291.52" x2="354.99" y2="289.12" stroke="#761b36" stroke-width="1.05"/><path d="M354.89,286.73 L356.49,289.06 L353.49,289.19 Z" fill="#761b36"/>
<line x1="358.00" y1="302.14" x2="357.87" y2="299.75" stroke="#761b36" stroke-width="1.05"/><path d="M357.75,297.35 L359.37,299.67 L356.37,299.82 Z" fill="#761b36"/>
<line x1="360.90" y1="312.76" x2="360.75" y2="310.37" stroke="#761b36" stroke-width="1.05"/><path d="M360.61,307.97 L362.25,310.28 L359.26,310.45 Z" fill="#761b36"/>
<line x1="334.70" y1="184.10" x2="334.85" y2="186.50" stroke="#30518a" stroke-width="1.05"/><path d="M335.01,188.89 L333.35,186.59 L336.35,186.40 Z" fill="#30518a"/>
<line x1="337.60" y1="194.72" x2="337.73" y2="197.12" stroke="#30518a" stroke-width="1.05"/><path d="M337.87,199.51 L336.24,197.20 L339.23,197.03 Z" fill="#30518a"/>
<line x1="340.50" y1="205.34" x2="340.62" y2="207.74" stroke="#30518a" stroke-width="1.05"/><path d="M340.73,210.14 L339.12,207.81 L342.11,207.66 Z" fill="#30518a"/>
<line x1="343.41" y1="215.96" x2="343.50" y2="218.36" stroke="#436ba3" stroke-width="1.05"/><path d="M343.59,220.76 L342.00,218.41 L345.00,218.30 Z" fill="#436ba3"/>
<line x1="346.34" y1="226.58" x2="346.38" y2="228.98" stroke="#74a4ca" stroke-width="1.05"/><path d="M346.42,231.38 L344.88,229.01 L347.88,228.95 Z" fill="#74a4ca"/>
<line x1="349.34" y1="237.20" x2="349.26" y2="239.60" stroke="#c4dce8" stroke-width="1.05"/><path d="M349.18,242.00 L347.76,239.55 L350.76,239.65 Z" fill="#c4dce8"/>
<line x1="352.45" y1="252.60" x2="352.15" y2="250.22" stroke="#f5dfd1" stroke-width="1.05"/><path d="M351.84,247.84 L353.63,250.03 L350.66,250.41 Z" fill="#f5dfd1"/>
<line x1="355.25" y1="263.23" x2="355.03" y2="260.84" stroke="#d98672" stroke-width="1.05"/><path d="M354.81,258.45 L356.52,260.70 L353.53,260.97 Z" fill="#d98672"/>
<line x1="358.12" y1="273.85" x2="357.91" y2="271.46" stroke="#a13545" stroke-width="1.05"/><path d="M357.70,269.07 L359.41,271.33 L356.42,271.59 Z" fill="#a13545"/>
<line x1="361.01" y1="284.47" x2="360.79" y2="282.08" stroke="#761b36" stroke-width="1.05"/><path d="M360.58,279.69 L362.29,281.94 L359.30,282.21 Z" fill="#761b36"/>
<line x1="363.89" y1="295.09" x2="363.68" y2="292.70" stroke="#761b36" stroke-width="1.05"/><path d="M363.46,290.31 L365.17,292.56 L362.18,292.83 Z" fill="#761b36"/>
<line x1="366.78" y1="305.71" x2="366.56" y2="303.32" stroke="#761b36" stroke-width="1.05"/><path d="M366.33,300.93 L368.05,303.18 L365.07,303.46 Z" fill="#761b36"/>
<line x1="340.58" y1="177.05" x2="340.65" y2="179.45" stroke="#30518a" stroke-width="1.05"/><path d="M340.73,181.85 L339.16,179.50 L342.15,179.40 Z" fill="#30518a"/>
<line x1="343.48" y1="187.67" x2="343.54" y2="190.07" stroke="#30518a" stroke-width="1.05"/><path d="M343.59,192.47 L342.04,190.10 L345.04,190.04 Z" fill="#30518a"/>
<line x1="346.40" y1="198.29" x2="346.42" y2="200.69" stroke="#30518a" stroke-width="1.05"/><path d="M346.44,203.09 L344.92,200.70 L347.92,200.68 Z" fill="#30518a"/>
<line x1="349.33" y1="208.91" x2="349.30" y2="211.31" stroke="#30518a" stroke-width="1.05"/><path d="M349.28,213.71 L347.80,211.30 L350.80,211.33 Z" fill="#30518a"/>
<line x1="352.28" y1="219.53" x2="352.18" y2="221.93" stroke="#5380b4" stroke-width="1.05"/><path d="M352.09,224.33 L350.69,221.87 L353.68,221.99 Z" fill="#5380b4"/>
<line x1="355.31" y1="230.16" x2="355.07" y2="232.55" stroke="#8ab9d5" stroke-width="1.05"/><path d="M354.83,234.94 L353.57,232.40 L356.56,232.70 Z" fill="#8ab9d5"/>
<line x1="358.92" y1="240.98" x2="357.95" y2="243.17" stroke="#e2eef3" stroke-width="1.05"/><path d="M356.97,245.36 L356.58,242.56 L359.32,243.78 Z" fill="#e2eef3"/>
<line x1="361.43" y1="256.11" x2="360.83" y2="253.79" stroke="#eec3ad" stroke-width="1.05"/><path d="M360.23,251.47 L362.28,253.42 L359.38,254.17 Z" fill="#eec3ad"/>
<line x1="364.13" y1="266.78" x2="363.71" y2="264.41" stroke="#c96362" stroke-width="1.05"/><path d="M363.30,262.05 L365.19,264.15 L362.24,264.67 Z" fill="#c96362"/>
<line x1="366.96" y1="277.40" x2="366.60" y2="275.03" stroke="#7f223b" stroke-width="1.05"/><path d="M366.24,272.66 L368.08,274.81 L365.11,275.25 Z" fill="#7f223b"/>
<line x1="369.81" y1="288.03" x2="369.48" y2="285.65" stroke="#761b36" stroke-width="1.05"/><path d="M369.15,283.27 L370.96,285.44 L367.99,285.86 Z" fill="#761b36"/>
<line x1="372.68" y1="298.65" x2="372.36" y2="296.27" stroke="#761b36" stroke-width="1.05"/><path d="M372.04,293.89 L373.85,296.07 L370.88,296.47 Z" fill="#761b36"/>
<line x1="375.56" y1="309.27" x2="375.24" y2="306.89" stroke="#761b36" stroke-width="1.05"/><path d="M374.93,304.51 L376.73,306.69 L373.76,307.09 Z" fill="#761b36"/>
<line x1="349.36" y1="180.62" x2="349.34" y2="183.02" stroke="#30518a" stroke-width="1.05"/><path d="M349.32,185.42 L347.84,183.01 L350.84,183.03 Z" fill="#30518a"/>
<line x1="352.28" y1="191.24" x2="352.22" y2="193.64" stroke="#30518a" stroke-width="1.05"/><path d="M352.17,196.04 L350.72,193.61 L353.72,193.68 Z" fill="#30518a"/>
<line x1="355.21" y1="201.87" x2="355.11" y2="204.26" stroke="#30518a" stroke-width="1.05"/><path d="M355.00,206.66 L353.61,204.20 L356.60,204.33 Z" fill="#30518a"/>
<line x1="358.18" y1="212.49" x2="357.99" y2="214.88" stroke="#30518a" stroke-width="1.05"/><path d="M357.80,217.28 L356.49,214.77 L359.48,215.00 Z" fill="#30518a"/>
<line x1="361.19" y1="223.13" x2="360.87" y2="225.50" stroke="#6090c0" stroke-width="1.05"/><path d="M360.55,227.88 L359.38,225.30 L362.36,225.71 Z" fill="#6090c0"/>
<line x1="364.40" y1="233.81" x2="363.75" y2="236.12" stroke="#a7cbe0" stroke-width="1.05"/><path d="M363.11,238.44 L362.31,235.72 L365.20,236.53 Z" fill="#a7cbe0"/>
<line x1="368.68" y1="248.01" x2="366.64" y2="246.74" stroke="#f7f1ee" stroke-width="1.05"/><path d="M364.59,245.48 L367.42,245.47 L365.85,248.02 Z" fill="#f7f1ee"/>
<line x1="370.28" y1="259.64" x2="369.52" y2="257.36" stroke="#e5a48a" stroke-width="1.05"/><path d="M368.76,255.09 L370.94,256.89 L368.10,257.84 Z" fill="#e5a48a"/>
<line x1="372.96" y1="270.32" x2="372.40" y2="267.98" stroke="#bc4950" stroke-width="1.05"/><path d="M371.84,265.65 L373.86,267.63 L370.94,268.33 Z" fill="#bc4950"/>
<line x1="375.76" y1="280.96" x2="375.28" y2="278.60" stroke="#761b36" stroke-width="1.05"/><path d="M374.80,276.25 L376.75,278.30 L373.81,278.90 Z" fill="#761b36"/>
<line x1="378.60" y1="291.58" x2="378.17" y2="289.22" stroke="#761b36" stroke-width="1.05"/><path d="M377.73,286.86 L379.64,288.95 L376.69,289.50 Z" fill="#761b36"/>
<line x1="381.46" y1="302.21" x2="381.05" y2="299.84" stroke="#761b36" stroke-width="1.05"/><path d="M380.64,297.48 L382.53,299.59 L379.57,300.10 Z" fill="#761b36"/>
<line x1="384.33" y1="312.83" x2="383.93" y2="310.46" stroke="#761b36" stroke-width="1.05"/><path d="M383.54,308.10 L385.41,310.22 L382.45,310.71 Z" fill="#761b36"/>
<line x1="358.15" y1="184.20" x2="358.03" y2="186.60" stroke="#30518a" stroke-width="1.05"/><path d="M357.91,188.99 L356.53,186.52 L359.52,186.67 Z" fill="#30518a"/>
<line x1="361.09" y1="194.82" x2="360.91" y2="197.22" stroke="#30518a" stroke-width="1.05"/><path d="M360.73,199.61 L359.41,197.11 L362.40,197.33 Z" fill="#30518a"/>
<line x1="364.05" y1="205.45" x2="363.79" y2="207.84" stroke="#30518a" stroke-width="1.05"/><path d="M363.54,210.22 L362.30,207.68 L365.28,208.00 Z" fill="#30518a"/>
<line x1="367.05" y1="216.09" x2="366.67" y2="218.46" stroke="#446ca3" stroke-width="1.05"/><path d="M366.30,220.83 L365.19,218.22 L368.16,218.69 Z" fill="#446ca3"/>
<line x1="370.16" y1="226.75" x2="369.56" y2="229.08" stroke="#74a5cb" stroke-width="1.05"/><path d="M368.95,231.40 L368.10,228.70 L371.01,229.45 Z" fill="#74a5cb"/>
<line x1="373.67" y1="237.64" x2="372.44" y2="239.70" stroke="#c5dde8" stroke-width="1.05"/><path d="M371.21,241.76 L371.15,238.93 L373.73,240.47 Z" fill="#c5dde8"/>
<line x1="376.84" y1="252.18" x2="375.32" y2="250.32" stroke="#f5ded0" stroke-width="1.05"/><path d="M373.81,248.45 L376.49,249.37 L374.16,251.26 Z" fill="#f5ded0"/>
<line x1="379.07" y1="263.17" x2="378.20" y2="260.94" stroke="#d98572" stroke-width="1.05"/><path d="M377.34,258.70 L379.60,260.40 L376.81,261.48 Z" fill="#d98572"/>
<line x1="381.76" y1="273.86" x2="381.09" y2="271.56" stroke="#a03545" stroke-width="1.05"/><path d="M380.41,269.25 L382.53,271.14 L379.65,271.98 Z" fill="#a03545"/>
<line x1="384.55" y1="284.51" x2="383.97" y2="282.18" stroke="#761b36" stroke-width="1.05"/><path d="M383.39,279.85 L385.42,281.81 L382.51,282.54 Z" fill="#761b36"/>
<line x1="387.38" y1="295.14" x2="386.85" y2="292.80" stroke="#761b36" stroke-width="1.05"/><path d="M386.32,290.46 L388.31,292.47 L385.39,293.13 Z" fill="#761b36"/>
<line x1="390.23" y1="305.77" x2="389.73" y2="303.42" stroke="#761b36" stroke-width="1.05"/><path d="M389.24,301.07 L391.20,303.11 L388.27,303.73 Z" fill="#761b36"/>
<line x1="364.00" y1="177.16" x2="363.83" y2="179.55" stroke="#30518a" stroke-width="1.05"/><path d="M363.66,181.94 L362.33,179.44 L365.33,179.66 Z" fill="#30518a"/>
<line x1="366.94" y1="187.78" x2="366.71" y2="190.17" stroke="#30518a" stroke-width="1.05"/><path d="M366.48,192.56 L365.22,190.03 L368.21,190.31 Z" fill="#30518a"/>
<line x1="369.90" y1="198.41" x2="369.60" y2="200.79" stroke="#30518a" stroke-width="1.05"/><path d="M369.29,203.17 L368.11,200.60 L371.08,200.98 Z" fill="#30518a"/>
<line x1="372.90" y1="209.05" x2="372.48" y2="211.41" stroke="#30518a" stroke-width="1.05"/><path d="M372.06,213.77 L371.00,211.15 L373.95,211.67 Z" fill="#30518a"/>
<line x1="375.96" y1="219.71" x2="375.36" y2="222.03" stroke="#5380b4" stroke-width="1.05"/><path d="M374.76,224.35 L373.91,221.66 L376.81,222.40 Z" fill="#5380b4"/>
<line x1="379.19" y1="230.45" x2="378.24" y2="232.65" stroke="#8bb9d6" stroke-width="1.05"/><path d="M377.29,234.85 L376.86,232.06 L379.62,233.24 Z" fill="#8bb9d6"/>
<line x1="383.13" y1="241.95" x2="381.12" y2="243.27" stroke="#e3eef3" stroke-width="1.05"/><path d="M379.12,244.59 L380.30,242.02 L381.95,244.52 Z" fill="#e3eef3"/>
<line x1="385.40" y1="255.84" x2="384.01" y2="253.89" stroke="#eec3ac" stroke-width="1.05"/><path d="M382.61,251.94 L385.23,253.02 L382.79,254.76 Z" fill="#eec3ac"/>
<line x1="387.84" y1="266.71" x2="386.89" y2="264.51" stroke="#c96261" stroke-width="1.05"/><path d="M385.94,262.31 L388.27,263.92 L385.51,265.10 Z" fill="#c96261"/>
<line x1="390.54" y1="277.40" x2="389.77" y2="275.13" stroke="#7e213a" stroke-width="1.05"/><path d="M389.01,272.86 L391.19,274.65 L388.35,275.61 Z" fill="#7e213a"/>
<line x1="393.32" y1="288.05" x2="392.66" y2="285.75" stroke="#761b36" stroke-width="1.05"/><path d="M391.99,283.45 L394.10,285.33 L391.21,286.17 Z" fill="#761b36"/>
<line x1="396.15" y1="298.69" x2="395.54" y2="296.37" stroke="#761b36" stroke-width="1.05"/><path d="M394.93,294.05 L396.99,295.99 L394.09,296.75 Z" fill="#761b36"/>
<line x1="398.99" y1="309.32" x2="398.42" y2="306.99" stroke="#761b36" stroke-width="1.05"/><path d="M397.85,304.66 L399.88,306.64 L396.96,307.34 Z" fill="#761b36"/>
<line x1="372.79" y1="180.74" x2="372.52" y2="183.12" stroke="#30518a" stroke-width="1.05"/><path d="M372.24,185.51 L371.03,182.95 L374.01,183.30 Z" fill="#30518a"/>
<line x1="375.75" y1="191.37" x2="375.40" y2="193.74" stroke="#30518a" stroke-width="1.05"/><path d="M375.05,196.12 L373.91,193.52 L376.88,193.96 Z" fill="#30518a"/>
<line x1="378.73" y1="202.01" x2="378.28" y2="204.36" stroke="#30518a" stroke-width="1.05"/><path d="M377.83,206.72 L376.81,204.08 L379.75,204.65 Z" fill="#30518a"/>
<line x1="381.77" y1="212.66" x2="381.16" y2="214.98" stroke="#30518a" stroke-width="1.05"/><path d="M380.56,217.31 L379.71,214.61 L382.62,215.36 Z" fill="#30518a"/>
<line x1="384.90" y1="223.36" x2="384.05" y2="225.60" stroke="#6191c0" stroke-width="1.05"/><path d="M383.19,227.85 L382.64,225.07 L385.45,226.13 Z" fill="#6191c0"/>
<line x1="388.29" y1="234.25" x2="386.93" y2="236.22" stroke="#a8cce0" stroke-width="1.05"/><path d="M385.56,238.20 L385.69,235.37 L388.16,237.08 Z" fill="#a8cce0"/>
<line x1="392.11" y1="247.52" x2="389.81" y2="246.84" stroke="#f7f1ed" stroke-width="1.05"/><path d="M387.51,246.16 L390.24,245.40 L389.39,248.28 Z" fill="#f7f1ed"/>
<line x1="394.05" y1="259.44" x2="392.69" y2="257.46" stroke="#e4a38a" stroke-width="1.05"/><path d="M391.33,255.48 L393.93,256.61 L391.46,258.31 Z" fill="#e4a38a"/>
<line x1="396.59" y1="270.26" x2="395.58" y2="268.08" stroke="#bc4850" stroke-width="1.05"/><path d="M394.56,265.91 L396.94,267.45 L394.22,268.72 Z" fill="#bc4850"/>
<line x1="399.30" y1="280.95" x2="398.46" y2="278.70" stroke="#761b36" stroke-width="1.05"/><path d="M397.61,276.46 L399.86,278.18 L397.05,279.23 Z" fill="#761b36"/>
<line x1="402.09" y1="291.60" x2="401.34" y2="289.32" stroke="#761b36" stroke-width="1.05"/><path d="M400.60,287.04 L402.77,288.86 L399.92,289.79 Z" fill="#761b36"/>
<line x1="404.90" y1="302.24" x2="404.22" y2="299.94" stroke="#761b36" stroke-width="1.05"/><path d="M403.54,297.64 L405.66,299.52 L402.79,300.37 Z" fill="#761b36"/>
<line x1="407.74" y1="312.88" x2="407.11" y2="310.56" stroke="#761b36" stroke-width="1.05"/><path d="M406.47,308.25 L408.55,310.17 L405.66,310.96 Z" fill="#761b36"/>
<line x1="381.59" y1="184.33" x2="381.20" y2="186.70" stroke="#30518a" stroke-width="1.05"/><path d="M380.81,189.06 L379.72,186.45 L382.68,186.94 Z" fill="#30518a"/>
<line x1="384.57" y1="194.97" x2="384.08" y2="197.32" stroke="#30518a" stroke-width="1.05"/><path d="M383.60,199.67 L382.62,197.01 L385.55,197.62 Z" fill="#30518a"/>
<line x1="387.58" y1="205.62" x2="386.97" y2="207.94" stroke="#30518a" stroke-width="1.05"/><path d="M386.35,210.26 L385.52,207.55 L388.42,208.32 Z" fill="#30518a"/>
<line x1="390.66" y1="216.30" x2="389.85" y2="218.56" stroke="#456da4" stroke-width="1.05"/><path d="M389.04,220.82 L388.44,218.05 L391.26,219.06 Z" fill="#456da4"/>
<line x1="393.87" y1="227.06" x2="392.73" y2="229.18" stroke="#75a6cb" stroke-width="1.05"/><path d="M391.59,231.29 L391.41,228.46 L394.05,229.89 Z" fill="#75a6cb"/>
<line x1="397.44" y1="238.24" x2="395.61" y2="239.80" stroke="#c6dde8" stroke-width="1.05"/><path d="M393.79,241.35 L394.64,238.65 L396.59,240.94 Z" fill="#c6dde8"/>
<line x1="400.48" y1="251.76" x2="398.50" y2="250.42" stroke="#f4ddcf" stroke-width="1.05"/><path d="M396.51,249.07 L399.34,249.17 L397.66,251.66 Z" fill="#f4ddcf"/>
<line x1="402.73" y1="263.02" x2="401.38" y2="261.04" stroke="#d88471" stroke-width="1.05"/><path d="M400.03,259.05 L402.62,260.19 L400.14,261.88 Z" fill="#d88471"/>
<line x1="405.33" y1="273.81" x2="404.26" y2="271.66" stroke="#9f3445" stroke-width="1.05"/><path d="M403.20,269.51 L405.61,270.99 L402.92,272.32 Z" fill="#9f3445"/>
<line x1="408.05" y1="284.50" x2="407.14" y2="282.28" stroke="#761b36" stroke-width="1.05"/><path d="M406.23,280.06 L408.53,281.71 L405.76,282.84 Z" fill="#761b36"/>
<line x1="410.84" y1="295.15" x2="410.03" y2="292.90" stroke="#761b36" stroke-width="1.05"/><path d="M409.22,290.64 L411.44,292.39 L408.62,293.40 Z" fill="#761b36"/>
<line x1="413.65" y1="305.80" x2="412.91" y2="303.52" stroke="#761b36" stroke-width="1.05"/><path d="M412.17,301.23 L414.34,303.05 L411.48,303.98 Z" fill="#761b36"/>
<line x1="387.43" y1="177.29" x2="387.01" y2="179.65" stroke="#30518a" stroke-width="1.05"/><path d="M386.58,182.01 L385.53,179.39 L388.48,179.91 Z" fill="#30518a"/>
<line x1="390.40" y1="187.92" x2="389.89" y2="190.27" stroke="#30518a" stroke-width="1.05"/><path d="M389.38,192.61 L388.42,189.95 L391.35,190.59 Z" fill="#30518a"/>
<line x1="393.39" y1="198.57" x2="392.77" y2="200.89" stroke="#30518a" stroke-width="1.05"/><path d="M392.15,203.21 L391.32,200.50 L394.22,201.28 Z" fill="#30518a"/>
<line x1="396.44" y1="209.24" x2="395.65" y2="211.51" stroke="#30518a" stroke-width="1.05"/><path d="M394.87,213.78 L394.24,211.02 L397.07,212.00 Z" fill="#30518a"/>
<line x1="399.57" y1="219.96" x2="398.54" y2="222.13" stroke="#5481b4" stroke-width="1.05"/><path d="M397.51,224.30 L397.18,221.49 L399.89,222.77 Z" fill="#5481b4"/>
<line x1="402.87" y1="230.84" x2="401.42" y2="232.75" stroke="#8cbad6" stroke-width="1.05"/><path d="M399.96,234.66 L400.23,231.84 L402.61,233.66 Z" fill="#8cbad6"/>
<line x1="406.54" y1="242.52" x2="404.30" y2="243.37" stroke="#e4eef3" stroke-width="1.05"/><path d="M402.06,244.22 L403.77,241.97 L404.83,244.77 Z" fill="#e4eef3"/>
<line x1="409.00" y1="255.55" x2="407.18" y2="253.99" stroke="#edc2ab" stroke-width="1.05"/><path d="M405.36,252.42 L408.16,252.85 L406.21,255.13 Z" fill="#edc2ab"/>
<line x1="411.42" y1="266.59" x2="410.07" y2="264.61" stroke="#c96161" stroke-width="1.05"/><path d="M408.71,262.63 L411.30,263.76 L408.83,265.46 Z" fill="#c96161"/>
<line x1="414.06" y1="277.36" x2="412.95" y2="275.23" stroke="#7e213a" stroke-width="1.05"/><path d="M411.84,273.10 L414.28,274.53 L411.62,275.92 Z" fill="#7e213a"/>
<line x1="396.22" y1="180.88" x2="395.69" y2="183.22" stroke="#30518a" stroke-width="1.05"/><path d="M395.16,185.56 L394.23,182.89 L397.15,183.55 Z" fill="#30518a"/>
<line x1="399.21" y1="191.53" x2="398.57" y2="193.84" stroke="#30518a" stroke-width="1.05"/><path d="M397.94,196.16 L397.13,193.45 L400.02,194.24 Z" fill="#30518a"/>
<line x1="402.23" y1="202.19" x2="401.46" y2="204.46" stroke="#30518a" stroke-width="1.05"/><path d="M400.68,206.73 L400.04,203.98 L402.88,204.94 Z" fill="#30518a"/>
<line x1="405.31" y1="212.89" x2="404.34" y2="215.08" stroke="#30518a" stroke-width="1.05"/><path d="M403.37,217.28 L402.97,214.48 L405.71,215.69 Z" fill="#30518a"/>
<line x1="408.49" y1="223.67" x2="407.22" y2="225.70" stroke="#6191c0" stroke-width="1.05"/><path d="M405.95,227.74 L405.95,224.91 L408.49,226.50 Z" fill="#6191c0"/>
<line x1="411.89" y1="234.72" x2="410.10" y2="236.32" stroke="#a9cce0" stroke-width="1.05"/><path d="M408.32,237.93 L409.10,235.21 L411.11,237.44 Z" fill="#a9cce0"/>
<line x1="415.34" y1="247.42" x2="412.99" y2="246.94" stroke="#f7f0ec" stroke-width="1.05"/><path d="M410.63,246.47 L413.28,245.47 L412.69,248.41 Z" fill="#f7f0ec"/>
<line x1="405.02" y1="184.48" x2="404.38" y2="186.80" stroke="#30518a" stroke-width="1.05"/><path d="M403.73,189.11 L402.93,186.39 L405.82,187.20 Z" fill="#30518a"/>
<line x1="408.03" y1="195.14" x2="407.26" y2="197.42" stroke="#30518a" stroke-width="1.05"/><path d="M406.49,199.69 L405.84,196.94 L408.68,197.89 Z" fill="#30518a"/>
<line x1="411.07" y1="205.82" x2="410.14" y2="208.04" stroke="#30518a" stroke-width="1.05"/><path d="M409.21,210.25 L408.76,207.45 L411.52,208.62 Z" fill="#30518a"/>
<line x1="414.19" y1="216.56" x2="413.02" y2="218.66" stroke="#456ea5" stroke-width="1.05"/><path d="M411.86,220.75 L411.71,217.93 L414.34,219.38 Z" fill="#456ea5"/>
<line x1="410.84" y1="177.44" x2="410.18" y2="179.75" stroke="#30518a" stroke-width="1.05"/><path d="M409.52,182.06 L408.74,179.34 L411.62,180.16 Z" fill="#30518a"/>
<line x1="413.83" y1="188.09" x2="413.06" y2="190.37" stroke="#30518a" stroke-width="1.05"/><path d="M412.30,192.64 L411.64,189.89 L414.49,190.85 Z" fill="#30518a"/>
</g>
<path d="M347.40,197.30 L349.20,197.36 L351.08,197.46 L353.01,197.58 L354.94,197.74 L356.84,197.94 L358.67,198.18 L360.41,198.47 L362.00,198.80 L363.46,199.18 L364.82,199.62 L366.10,200.10 L367.30,200.62 L368.44,201.17 L369.53,201.76 L370.58,202.37 L371.60,203.00 L372.60,203.66 L373.56,204.36 L374.49,205.10 L375.36,205.86 L376.18,206.63 L376.93,207.42 L377.61,208.21 L378.20,209.00 L378.71,209.78 L379.14,210.57 L379.50,211.36 L379.79,212.16 L380.02,212.97 L380.19,213.79 L380.32,214.64 L380.40,215.50 L380.43,216.39 L380.39,217.30 L380.29,218.24 L380.14,219.19 L379.95,220.14 L379.72,221.10 L379.47,222.06 L379.20,223.00 L378.90,223.94 L378.56,224.90 L378.18,225.86 L377.78,226.81 L377.35,227.76 L376.90,228.70 L376.45,229.61 L376.00,230.50 L375.52,231.35 L375.01,232.16 L374.47,232.94 L373.93,233.71 L373.39,234.48 L372.88,235.28 L372.41,236.11 L372.00,237.00 L371.64,237.97 L371.30,239.01 L370.99,240.10 L370.72,241.21 L370.48,242.30 L370.28,243.35 L370.12,244.33 L370.00,245.20 L369.93,245.95 L369.90,246.61 L369.92,247.20 L369.97,247.74 L370.06,248.26 L370.18,248.80 L370.32,249.37 L370.50,250.00 L370.71,250.69 L370.95,251.39 L371.23,252.12 L371.53,252.86 L371.86,253.62 L372.22,254.40 L372.60,255.19 L373.00,256.00 L373.43,256.82 L373.91,257.66 L374.43,258.51 L374.96,259.38 L375.49,260.26 L376.02,261.16 L376.53,262.07 L377.00,263.00 L377.46,263.97 L377.93,264.98 L378.39,266.01 L378.84,267.06 L379.26,268.10 L379.64,269.12 L379.95,270.09 L380.20,271.00 L380.38,271.84 L380.50,272.62 L380.58,273.35 L380.61,274.06 L380.59,274.76 L380.53,275.48 L380.43,276.22 L380.30,277.00 L380.13,277.84 L379.94,278.71 L379.70,279.62 L379.42,280.53 L379.09,281.44 L378.72,282.33 L378.29,283.19 L377.80,284.00 L377.26,284.78 L376.68,285.54 L376.05,286.29 L375.37,287.01 L374.63,287.70 L373.82,288.35 L372.95,288.95 L372.00,289.50 L370.98,289.99 L369.90,290.43 L368.76,290.83 L367.55,291.19 L366.27,291.51 L364.92,291.80 L363.50,292.06 L362.00,292.30 L360.39,292.51 L358.67,292.70 L356.85,292.85 L354.98,292.97 L353.06,293.06 L351.14,293.13 L349.25,293.18 L347.40,293.20 L345.57,293.20 L343.71,293.19 L341.84,293.16 L339.97,293.09 L338.14,293.00 L336.36,292.87 L334.64,292.71 L333.00,292.50 L331.44,292.25 L329.93,291.97 L328.47,291.65 L327.07,291.30 L325.72,290.91 L324.42,290.48 L323.18,290.01 L322.00,289.50 L320.86,288.94 L319.77,288.34 L318.72,287.69 L317.73,287.00 L316.81,286.28 L315.96,285.54 L315.18,284.78 L314.50,284.00 L313.91,283.20 L313.40,282.36 L312.97,281.48 L312.62,280.59 L312.33,279.69 L312.10,278.79 L311.93,277.89 L311.80,277.00 L311.73,276.13 L311.71,275.27 L311.76,274.42 L311.87,273.56 L312.03,272.70 L312.24,271.82 L312.50,270.92 L312.80,270.00 L313.17,269.03 L313.61,268.02 L314.11,266.99 L314.65,265.94 L315.23,264.90 L315.82,263.88 L316.41,262.91 L317.00,262.00 L317.60,261.15 L318.24,260.36 L318.90,259.60 L319.57,258.88 L320.24,258.16 L320.87,257.45 L321.47,256.74 L322.00,256.00 L322.49,255.24 L322.95,254.47 L323.38,253.70 L323.78,252.92 L324.15,252.16 L324.47,251.42 L324.76,250.69 L325.00,250.00 L325.19,249.35 L325.34,248.74 L325.44,248.15 L325.50,247.58 L325.53,247.01 L325.54,246.44 L325.53,245.83 L325.50,245.20 L325.47,244.54 L325.44,243.86 L325.39,243.16 L325.31,242.46 L325.20,241.74 L325.03,241.00 L324.80,240.26 L324.50,239.50 L324.10,238.73 L323.61,237.94 L323.05,237.14 L322.44,236.33 L321.80,235.51 L321.17,234.68 L320.56,233.84 L320.00,233.00 L319.46,232.16 L318.92,231.31 L318.38,230.46 L317.84,229.59 L317.33,228.72 L316.85,227.83 L316.40,226.93 L316.00,226.00 L315.63,225.04 L315.29,224.05 L314.97,223.03 L314.69,222.00 L314.44,220.97 L314.24,219.95 L314.09,218.96 L314.00,218.00 L313.96,217.07 L313.98,216.16 L314.05,215.26 L314.16,214.38 L314.31,213.51 L314.50,212.66 L314.73,211.82 L315.00,211.00 L315.30,210.19 L315.63,209.39 L316.00,208.61 L316.41,207.84 L316.86,207.10 L317.36,206.37 L317.90,205.67 L318.50,205.00 L319.15,204.35 L319.86,203.72 L320.61,203.11 L321.41,202.53 L322.25,201.98 L323.13,201.45 L324.05,200.96 L325.00,200.50 L325.98,200.08 L326.97,199.69 L328.00,199.34 L329.07,199.01 L330.19,198.72 L331.38,198.45 L332.65,198.21 L334.00,198.00 L335.46,197.81 L337.01,197.65 L338.65,197.51 L340.35,197.40 L342.09,197.32 L343.86,197.28 L345.64,197.27 Z" stroke="#6b3f8f" stroke-width="1.05" fill="none" stroke-linejoin="round" stroke-linecap="butt" />
<path d="M347.10,209.50 L348.19,209.47 L349.27,209.45 L350.34,209.45 L351.37,209.47 L352.36,209.53 L353.30,209.63 L354.19,209.78 L355.00,210.00 L355.74,210.28 L356.42,210.60 L357.05,210.98 L357.62,211.40 L358.15,211.87 L358.63,212.37 L359.08,212.92 L359.50,213.50 L359.90,214.13 L360.27,214.82 L360.61,215.56 L360.91,216.34 L361.15,217.14 L361.34,217.96 L361.46,218.78 L361.50,219.60 L361.46,220.43 L361.35,221.30 L361.17,222.19 L360.94,223.09 L360.65,223.98 L360.30,224.85 L359.92,225.70 L359.50,226.50 L359.03,227.27 L358.52,228.03 L357.95,228.77 L357.34,229.48 L356.68,230.17 L355.99,230.82 L355.26,231.43 L354.50,232.00 L353.69,232.54 L352.81,233.08 L351.89,233.58 L350.93,234.05 L349.96,234.46 L348.99,234.80 L348.03,235.05 L347.10,235.20 L346.19,235.24 L345.28,235.20 L344.37,235.07 L343.46,234.86 L342.57,234.59 L341.69,234.27 L340.83,233.90 L340.00,233.50 L339.18,233.05 L338.35,232.54 L337.53,231.98 L336.73,231.36 L335.97,230.70 L335.25,230.00 L334.59,229.27 L334.00,228.50 L333.47,227.68 L332.98,226.79 L332.54,225.85 L332.14,224.88 L331.81,223.89 L331.54,222.90 L331.33,221.93 L331.20,221.00 L331.14,220.08 L331.15,219.13 L331.22,218.18 L331.36,217.25 L331.56,216.35 L331.82,215.49 L332.13,214.70 L332.50,214.00 L332.92,213.38 L333.38,212.82 L333.90,212.32 L334.48,211.88 L335.13,211.48 L335.84,211.12 L336.63,210.79 L337.50,210.50 L338.49,210.25 L339.62,210.04 L340.84,209.88 L342.12,209.75 L343.42,209.66 L344.71,209.59 L345.95,209.54 Z" stroke="#6b3f8f" stroke-width="1.05" fill="none" stroke-linejoin="round" stroke-linecap="butt" />
<path d="M347.10,256.10 L347.89,256.14 L348.74,256.22 L349.63,256.32 L350.54,256.46 L351.46,256.65 L352.35,256.88 L353.21,257.16 L354.00,257.50 L354.74,257.91 L355.46,258.38 L356.15,258.92 L356.82,259.49 L357.46,260.10 L358.07,260.73 L358.65,261.37 L359.20,262.00 L359.73,262.65 L360.24,263.32 L360.73,264.02 L361.18,264.74 L361.60,265.45 L361.98,266.16 L362.32,266.84 L362.60,267.50 L362.84,268.11 L363.04,268.69 L363.21,269.25 L363.33,269.80 L363.41,270.36 L363.43,270.93 L363.39,271.54 L363.30,272.20 L363.15,272.93 L362.93,273.73 L362.66,274.58 L362.34,275.44 L361.97,276.29 L361.56,277.10 L361.10,277.85 L360.60,278.50 L360.05,279.07 L359.46,279.60 L358.81,280.08 L358.13,280.51 L357.40,280.89 L356.63,281.24 L355.83,281.54 L355.00,281.80 L354.13,282.01 L353.21,282.18 L352.26,282.29 L351.27,282.36 L350.25,282.40 L349.21,282.42 L348.16,282.42 L347.10,282.40 L346.00,282.38 L344.83,282.34 L343.62,282.29 L342.41,282.21 L341.21,282.09 L340.06,281.94 L338.98,281.75 L338.00,281.50 L337.10,281.20 L336.26,280.85 L335.46,280.47 L334.73,280.04 L334.05,279.57 L333.43,279.08 L332.88,278.55 L332.40,278.00 L331.99,277.42 L331.66,276.79 L331.39,276.13 L331.18,275.44 L331.03,274.72 L330.94,273.99 L330.90,273.25 L330.90,272.50 L330.96,271.73 L331.08,270.92 L331.26,270.09 L331.49,269.25 L331.77,268.41 L332.08,267.58 L332.43,266.77 L332.80,266.00 L333.21,265.25 L333.67,264.51 L334.17,263.78 L334.71,263.06 L335.27,262.37 L335.84,261.71 L336.42,261.08 L337.00,260.50 L337.59,259.95 L338.19,259.42 L338.81,258.93 L339.44,258.46 L340.08,258.03 L340.72,257.65 L341.36,257.30 L342.00,257.00 L342.62,256.75 L343.23,256.54 L343.83,256.37 L344.43,256.24 L345.05,256.15 L345.70,256.10 L346.38,256.08 Z" stroke="#6b3f8f" stroke-width="1.05" fill="none" stroke-linejoin="round" stroke-linecap="butt" />
<rect x="283.3" y="181.2" width="129.2" height="129.10000000000002" fill="none" stroke="#444" stroke-width="0.9"/>
<line x1="278.70" y1="181.20" x2="283.30" y2="181.20" stroke="#333" stroke-width="0.9" />
<line x1="278.70" y1="246.30" x2="283.30" y2="246.30" stroke="#333" stroke-width="0.9" />
<line x1="278.70" y1="310.30" x2="283.30" y2="310.30" stroke="#333" stroke-width="0.9" />
<line x1="283.30" y1="310.30" x2="283.30" y2="315.40" stroke="#333" stroke-width="0.9" />
<line x1="348.60" y1="310.30" x2="348.60" y2="315.40" stroke="#333" stroke-width="0.9" />
<line x1="412.50" y1="310.30" x2="412.50" y2="315.40" stroke="#333" stroke-width="0.9" />
<text x="278.20" y="188.50" font-size="11" text-anchor="end" style="font-family:'Liberation Serif',serif;font-weight:normal;font-style:normal" fill="#222" textLength="19.30" lengthAdjust="spacingAndGlyphs">0.08</text>
<text x="278.30" y="249.50" font-size="11" text-anchor="end" style="font-family:'Liberation Serif',serif;font-weight:normal;font-style:normal" fill="#222" textLength="13.80" lengthAdjust="spacingAndGlyphs">0.0</text>
<text x="278.20" y="311.00" font-size="11" text-anchor="end" style="font-family:'Liberation Serif',serif;font-weight:normal;font-style:normal" fill="#222" textLength="23.00" lengthAdjust="spacingAndGlyphs">-0.08</text>
<text x="274.00" y="327.00" font-size="11" text-anchor="start" style="font-family:'Liberation Serif',serif;font-weight:normal;font-style:normal" fill="#222" textLength="22.30" lengthAdjust="spacingAndGlyphs">-0.08</text>
<text x="342.00" y="327.00" font-size="11" text-anchor="start" style="font-family:'Liberation Serif',serif;font-weight:normal;font-style:normal" fill="#222" textLength="13.80" lengthAdjust="spacingAndGlyphs">0.0</text>
<text x="397.40" y="327.00" font-size="11" text-anchor="start" style="font-family:'Liberation Serif',serif;font-weight:normal;font-style:normal" fill="#222" textLength="19.00" lengthAdjust="spacingAndGlyphs">0.08</text>
<text x="247.5" y="246.5" font-size="11.2" text-anchor="middle" style="font-family:'Liberation Serif',serif" fill="#222" transform="rotate(-90 247.5 246.5)" textLength="31" lengthAdjust="spacingAndGlyphs"><tspan font-style="italic">k</tspan><tspan font-size="7" dy="2.5" font-style="italic">z</tspan><tspan dy="-2.5"> (&#197;</tspan><tspan font-size="7" dy="-4.2">-1</tspan><tspan dy="4.2">)</tspan></text>
<text x="336" y="341.6" font-size="11.2" style="font-family:'Liberation Serif',serif" fill="#222" textLength="37.5" lengthAdjust="spacingAndGlyphs"><tspan font-style="italic">k</tspan><tspan font-size="7" dy="2.5">110</tspan><tspan dy="-2.5"> (&#197;</tspan><tspan font-size="7" dy="-4.2">-1</tspan><tspan dy="4.2">)</tspan></text>
<rect x="153.5" y="354.3" width="151.3" height="12.800000000000011" fill="url(#cbar)" stroke="#222" stroke-width="0.9"/>
<line x1="153.50" y1="367.10" x2="153.50" y2="371.30" stroke="#333" stroke-width="0.9" />
<line x1="229.00" y1="367.10" x2="229.00" y2="371.30" stroke="#333" stroke-width="0.9" />
<line x1="304.80" y1="367.10" x2="304.80" y2="371.30" stroke="#333" stroke-width="0.9" />
<text x="140.80" y="383.00" font-size="11" text-anchor="start" style="font-family:'Liberation Serif',serif;font-weight:normal;font-style:normal" fill="#222" textLength="23.20" lengthAdjust="spacingAndGlyphs">-1.07</text>
<text x="222.80" y="383.00" font-size="11" text-anchor="start" style="font-family:'Liberation Serif',serif;font-weight:normal;font-style:normal" fill="#222" textLength="13.90" lengthAdjust="spacingAndGlyphs">0.0</text>
<text x="295.40" y="383.00" font-size="11" text-anchor="start" style="font-family:'Liberation Serif',serif;font-weight:normal;font-style:normal" fill="#222" textLength="19.00" lengthAdjust="spacingAndGlyphs">1.07</text>
<text x="217.3" y="346.3" font-size="11.2" style="font-family:'Liberation Serif',serif" fill="#222"><tspan font-style="italic">J</tspan><tspan font-size="6.5" dy="2.6" font-style="italic">z</tspan><tspan dy="-2.6" x="226.6" font-size="12">(&#295;)</tspan></text>
<line x1="503.20" y1="13.30" x2="681.10" y2="13.30" stroke="#555" stroke-width="0.9" />
<line x1="503.20" y1="143.30" x2="681.10" y2="143.30" stroke="#555" stroke-width="0.9" />
<line x1="681.10" y1="13.30" x2="681.10" y2="143.30" stroke="#555" stroke-width="0.9" />
<line x1="503.20" y1="13.30" x2="503.20" y2="143.30" stroke="#a0a0a0" stroke-width="1.4" />
<line x1="503.20" y1="143.30" x2="503.20" y2="147.60" stroke="#333" stroke-width="1.0" />
<line x1="562.50" y1="143.30" x2="562.50" y2="147.60" stroke="#333" stroke-width="1.0" />
<line x1="621.80" y1="143.30" x2="621.80" y2="147.60" stroke="#333" stroke-width="1.0" />
<line x1="681.10" y1="143.30" x2="681.10" y2="147.60" stroke="#333" stroke-width="1.0" />
<line x1="498.40" y1="143.30" x2="503.20" y2="143.30" stroke="#333" stroke-width="1.0" />
<text x="493.40" y="147.30" font-size="11" text-anchor="end" style="font-family:'Liberation Serif',serif;font-weight:normal;font-style:normal" fill="#303030" textLength="14.30" lengthAdjust="spacingAndGlyphs">0.0</text>
<line x1="498.40" y1="99.97" x2="503.20" y2="99.97" stroke="#333" stroke-width="1.0" />
<text x="493.40" y="103.97" font-size="11" text-anchor="end" style="font-family:'Liberation Serif',serif;font-weight:normal;font-style:normal" fill="#303030" textLength="14.30" lengthAdjust="spacingAndGlyphs">0.5</text>
<line x1="498.40" y1="56.63" x2="503.20" y2="56.63" stroke="#333" stroke-width="1.0" />
<text x="493.40" y="60.63" font-size="11" text-anchor="end" style="font-family:'Liberation Serif',serif;font-weight:normal;font-style:normal" fill="#303030" textLength="16.20" lengthAdjust="spacingAndGlyphs">1.0</text>
<line x1="498.40" y1="13.30" x2="503.20" y2="13.30" stroke="#333" stroke-width="1.0" />
<text x="493.40" y="17.30" font-size="11" text-anchor="end" style="font-family:'Liberation Serif',serif;font-weight:normal;font-style:normal" fill="#303030" textLength="16.20" lengthAdjust="spacingAndGlyphs">1.5</text>
<text x="429.50" y="18.20" font-size="14" text-anchor="start" style="font-family:'Liberation Sans',sans-serif;font-weight:bold;font-style:normal" fill="#000">e</text>
<text x="429.20" y="143.60" font-size="14" text-anchor="start" style="font-family:'Liberation Sans',sans-serif;font-weight:bold;font-style:normal" fill="#000">f</text>
<text x="429.50" y="263.30" font-size="14" text-anchor="start" style="font-family:'Liberation Sans',sans-serif;font-weight:bold;font-style:normal" fill="#000">g</text>
<clipPath id="eclip"><rect x="503" y="13.3" width="178.3" height="131"/></clipPath>
<path d="M503.20,69.42 L504.19,69.23 L505.43,68.98 L506.90,68.78 L508.56,68.08 L510.35,68.05 L512.24,67.93 L514.20,67.28 L516.17,67.79 L518.11,67.59 L520.00,67.20 L521.87,67.03 L523.80,66.73 L525.76,66.38 L527.77,66.04 L529.80,66.18 L531.85,65.83 L533.90,66.10 L535.95,65.54 L537.99,65.52 L540.00,65.16 L542.02,64.51 L544.08,64.65 L546.16,64.76 L548.24,64.20 L550.31,64.08 L552.36,63.86 L554.37,64.06 L556.32,63.80 L558.20,62.69 L560.00,63.34 L561.77,62.84 L563.56,62.94 L565.34,62.26 L567.08,62.86 L568.75,62.46 L570.32,62.28 L571.76,61.94 L573.04,61.97 L574.13,61.83 L575.00,61.80 L585.00,61.00 L592.00,60.50 L600.00,60.80 L604.00,61.40 L607.00,61.70 L611.00,61.00 L614.00,63.00 L617.50,63.10 L621.00,64.00 L624.00,66.60 L626.00,65.80 L628.00,67.50 L630.60,70.10 L633.30,69.40 L636.00,70.60 L638.50,72.60 L640.30,71.00 L643.80,71.00 L647.30,71.70 L650.80,70.00 L652.50,71.50 L655.20,68.80 L657.80,69.70 L660.00,68.00 L662.40,68.70 L664.00,66.50 L666.10,65.00 L668.00,63.50 L669.90,60.30 L671.50,56.00 L672.70,51.90 L674.50,49.10 L675.50,41.60 L677.30,42.50 L678.30,32.30 L678.30,24.80 L679.60,24.80 L680.10,19.20 L680.70,13.30" stroke="#21157a" stroke-width="2.2" fill="none" stroke-linejoin="round" stroke-linecap="butt" clip-path="url(#eclip)"/>
<path d="M503.20,130.70 L505.25,130.65 L507.94,130.59 L511.15,130.52 L514.73,130.44 L518.54,130.36 L522.45,130.27 L526.31,130.18 L530.00,130.10 L533.60,130.02 L537.28,129.93 L541.02,129.84 L544.80,129.76 L548.61,129.67 L552.43,129.58 L556.23,129.49 L560.00,129.40 L563.75,129.31 L567.50,129.22 L571.25,129.13 L575.00,129.04 L578.75,128.95 L582.50,128.86 L586.25,128.78 L590.00,128.70 L593.85,128.62 L597.85,128.55 L601.91,128.48 L605.94,128.41 L609.85,128.34 L613.55,128.29 L616.97,128.24 L620.00,128.20 L622.59,128.17 L624.80,128.15 L626.72,128.13 L628.44,128.12 L630.03,128.13 L631.60,128.14 L633.23,128.16 L635.00,128.20 L636.88,128.25 L638.75,128.32 L640.62,128.39 L642.50,128.48 L644.38,128.58 L646.25,128.68 L648.12,128.79 L650.00,128.90 L651.87,129.02 L653.73,129.14 L655.58,129.28 L657.44,129.42 L659.30,129.56 L661.18,129.71 L663.08,129.85 L665.00,130.00 L667.06,130.15 L669.30,130.32 L671.63,130.50 L673.94,130.67 L676.13,130.83 L678.10,130.98 L679.76,131.11 L681.00,131.20" stroke="#21157a" stroke-width="2.2" fill="none" stroke-linejoin="round" stroke-linecap="butt" stroke-dasharray="7.5,4.3" stroke-dashoffset="4.7"/>
<path d="M503.20,136.80 L507.56,136.85 L513.33,136.91 L520.20,136.98 L527.85,137.06 L535.97,137.15 L544.24,137.24 L552.36,137.32 L560.00,137.40 L567.34,137.48 L574.75,137.56 L582.22,137.64 L589.74,137.72 L597.29,137.80 L604.85,137.87 L612.43,137.94 L620.00,138.00 L627.99,138.05 L636.61,138.10 L645.48,138.15 L654.25,138.19 L662.55,138.22 L670.02,138.25 L676.29,138.28 L681.00,138.30" stroke="#f07a3a" stroke-width="2.0" fill="none" stroke-linejoin="round" stroke-linecap="butt" />
<line x1="520.80" y1="30.60" x2="595.00" y2="30.60" stroke="#d6358c" stroke-width="2.2" stroke-dasharray="7.7,3.3"/>
<text x="519.30" y="26.60" font-size="11.4" text-anchor="start" style="font-family:'Liberation Serif',serif;font-weight:normal;font-style:normal" fill="#d6358c" textLength="89.20" lengthAdjust="spacingAndGlyphs">NMR experiment</text>
<text x="519.80" y="78.90" font-size="11.4" text-anchor="start" style="font-family:'Liberation Serif',serif;font-weight:normal;font-style:normal" fill="#30248a" textLength="58.60" lengthAdjust="spacingAndGlyphs">Exact BTE</text>
<text x="519.30" y="121.70" font-size="11.4" text-anchor="start" style="font-family:'Liberation Serif',serif;font-weight:normal;font-style:normal" fill="#30248a" textLength="86.00" lengthAdjust="spacingAndGlyphs">Constant <tspan font-style="italic">&#964;</tspan> BTE</text>
<text x="592.6" y="78.9" font-size="15" style="font-family:'Liberation Serif',serif;font-style:italic" fill="#30248a" textLength="12.3" lengthAdjust="spacingAndGlyphs">M</text>
<text x="605.0" y="81.0" font-size="10" style="font-family:'Liberation Serif',serif;font-style:italic" fill="#30248a" textLength="6.6" lengthAdjust="spacingAndGlyphs">z</text>
<text x="628.3" y="118.3" font-size="15" style="font-family:'Liberation Serif',serif;font-style:italic" fill="#f2884f" textLength="12.3" lengthAdjust="spacingAndGlyphs">M</text>
<text x="640.6" y="119.9" font-size="10" style="font-family:'Liberation Serif',serif;font-style:italic" fill="#f2884f" textLength="7.2" lengthAdjust="spacingAndGlyphs">x</text>
<text x="460.3" y="77.8" font-size="12" text-anchor="middle" style="font-family:'Liberation Serif',serif" fill="#222" transform="rotate(-90 460.3 77.8)" textLength="81" lengthAdjust="spacingAndGlyphs"><tspan font-style="italic">M</tspan>(10<tspan font-size="8" dy="-4.6">&#8722;8</tspan><tspan dy="4.6" font-style="italic">&#956;</tspan><tspan font-size="8" dy="2.2" font-style="italic">B</tspan><tspan dy="-2.2">/Te)</tspan></text>
<line x1="503.20" y1="165.50" x2="681.10" y2="165.50" stroke="#555" stroke-width="0.9" />
<line x1="503.20" y1="243.20" x2="681.10" y2="243.20" stroke="#555" stroke-width="0.9" />
<line x1="681.10" y1="165.50" x2="681.10" y2="243.20" stroke="#555" stroke-width="0.9" />
<line x1="503.20" y1="165.50" x2="503.20" y2="243.20" stroke="#a0a0a0" stroke-width="1.4" />
<line x1="503.20" y1="243.20" x2="503.20" y2="247.50" stroke="#333" stroke-width="1.0" />
<line x1="562.50" y1="243.20" x2="562.50" y2="247.50" stroke="#333" stroke-width="1.0" />
<line x1="621.80" y1="243.20" x2="621.80" y2="247.50" stroke="#333" stroke-width="1.0" />
<line x1="681.10" y1="243.20" x2="681.10" y2="247.50" stroke="#333" stroke-width="1.0" />
<line x1="498.40" y1="243.20" x2="503.20" y2="243.20" stroke="#333" stroke-width="1.0" />
<text x="493.40" y="247.20" font-size="11" text-anchor="end" style="font-family:'Liberation Serif',serif;font-weight:normal;font-style:normal" fill="#303030" textLength="14.30" lengthAdjust="spacingAndGlyphs">0.0</text>
<line x1="498.40" y1="204.35" x2="503.20" y2="204.35" stroke="#333" stroke-width="1.0" />
<text x="493.40" y="208.35" font-size="11" text-anchor="end" style="font-family:'Liberation Serif',serif;font-weight:normal;font-style:normal" fill="#303030" textLength="14.30" lengthAdjust="spacingAndGlyphs">0.5</text>
<line x1="498.40" y1="165.50" x2="503.20" y2="165.50" stroke="#333" stroke-width="1.0" />
<text x="493.40" y="169.50" font-size="11" text-anchor="end" style="font-family:'Liberation Serif',serif;font-weight:normal;font-style:normal" fill="#303030" textLength="16.20" lengthAdjust="spacingAndGlyphs">1.0</text>
<path d="M503.20,200.96 L503.99,200.79 L504.93,200.88 L506.03,200.34 L507.25,201.68 L508.59,201.57 L510.04,201.21 L511.57,201.64 L513.17,201.60 L514.83,201.46 L516.53,202.03 L518.26,201.77 L520.00,201.90 L521.80,201.91 L523.69,202.43 L525.67,202.43 L527.73,202.80 L529.84,202.64 L531.99,203.04 L534.17,202.93 L536.36,203.65 L538.56,203.65 L540.74,203.90 L542.89,204.12 L545.00,203.90 L547.10,204.63 L549.22,205.22 L551.37,204.31 L553.52,204.48 L555.67,204.75 L557.81,205.66 L559.94,205.66 L562.04,206.17 L564.10,206.29 L566.12,206.37 L568.09,206.63 L570.00,206.75 L571.87,207.33 L573.74,207.03 L575.59,207.55 L577.41,208.07 L579.19,208.87 L580.94,208.43 L582.63,208.67 L584.26,209.14 L585.82,209.91 L587.30,209.83 L588.70,210.56 L590.00,209.84 L591.18,210.94 L592.25,211.08 L593.20,210.50 L594.07,211.10 L594.88,211.53 L595.62,211.30 L596.34,211.68 L597.04,212.19 L597.73,211.67 L598.45,211.63 L599.20,211.61 L600.00,212.19 L600.83,212.11 L601.67,212.29 L602.50,212.50 L603.33,212.91 L604.17,212.59 L605.00,212.65 L605.83,212.59 L606.67,213.89 L607.50,213.76 L608.33,214.41 L609.17,214.17 L610.00,214.18 L610.83,214.77 L611.67,214.83 L612.50,214.71 L613.33,215.05 L614.17,216.09 L615.00,215.91 L615.83,216.17 L616.67,216.22 L617.50,216.36 L618.33,217.10 L619.17,217.08 L620.00,217.17 L620.83,217.66 L621.67,217.75 L622.50,218.42 L623.33,219.05 L624.17,218.81 L625.00,219.85 L625.83,219.57 L626.67,220.17 L627.50,220.22 L628.33,220.73 L629.17,221.12 L630.00,221.27 L630.83,221.46 L631.67,221.73 L632.50,221.93 L633.33,221.95 L634.17,222.57 L635.00,222.99 L635.83,223.36 L636.67,223.49 L637.50,224.23 L638.33,223.80 L639.17,223.76 L640.00,224.66 L640.83,223.98 L641.67,224.77 L642.50,224.37 L643.33,224.93 L644.17,224.40 L645.00,225.42 L645.83,225.27 L646.67,225.19 L647.50,226.15 L648.33,226.05 L649.17,226.02 L650.00,225.98 L650.83,226.39 L651.67,226.57 L652.50,227.06 L653.33,227.31 L654.17,227.10 L655.00,227.37 L655.83,227.61 L656.67,227.60 L657.50,228.06 L658.33,228.44 L659.17,228.89 L660.00,229.30 L660.83,228.87 L661.65,229.48 L662.47,229.39 L663.29,230.35 L664.11,229.92 L664.93,230.28 L665.76,230.04 L666.59,230.27 L667.42,230.76 L668.27,230.76 L669.13,231.15 L670.00,230.73 L670.92,231.55 L671.91,231.23 L672.96,232.16 L674.03,231.70 L675.11,232.25 L676.17,231.63 L677.21,232.29 L678.18,232.00 L679.08,232.22 L679.88,232.47 L680.56,232.44 L681.10,232.68" stroke="#21157a" stroke-width="2.2" fill="none" stroke-linejoin="round" stroke-linecap="butt" />
<path d="M503.20,238.40 L507.56,238.49 L513.33,238.61 L520.20,238.75 L527.85,238.91 L535.97,239.08 L544.24,239.26 L552.36,239.43 L560.00,239.60 L567.34,239.76 L574.75,239.93 L582.22,240.10 L589.73,240.28 L597.28,240.45 L604.85,240.63 L612.43,240.81 L620.00,241.00 L628.00,241.20 L636.63,241.42 L645.52,241.66 L654.30,241.89 L662.61,242.11 L670.10,242.31 L676.38,242.48 L681.10,242.60" stroke="#f07a3a" stroke-width="2.0" fill="none" stroke-linejoin="round" stroke-linecap="butt" />
<text x="591.8" y="192.6" font-size="14" style="font-family:'Liberation Serif',serif;font-style:italic" fill="#30248a" textLength="6.6" lengthAdjust="spacingAndGlyphs">&#949;</text>
<text x="598.9" y="195.0" font-size="10" style="font-family:'Liberation Serif',serif;font-style:italic" fill="#30248a" textLength="10.8" lengthAdjust="spacingAndGlyphs">zz</text>
<text x="524.2" y="231.8" font-size="14" style="font-family:'Liberation Serif',serif;font-style:italic" fill="#f2884f" textLength="6.6" lengthAdjust="spacingAndGlyphs">&#949;</text>
<text x="530.8" y="233.8" font-size="10" style="font-family:'Liberation Serif',serif;font-style:italic" fill="#f2884f" textLength="12.6" lengthAdjust="spacingAndGlyphs">xx</text>
<text x="460.00" y="204.40" font-size="12" text-anchor="middle" style="font-family:'Liberation Serif',serif;font-weight:normal;font-style:normal" fill="#303030" textLength="49.20" lengthAdjust="spacingAndGlyphs" transform="rotate(-90 460.00 204.40)">Efficiency</text>
<line x1="503.20" y1="265.20" x2="681.10" y2="265.20" stroke="#555" stroke-width="0.9" />
<line x1="503.20" y1="342.90" x2="681.10" y2="342.90" stroke="#555" stroke-width="0.9" />
<line x1="681.10" y1="265.20" x2="681.10" y2="342.90" stroke="#555" stroke-width="0.9" />
<line x1="503.20" y1="265.20" x2="503.20" y2="342.90" stroke="#a0a0a0" stroke-width="1.4" />
<line x1="503.20" y1="342.90" x2="503.20" y2="347.20" stroke="#333" stroke-width="1.0" />
<line x1="562.50" y1="342.90" x2="562.50" y2="347.20" stroke="#333" stroke-width="1.0" />
<line x1="621.80" y1="342.90" x2="621.80" y2="347.20" stroke="#333" stroke-width="1.0" />
<line x1="681.10" y1="342.90" x2="681.10" y2="347.20" stroke="#333" stroke-width="1.0" />
<line x1="498.40" y1="265.20" x2="503.20" y2="265.20" stroke="#333" stroke-width="1.0" />
<text x="493.40" y="269.20" font-size="11" text-anchor="end" style="font-family:'Liberation Serif',serif;font-weight:normal;font-style:normal" fill="#303030" textLength="14.30" lengthAdjust="spacingAndGlyphs">0.0</text>
<line x1="498.40" y1="302.50" x2="503.20" y2="302.50" stroke="#333" stroke-width="1.0" />
<text x="493.40" y="306.50" font-size="11" text-anchor="end" style="font-family:'Liberation Serif',serif;font-weight:normal;font-style:normal" fill="#303030" textLength="24.60" lengthAdjust="spacingAndGlyphs">&#8722;0.5</text>
<line x1="498.40" y1="339.80" x2="503.20" y2="339.80" stroke="#333" stroke-width="1.0" />
<text x="493.40" y="343.80" font-size="11" text-anchor="end" style="font-family:'Liberation Serif',serif;font-weight:normal;font-style:normal" fill="#303030" textLength="24.60" lengthAdjust="spacingAndGlyphs">&#8722;1.0</text>
<text x="503.10" y="360.70" font-size="11" text-anchor="middle" style="font-family:'Liberation Serif',serif;font-weight:normal;font-style:normal" fill="#303030" textLength="21.60" lengthAdjust="spacingAndGlyphs">&#8722;30</text>
<text x="562.90" y="360.70" font-size="11" text-anchor="middle" style="font-family:'Liberation Serif',serif;font-weight:normal;font-style:normal" fill="#303030" textLength="20.20" lengthAdjust="spacingAndGlyphs">&#8722;20</text>
<text x="622.20" y="360.70" font-size="11" text-anchor="middle" style="font-family:'Liberation Serif',serif;font-weight:normal;font-style:normal" fill="#303030" textLength="20.20" lengthAdjust="spacingAndGlyphs">&#8722;10</text>
<text x="681.40" y="360.70" font-size="11" text-anchor="middle" style="font-family:'Liberation Serif',serif;font-weight:normal;font-style:normal" fill="#303030" textLength="6.00" lengthAdjust="spacingAndGlyphs">0</text>
<path d="M503.20,294.87 L504.48,294.75 L506.08,294.85 L507.94,294.35 L510.03,293.54 L512.30,293.49 L514.73,292.97 L517.25,292.70 L519.84,291.91 L522.45,291.83 L525.04,291.37 L527.57,291.17 L530.00,290.46 L532.39,290.03 L534.81,289.14 L537.28,289.37 L539.76,288.00 L542.27,288.06 L544.80,287.22 L547.34,286.56 L549.88,286.05 L552.43,285.50 L554.96,285.18 L557.49,284.57 L560.00,284.40 L562.50,283.26 L565.00,283.18 L567.50,282.56 L570.00,282.46 L572.50,281.46 L575.00,281.40 L577.50,281.10 L580.00,280.34 L582.50,280.41 L585.00,279.82 L587.50,279.55 L590.00,279.09 L592.53,278.23 L595.12,277.77 L597.73,277.38 L600.37,277.04 L603.01,276.53 L605.62,275.70 L608.21,275.20 L610.74,274.66 L613.20,274.22 L615.58,273.84 L617.85,273.45 L620.00,273.51 L622.02,272.67 L623.91,272.42 L625.70,272.31 L627.41,271.79 L629.04,271.70 L630.62,271.58 L632.17,271.55 L633.70,270.96 L635.23,271.33 L636.78,270.81 L638.37,270.73 L640.00,270.67 L641.66,270.43 L643.32,270.31 L644.97,269.95 L646.63,269.72 L648.28,269.60 L649.93,269.15 L651.59,269.41 L653.25,268.82 L654.92,268.54 L656.60,269.01 L658.29,268.37 L660.00,267.96 L661.79,268.36 L663.70,267.69 L665.69,267.72 L667.73,267.09 L669.78,266.96 L671.80,266.42 L673.75,266.13 L675.59,266.09 L677.28,266.06 L678.79,266.05 L680.08,266.21 L681.10,265.39" stroke="#84c8f4" stroke-width="2.2" fill="none" stroke-linejoin="round" stroke-linecap="butt" />
<path d="M503.20,339.96 L504.46,339.16 L506.29,338.56 L508.27,337.79 L510.00,337.24 L511.38,336.50 L512.61,336.04 L513.79,335.73 L515.00,335.82 L516.13,335.59 L517.19,334.62 L518.40,333.49 L520.00,332.71 L522.15,332.37 L524.69,330.65 L527.38,328.69 L530.00,327.87 L532.50,326.34 L535.00,325.32 L537.50,324.17 L540.00,322.89 L542.50,321.98 L545.00,320.46 L547.50,318.98 L550.00,318.02 L552.50,316.97 L555.00,315.11 L557.50,314.43 L560.00,313.11 L562.50,312.22 L565.00,310.75 L567.50,310.02 L570.00,308.89 L572.50,307.73 L575.00,306.45 L577.50,305.58 L580.00,304.27 L582.50,303.04 L585.00,302.32 L587.50,300.72 L590.00,300.25 L592.50,299.03 L595.00,297.17 L597.50,296.80 L600.00,295.27 L602.50,294.42 L605.00,293.18 L607.50,291.30 L610.00,290.53 L612.62,289.13 L615.31,288.02 L617.85,285.99 L620.00,285.42 L621.60,284.09 L622.81,283.79 L623.87,283.19 L625.00,283.33 L626.13,282.39 L627.19,282.23 L628.40,280.97 L630.00,280.35 L632.15,279.75 L634.69,278.77 L637.38,278.38 L640.00,278.21 L642.50,277.02 L645.00,276.50 L647.50,275.72 L650.00,275.18 L652.50,274.15 L655.00,273.45 L657.50,272.81 L660.00,272.03 L662.47,271.07 L664.93,270.96 L667.42,269.65 L670.00,268.94 L672.96,267.97 L676.17,267.57 L679.08,266.18 L681.10,265.31" stroke="#2f3d99" stroke-width="2.2" fill="none" stroke-linejoin="round" stroke-linecap="butt" />
<path d="M525.60,270.40 L522.00,277.20 L525.60,284.00" stroke="#84c8f4" stroke-width="0.9" fill="none"/>
<path d="M541.70,270.40 L545.30,277.20 L541.70,284.00" stroke="#84c8f4" stroke-width="0.9" fill="none"/>
<text x="526.6" y="280.9" font-size="15" style="font-family:'Liberation Serif',serif;font-style:italic" fill="#84c8f4" textLength="8.6" lengthAdjust="spacingAndGlyphs">S</text>
<text x="535.2" y="282.6" font-size="10" style="font-family:'Liberation Serif',serif;font-style:italic" fill="#84c8f4" textLength="5.2" lengthAdjust="spacingAndGlyphs">z</text>
<path d="M596.90,317.10 L593.30,324.10 L596.90,331.10" stroke="#2f3d99" stroke-width="0.9" fill="none"/>
<path d="M614.00,317.10 L617.60,324.10 L614.00,331.10" stroke="#2f3d99" stroke-width="0.9" fill="none"/>
<text x="597.8" y="327.9" font-size="15" style="font-family:'Liberation Serif',serif;font-style:italic" fill="#2f3d99" textLength="7.6" lengthAdjust="spacingAndGlyphs">L</text>
<text x="607.1" y="330.0" font-size="10" style="font-family:'Liberation Serif',serif;font-style:italic" fill="#2f3d99" textLength="5.2" lengthAdjust="spacingAndGlyphs">z</text>
<text x="555.70" y="376.80" font-size="11.5" text-anchor="start" style="font-family:'Liberation Serif',serif;font-weight:normal;font-style:normal" fill="#303030" textLength="73.00" lengthAdjust="spacingAndGlyphs">Energy (meV)</text>
<text x="461.00" y="304.10" font-size="12" text-anchor="middle" style="font-family:'Liberation Serif',serif;font-weight:normal;font-style:normal" fill="#303030" textLength="103.00" lengthAdjust="spacingAndGlyphs" transform="rotate(-90 461.00 304.10)">Accumulation (a.u.)</text>
</svg>
</body></html>
